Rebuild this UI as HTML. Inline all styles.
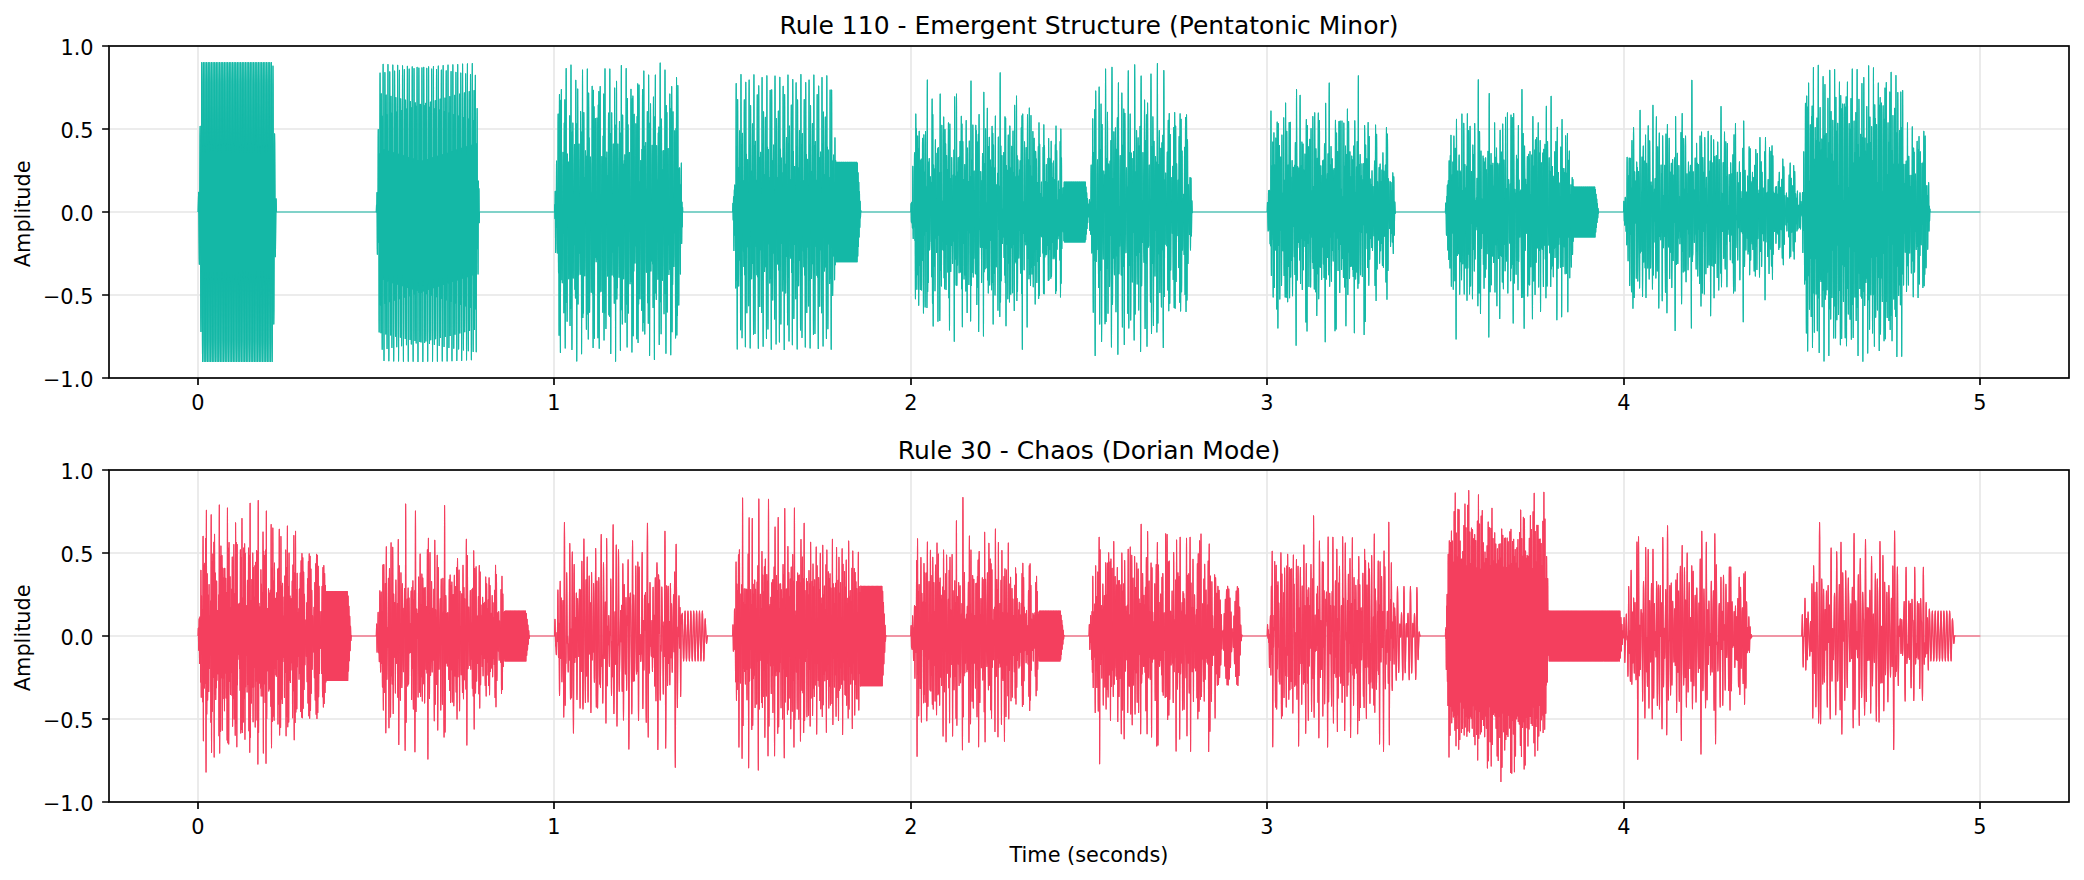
<!DOCTYPE html>
<html lang="en"><head><meta charset="utf-8"><title>Cellular Automaton Music Waveforms</title>
<style>html,body{margin:0;padding:0;background:#fff}body{width:2084px;height:880px;overflow:hidden}svg{display:block}</style>
</head><body>
<svg width="2084" height="880" viewBox="0 0 2084 880" font-family="'DejaVu Sans','Liberation Sans',sans-serif" fill="#000">
<rect width="2084" height="880" fill="#fff"/>
<path d="M198 46.0V378.0M554 46.0V378.0M911 46.0V378.0M1267 46.0V378.0M1624 46.0V378.0M1980 46.0V378.0M109.0 378H2069.0M109.0 295H2069.0M109.0 212H2069.0M109.0 129H2069.0M109.0 46H2069.0" stroke="#b0b0b0" stroke-opacity="0.3" stroke-width="1.67" fill="none"/>
<g stroke="#14b8a6" stroke-width="1.04" fill="none" stroke-linejoin="round"><path d="M275.97 212h100.8M479.11 212h75.84M682.24 212h50.9M860.42 212h50.9M1191.84 212h75.84M1394.96 212h50.9M1598.08 212h25.97M1929.51 212h50.89"/><path id="w46" d="M198.09 212l.01 0 .08-1.4 .35-16.9 .09-1.4 .12 3.8 .49 62.2 .13 5.9 .13-8 .53-119.7 .13-10.3 .13 12.8 .54 177.8 .13 14.8 .13-16.4 .52-232.2 .13-20.4 .14 19.9 .54 258.4 .13 20.5 .14-19.4 .54-258.3 .13-21.1 .14 19.2 .54 260 .14 19.6 .13-20.6 .54-258.4 .13-19.8 .14 20.1 .54 258.4 .13 20.3 .14-19.6 .54-258.3 .13-20.9 .14 19.4 .54 260 .14 19.4 .13-20.9 .54-258.3 .14-19.6 .13 20.3 .54 258.4 .13 20.1 .14-19.8 .54-258.4 .13-20.6 .14 19.6 .54 260 .14 19.2 .13-21.1 .54-258.3 .14-19.4 .13 20.5 .54 258.4 .13 19.9 .14-20 .54-258.4 .13-20.4 .14 19.5 .54 258.3 .13 21 .14-19.3 .54-260 .14-19.5 .13 20.7 .54 258.4 .13 19.7 .07-5 .26-102.1 .07-37.6 0-.8 .01-3.1 0-.8 0-.8 0-3.1 .01-.8 .06-37.6 .27-102.1 .06-5 .14 19.7 .54 258.4 .13 20.7 .14-19.5 .54-260 .14-19.3 .13 21 .54 258.3 .13 19.5 .14-20.4 .54-258.4 .13-20 .14 19.9 .54 258.4 .13 20.5 .14-19.4 .53-258.3 .14-21.1 .13 19.2 .55 260 .13 19.6 .14-20.6 .54-258.4 .13-19.8 .14 20.1 .54 258.4 .13 20.3 .14-19.6 .53-258.3 .14-20.9 .14 19.4 .54 260 .14 19.4 .13-20.9 .54-258.3 .13-19.6 .14 20.3 .54 258.4 .13 20.1 .14-19.8 .53-258.4 .14-20.6 .14 19.6 .54 260 .14 19.2 .13-21.1 .54-258.3 .13-19.4 .14 20.5 .54 258.4 .13 19.9 .14-20 .54-258.4 .13-20.4 .13 19.5 .54 258.3 .14 21 .13-19.3 .55-260 .13-19.5 .14 20.7 .54 258.4 .13 19.7 .07-5 .26-102.1 .07-37.6 0-.8 .01-3.1 0-.8 0-.8 0-3.1 0-.8 .07-37.6 .26-102.1 .07-5 .14 19.7 .53 258.4 .14 20.7 .13-19.5 .55-260 .13-19.3 .14 21 .54 258.3 .13 19.5 .14-20.4 .54-258.4 .13-20 .14 19.9 .53 258.4 .14 20.5 .13-19.4 .54-258.3 .14-21.1 .13 19.2 .55 260 .13 19.6 .14-20.6 .54-258.4 .13-19.8 .14 20.1 .53 258.4 .14 20.3 .13-19.6 .54-258.3 .14-20.9 .13 19.4 .55 260 .13 19.4 .14-20.9 .54-258.3 .13-19.6 .14 20.3 .54 258.4 .13 20.1 .13-19.8 .54-258.4 .14-20.6 .13 19.6 .55 260 .13 19.2 .14-21.1 .54-258.3 .13-19.4 .14 20.5 .54 258.4 .13 19.9 .13-20 .54-258.4 .14-20.4 .13 19.5 .54 258.3 .14 21 .13-19.3 .55-260 .13-19.5 .14 20.7 .54 258.4 .13 19.7 .07-5 .26-102.1 .07-37.6 0-.8 0-3.1 0-.8 .01-.8 0-3.1 0-.8 .07-37.6 .26-102.1 .07-5 .13 19.7 .54 258.4 .14 20.7 .13-19.5 .55-260 .13-19.3 .14 21 .54 258.3 .13 19.5 .14-20.4 .53-258.4 .14-20 .13 19.9 .54 258.4 .14 20.5 .13-19.4 .54-258.3 .14-21.1 .13 19.2 .55 260 .13 19.6 .14-20.6 .53-258.4 .14-19.8 .13 20.1 .54 258.4 .14 20.3 .13-19.6 .54-258.3 .14-20.9 .13 19.4 .55 260 .13 19.4 .14-20.9 .54-258.3 .13-19.6 .13 20.3 .54 258.4 .14 20.1 .13-19.8 .54-258.4 .14-20.6 .13 19.6 .55 260 .13 19.2 .14-21.1 .54-258.3 .13-19.4 .13 20.5 .54 258.4 .14 19.9 .13-20 .54-258.4 .14-20.4 .13 19.5 .54 258.3 .13 21 .14-19.3 .54-260 .14-19.5 .14 20.7 .53 258.4 .14 19.7 .06-5 .27-102.1 .06-37.6 .01-.8 0-3.1 0-.8 0-.8 .01-3.1 0-.8 .07-37.6 .26-102.1 .07-5 .13 19.7 .54 258.4 .13 20.7 .14-19.5 .55-260 .13-19.3 .14 21 .53 258.3 .14 19.5 .13-19.6 .53-255.1 .13-20.8 .13 19.6 .54 222.9 .13 15.7 .13-14.1 .54-165 .13-11.3 .13 9.6 .52 106.6 .13 6.9 .12-4.7 .48-50.4 .12-2.9 .07 .7 .24 10.1 .07 2.2 0 .2M376.27 212l.01 0 .04-.6 .16-6.1 .03-.4 .04 .5 .15 6.2 .03 .6 .05-.9 .18-16.8 .05-1.9 .06 2.9 .23 53.5 .06 5.2 .05-2.8 .2-41.7 .05-3.2 .04 2.3 .17 31.1 .04 2.4 .06-7 .23-97.9 .06-7.9 .05 7.6 .22 92 .05 6.6 .04-3.4 .16-43.4 .04-4 .05 7.9 .23 129 .06 10.3 .05-13 .23-154.2 .06-11.2 .04 4.9 .16 63.1 .04 5.1 .05-9.4 .2-132.8 .06-11.5 .06 15.2 .23 201.7 .06 14.9 .04-6.4 .18-81.7 .04-6.8 .05 7 .19 105.4 .04 10.3 .06-13.8 .25-209.5 .06-15.7 .04 8.8 .19 103.5 .05 7.3 .04-6.5 .17-83.2 .05-7.5 .06 13.3 .23 202.5 .06 17.3 .05-9.6 .21-130.5 .05-10.2 .04 5 .17 70.4 .04 5.1 .06-14.4 .23-187.3 .06-13.4 .05 14.3 .22 157 .05 11.5 .04-4.9 .16-64.9 .04-4.6 .06 12.3 .22 163.2 .06 12.3 .05-15.5 .23-181.9 .05-13.8 .05 4.7 .16 67.9 .04 6.2 .05-8.4 .21-136 .05-11.3 .06 16.2 .24 201 .06 13.8 .04-7.1 .17-80.9 .05-5.8 .04 8 .19 106.7 .05 9.6 .06-14.8 .24-209.6 .06-14.5 .05 9 .18 100.6 .05 8.3 .04-5.5 .18-85.5 .04-7.3 .06 14.5 .24 203.1 .06 16.2 .05-10.4 .21-129.2 .05-9 .04 5.5 .16 69.5 .04 6.2 .06-12 .23-187.8 .06-16.6 .05 12 .22 158.3 .06 10.8 .04-5.3 .15-63.5 .04-5.7 .06 10.3 .22 163.9 .05 15.3 .06-13.1 .23-183.5 .06-13.2 .04 5.3 .16 67.6 .04 5.4 .06-9.6 .21-137.4 .05-10.5 .06 17.2 .24 200.3 .05 12.6 .05-7.3 .16-78.6 .04-6.7 .05 6.9 .2 109.6 .05 9.4 .06-15.3 .23-206.7 .06-16.8 .05 7.3 .19 101.4 .04 7.7 .05-6.5 .18-86.4 .04-6.7 .06 15.7 .24 203.6 .06 15.2 .05-11.3 .2-127.7 .05-7.9 .04 6.4 .17 70 .04 5.6 .05-13.2 .24-189 .05-15.5 .06 12.8 .22 156.9 .05 9.6 .04-6 .16-63.6 .04-5 .05 11.5 .23 165.3 .05 14.4 .06-14 .23-182.4 .06-12 .04 6 .16 67.2 .04 4.6 .05-10.3 .21-136.4 .05-12.6 .06 14 .23 200 .06 15.3 .05-6 .17-79.5 .04-6.2 .05 8.1 .19 110.9 .05 8.6 .06-16.3 .24-206.6 .06-15.8 .05 8.1 .18 100.3 .05 6.6 .04-7.2 .18-85.6 .04-8 .06 13.5 .24 206.6 .06 14.9 .05-11.4 .2-124.7 .05-9 .04 5.4 .17 71.9 .04 5.3 .06-14.3 .23-189.9 .06-14.7 .05 13.2 .22 153.4 .05 11 .04-5 .17-65.1 .04-4.5 .05 12.7 .22 166.5 .06 13.6 .05-14.3 .23-179 .06-13.7 .04 4.5 .16 66.9 .04 5.9 .05-9 .21-139.7 .05-12.4 .06 15 .24 199.3 .06 14.2 .04-6.7 .17-78.7 .05-5.2 .05 8.7 .18 110 .05 10.4 .06-13.9 .24-209.2 .06-15.4 .05 8.3 .18 97.6 .05 7.6 .04-6.2 .18-88.1 .05-7.8 .06 14 .23 204.2 .06 17.3 .05-9.4 .21-125.5 .05-8.4 .04 6 .16 70.9 .04 6.5 .06-12.5 .24-193.2 .06-14.3 .05 13.9 .22 152.1 .05 9.8 .04-5.5 .16-63.8 .03-5.5 .06 11 .23 170.1 .05 13.3 .06-15.2 .23-177.9 .05-12.5 .04 5.3 .16 66.6 .05 5.1 .05-10.2 .21-141.2 .05-11.6 .06 16.1 .24 198.5 .06 13 .04-6.9 .16-76.6 .05-6.1 .05 7.6 .19 113.1 .05 10.2 .06-15.1 .24-209 .06-14.3 .05 9.1 .18 96.4 .05 6.6 .04-7.3 .18-89 .04-7.1 .06 15.1 .24 204.7 .06 16.2 .05-9.6 .2-122.4 .05-9.6 .04 5.1 .17 72.9 .04 6.2 .06-13 .23-191.4 .06-16.7 .05 11.1 .21 151.1 .06 11.8 .04-4.6 .16-65.3 .04-5.2 .06 12.3 .22 171.3 .06 12.4 .06-16.1 .22-176.6 .06-11.3 .04 5.6 .15 64.9 .04 6 .06-8.9 .21-144.4 .06-11.4 .05 16.3 .24 195.4 .05 15 .05-5.7 .17-77.4 .04-5.6 .05 8.8 .2 114.3 .04 9.5 .06-15.5 .24-206.1 .06-16.5 .05 7 .18 95.6 .04 8 .05-6.3 .18-91.5 .05-6.9 .06 16.2 .24 205.1 .05 15.2 .05-10.4 .2-121.1 .05-8.4 .05 6 .16 73.5 .04 5.5 .06-14.2 .23-192.3 .06-15.8 .06 11.9 .21 149.9 .05 10.5 .05-5.3 .16-65.5 .04-4.4 .05 12.9 .22 169.8 .06 14.8 .06-13 .22-176 .06-13.5 .04 4.5 .16 66.1 .04 5.6 .05-9.6 .21-143.4 .06-13.5 .05 13.8 .24 197.4 .06 14.4 .04-5.9 .17-75.4 .04-6.5 .05 7.8 .2 117.2 .05 9.3 .06-16.5 .24-205.9 .06-15.4 .04 7.7 .19 94.6 .04 6.9 .05-6.9 .17-90.7 .05-8.4 .06 14 .24 208 .06 14.9 .05-10.6 .19-118 .05-9.5 .04 4.7 .17 73.9 .04 7.1 .06-12.3 .24-195.5 .06-15.5 .05 12.7 .22 148.5 .05 9.3 .04-5.7 .16-64.3 .04-5.5 .05 11.3 .23 173.3 .06 14.6 .05-13.9 .23-174.9 .05-12.3 .04 5.2 .17 65.9 .04 4.8 .05-10.8 .21-144.8 .05-12.7 .06 14.8 .24 196.6 .06 13.3 .04-6.7 .17-74.7 .04-5.5 .05 8.3 .19 116.5 .05 11.1 .06-14.1 .24-208.4 .06-14.9 .05 7.9 .17 92 .05 7.8 .05-5.9 .18-93.3 .04-8.2 .06 14.5 .24 205.6 .06 17.3 .05-8.8 .2-118.8 .05-8.8 .04 5.6 .17 74.6 .04 6.5 .06-13.5 .24-196.4 .05-14.6 .06 13 .21 145.1 .05 10.7 .04-4.8 .16-65.9 .04-5.1 .06 12.5 .23 174.5 .05 13.7 .06-14.9 .22-173.5 .06-11.2 .04 5.6 .16 64.3 .04 5.7 .05-9.4 .21-148.2 .06-12.5 .06 15.9 .24 195.6 .05 12.1 .04-6.8 .17-72.7 .04-6.4 .05 7.3 .2 119.4 .05 10.9 .06-15.1 .24-208.1 .06-13.8 .04 8.6 .18 91 .05 6.8 .04-7 .18-94.3 .05-7.5 .06 15.6 .24 205.9 .06 16.2 .05-9.5 .2-117.6 .05-7.6 .04 6.5 .16 75.2 .05 5.8 .05-14 .24-194.4 .05-17 .06 10.8 .21 146.2 .06 10 .04-5.3 .15-64.6 .04-6.2 .06 10.8 .23 177.9 .06 13.4 .05-15.1 .22-170 .06-12.8 .04 4.5 .16 65.5 .04 5.3 .06-10.6 .21-149.6 .06-11.7 .05 16.1 .23 192.5 .06 14 .04-5.7 .17-73.6 .04-5.9 .05 8.4 .2 120.8 .05 10.2 .06-15.4 .24-205.2 .06-16 .04 7.1 .19 91.7 .04 6.2 .05-8 .18-95.3 .05-6.8 .06 16.7 .23 206.1 .06 15.1 .05-9.7 .2-114.6 .04-8.7 .05 5.7 .17 77.2 .04 5.5 .06-15.1 .23-195.2 .06-16 .05 11 .21 142.8 .05 11.3 .05-4.3 .16-66.3 .04-5.8 .05 11.4 .23 176.5 .06 15.8 .05-12.7 .23-171.6 .06-12.1 .04 5.2 .16 65.4 .04 4.4 .05-11.8 .22-150.9 .05-10.8 .06 17.1 .23 191.5 .06 12.8 .04-6.3 .17-73 .04-5 .05 9.5 .2 122.1 .05 9.5 .06-16.5 .24-204.8 .05-14.9 .05 7.3 .18 89.3 .04 7.2 .05-6.7 .18-96.2 .05-8.8 .06 14.5 .24 209 .06 14.7 .05-10.4 .19-113.3 .05-7.6 .04 6.2 .17 76.4 .04 6.8 .06-13.2 .24-198.4 .06-15.7 .05 11.8 .21 141.5 .05 10.1 .04-5.2 .16-66.5 .04-5.2 .06 12.7 .23 177.6 .05 14.9 .06-13.6 .23-170.3 .05-10.9 .04 5.6 .16 63.9 .04 5.4 .05-9.9 .22-151.8 .05-13.7 .06 14.6 .24 193.4 .06 12.3 .04-6.6 .16-71 .04-6 .05 8 .2 123 .05 11.9 .06-14.1 .24-207.2 .06-14.4 .05 8 .17 88.3 .05 6.2 .04-7.7 .19-97.3 .04-8.2 .06 15 .24 206.4 .06 17.1 .05-8.1 .19-112.3 .05-9.2 .04 5.3 .17 78.6 .05 6.5 .06-14.4 .23-199.1 .06-14.8 .06 12.7 .21 140 .05 8.9 .04-5.6 .15-65.4 .04-6.2 .06 11 .23 180.9 .06 14.7 .06-13.9 .22-166.8 .05-12.5 .04 4.6 .16 65.1 .04 5 .06-11.1 .21-153.2 .06-12.9 .05 15 .24 190.1 .05 14.1 .05-5.4 .16-72 .04-5.4 .05 9.1 .2 124.4 .05 11.2 .06-15.2 .25-206.7 .06-13.3 .04 8.2 .17 85.8 .05 7.1 .04-6.6 .19-100.1 .05-7.8 .06 16 .24 206.6 .05 16 .05-8.8 .2-111.2 .05-8 .04 6.3 .17 79.3 .04 5.8 .06-15.5 .24-199.8 .06-13.8 .05 12.8 .21 136.8 .05 10.2 .04-4.7 .16-67.1 .04-5.9 .06 12.1 .23 182.2 .06 13.7 .05-14.7 .22-165.5 .06-11.4 .04 5.1 .15 63.6 .04 5.9 .06-9.6 .22-156.6 .05-12.6 .06 15.8 .23 189.2 .06 13 .04-5.7 .16-70.2 .04-6.2 .05 7.9 .21 127.5 .05 11 .06-15.5 .24-203.7 .06-15.5 .04 6.8 .18 86.7 .04 6.5 .05-7.4 .18-99.2 .05-9.5 .06 13.7 .24 209.4 .06 15.7 .05-9.6 .19-109.9 .05-6.9 .04 6.8 .17 78.5 .04 7.2 .06-12.9 .24-200.2 .06-16.9 .05 10.7 .21 137.8 .05 9.5 .04-5.5 .17-67.5 .04-5.2 .05 12.7 .23 180.6 .06 16.1 .05-12.3 .23-166.9 .05-10.7 .04 5.8 .16 63.5 .04 5.2 .05-10.8 .22-158 .06-11.8 .06 16.9 .23 188 .06 11.9 .04-6.4 .16-69.7 .04-5.4 .05 9.1 .21 128.9 .05 10.2 .06-16.5 .23-203.2 .06-14.3 .05 7.5 .17 85.7 .05 5.5 .05-8.4 .18-100.4 .04-8.8 .06 14.8 .25 209.5 .06 14.6 .04-9.8 .19-106.9 .05-8 .04 5.9 .18 80.7 .04 6.9 .06-14 .24-200.9 .05-15.9 .06 11.5 .21 136.4 .05 8.3 .04-6 .16-66.3 .03-6.3 .06 11 .23 183.8 .06 16 .06-12.7 .22-163.4 .05-12.2 .04 4.7 .16 64.9 .05 4.8 .05-11.6 .21-156.7 .06-14 .06 13.7 .23 187.5 .06 14.3 .04-5.3 .16-70.6 .05-4.9 .05 10.3 .2 130.2 .05 9.4 .06-17.6 .24-202.6 .06-13.1 .04 7.7 .17 83.4 .05 6.4 .04-7.4 .19-103.2 .05-8.6 .06 15.3 .24 206.8 .06 16.9 .04-8 .2-107.8 .05-7.3 .04 6.9 .17 81.5 .05 6.2 .05-15.2 .24-201.5 .06-14.9 .05 11.8 .21 133.1 .05 9.6 .04-5.1 .16-68.2 .04-6 .06 12.2 .23 185.1 .06 15 .05-13.5 .22-162.2 .06-11 .04 5.2 .15 63.5 .04 5.7 .06-10.1 .22-160.1 .06-13.8 .05 14.6 .23 186.5 .06 13.1 .04-5.5 .16-68.9 .05-5.8 .05 8.6 .2 131.1 .05 12.1 .06-14.5 .24-202.3 .06-15.9 .04 6.3 .18 84.2 .04 5.8 .05-8.5 .19-104.3 .05-7.9 .06 16.4 .23 206.8 .06 15.8 .05-8.3 .19-104.8 .05-8.4 .04 5.6 .17 82 .04 8.1 .06-13.1 .25-204.6 .06-14.5 .05 12.5 .2 131.7 .05 8.4 .05-6 .16-68.6 .04-5.3 .06 13.4 .23 186.1 .05 14.1 .06-14.4 .22-160.7 .06-9.8 .04 5.9 .15 63.4 .04 5 .06-11.2 .22-161.6 .05-12.9 .06 15.6 .23 185.4 .06 11.9 .04-6.2 .16-68.4 .04-5 .05 9.8 .21 132.5 .05 11.3 .06-15.5 .23-201.8 .06-14.7 .05 6.6 .17 81.8 .04 6.8 .05-7 .19-105.2 .05-10.1 .06 14 .24 209.6 .06 15.4 .05-9 .18-103.7 .05-7.3 .05 6.6 .17 82.9 .04 7.4 .06-13.6 .24-202.4 .06-17 .05 10 .2 130.8 .05 10.1 .05-5.1 .16-70.3 .04-5 .06 14.6 .23 187.1 .06 13 .06-14.5 .21-157.3 .05-11.3 .04 4.9 .17 64.9 .04 4.5 .05-12.4 .22-162.9 .06-12 .05 15.8 .23 182.1 .06 13.6 .04-4.8 .16-68 .04-6.2 .05 8.5 .21 135.8 .06 11 .05-16.5 .24-201.1 .06-13.6 .04 7.3 .18 81 .04 5.8 .05-8.1 .19-106.4 .04-9.4 .06 15.1 .25 209.5 .06 14.4 .04-9.3 .18-100.8 .05-8.3 .05 5.6 .17 85.3 .05 7.1 .06-14.7 .23-203 .06-16 .05 10.7 .21 129.5 .05 9 .04-5.6 .16-69.4 .04-6.1 .06 12.1 .23 183 .06 13.3 .05-13.8 .23-146.4 .05-8.7 .04 4.9 .16 52 .04 4.1 .05-8.7 .22-118.2 .06-8.4 .05 11.5 .24 121.7 .05 7 .04-3.9 .17-39.2 .04-2.7 .05 4.7 .2 61.2 .05 5.2 .05-6.2 .24-81.1 .06-5.8 .05 2.2 .17 27.4 .05 2.1 .04-1.5 .18-21 .04-1.8 .06 2.5 .23 30.2 .06 1.7 .05-1.3 .21-9.3 .06-.2 .02 0 .01 0M554.45 212l.01 0 .04-.7 .15-6.3 .04-.5 .04 1 .18 12.2 .05 1 .04-1.7 .2-23.6 .05-2.1 .05 3.7 .24 52.9 .05 4.6 .06-3.9 .22-49 .05-3.2 .05 2.5 .17 26.7 .04 1.9 .06-4.6 .23-57.9 .06-3.9 .13 19.5 .51 62.8 .13 9.6 .05-2.3 .22-31.9 .06-2.1 .02 .4 .1 4.9 .03 .5 .06-4.2 .24-94.5 .07-9.8 .06 9.8 .23 138 .06 11 .05-6.1 .18-80.4 .05-6.8 .05 9 .21 134.2 .05 12.5 .06-14.4 .24-209.8 .06-16.5 .05 11.7 .2 144.8 .06 10 .04-11.2 .2-137.1 .05-12.4 .06 14.8 .23 221.5 .06 15.9 .06-15.1 .21-168.7 .05-11.6 .05 9 .19 106.1 .05 7.6 .05-13.4 .23-164.6 .06-12.2 .06 13.3 .23 147.9 .06 8.8 .04-4.4 .17-45.6 .04-3.3 .06 5.3 .21 66.4 .05 4.7 .12-23.7 .48-96.3 .12-10.5 .06 4.5 .25 71.3 .07 5.1 .03-1.9 .14-21.9 .04-2.1 .05 4.9 .22 91.5 .06 9.2 .06-11.1 .24-165.6 .06-13.1 .05 8.4 .19 105.9 .05 8.7 .05-8.6 .2-125.8 .05-11.9 .06 14.3 .24 216.8 .06 17.2 .05-13.4 .21-166.2 .05-13.5 .05 9 .2 128.1 .04 10.5 .06-14.6 .23-202 .05-17.4 .06 13.3 .23 182.5 .05 14.1 .05-7.2 .19-95.4 .05-6.8 .05 10.8 .21 131.1 .06 10.4 .06-12.4 .25-146 .06-9 .04 3.5 .18 37.3 .04 2.3 .04-2.7 .17-30.3 .05-2.3 .12 17.9 .48 86.1 .12 13.1 .07-6 .26-101.6 .06-9.1 .05 3.4 .17 47.7 .04 4.6 .05-5.1 .21-88.8 .05-8.1 .06 12.8 .24 183.3 .06 13.6 .05-11.7 .21-134.8 .05-10.3 .05 9.1 .19 121 .05 9.7 .06-15.8 .23-211.8 .06-15.8 .05 16.2 .22 188.9 .06 12.9 .05-10.2 .18-120.3 .05-9.4 .06 13.3 .22 178.7 .05 14.4 .06-15 .23-188.2 .06-14.4 .05 6.5 .19 88.9 .04 7.2 .05-7 .21-96.8 .05-7.7 .06 11.7 .26 135.7 .07 7.4 .05-4 .18-32.7 .05-1.5 .03 .4 .09 4.6 .03 .4 .13-14.4 .53-68.4 .14-17.9 .06 8.1 .26 126.8 .06 10 .05-6.8 .2-79.7 .05-6.1 .04 6.2 .19 86.8 .05 8.2 .06-11.8 .23-189.2 .06-16.6 .06 12.5 .22 167.4 .05 11.3 .05-10.5 .19-119 .05-8.9 .05 14.6 .22 195.8 .06 17.5 .06-14.7 .23-207.9 .06-14.8 .04 10 .19 118.5 .05 10 .05-10.5 .22-151.4 .05-11.1 .06 16.3 .24 185.9 .06 12.8 .05-7.4 .19-87.2 .05-6.8 .05 4.6 .18 63.2 .05 4.6 .07-10.4 .26-114.2 .06-6.6 .12 15.3 .51 78.2 .12 15.9 .04-1.4 .14-16.3 .04-1.4 .04 2.1 .18 34.8 .05 3.1 .06-8.9 .25-140.4 .06-13.4 .05 8 .22 116.6 .05 8.6 .05-7.2 .18-90.1 .05-8 .05 12.3 .24 187.1 .05 15 .06-15.7 .23-193.1 .05-13.2 .05 10.6 .19 122.8 .05 9.8 .05-12.6 .21-177.2 .06-15.3 .06 16.4 .23 216.9 .06 14.2 .05-11.4 .2-122.3 .05-9.1 .04 8.9 .2 119.3 .05 10.3 .06-13 .25-175.1 .06-12.6 .05 8 .21 89.9 .05 6.1 .04-2.7 .16-33.8 .05-2.4 .06 7.2 .25 85.4 .07 5.7 .12-11 .47-93 .12-21.1 .05 3.6 .2 49.3 .05 3.5 .05-3.4 .16-40.9 .04-3.3 .06 10 .25 148.2 .06 11.5 .05-12.7 .22-149.1 .06-11.3 .05 7.9 .18 100.6 .05 7.1 .06-14.1 .22-175.9 .05-12.7 .06 17.8 .23 210.2 .05 17.1 .05-9.7 .2-134.7 .05-9.6 .05 12.5 .21 153.7 .05 12.6 .06-16.3 .23-214.4 .06-15.2 .06 11.6 .2 130.3 .05 9.4 .05-7.2 .19-92 .04-7.4 .06 12 .25 152.8 .06 9.8 .06-10 .23-93 .05-4.9 .04 1.2 .12 12.1 .03 .8 .06-4.3 .24-53.5 .06-3.6 .12 10.4 .5 98.1 .12 26.7 .06-6.9 .22-86.4 .05-6.2 .04 4.3 .17 51.9 .04 4.9 .06-8.8 .23-146.4 .06-12.5 .06 14.1 .23 180.5 .06 12.9 .04-9.5 .19-113.4 .05-9.4 .05 11.1 .21 160.2 .05 14.7 .06-15.6 .24-225.2 .06-16.4 .05 12.3 .2 145.1 .05 12.1 .05-8.8 .2-132.9 .05-11.3 .06 15 .23 202.3 .06 14.3 .06-12.7 .21-138.6 .06-9.7 .04 5.5 .18 68.9 .04 5.7 .06-8.9 .23-120.3 .06-9.6 .07 10.4 .28 97.2 .07 2.9 .01-.1 .05-.4 .01 0 .05 1.4 .22 29.2 .06 2.6 .05-2.9 .22-30.3 .06-1.3 .01 0 .05 .7 .01 .1 .07-3.1 .27-96.4 .07-10.5 .06 9.2 .23 122.1 .06 9.8 .05-5.1 .17-69.8 .05-6.4 .05 8.5 .22 137.8 .05 13.6 .06-13.2 .24-203.1 .06-16.4 .05 10.4 .2 134 .05 10.3 .05-10.8 .19-144.2 .05-13.3 .06 15 .24 224.9 .06 16.9 .05-13.7 .21-161.3 .05-12.4 .05 8.6 .2 114.6 .05 7.9 .05-14.8 .23-176.6 .06-14.2 .05 11.6 .23 147 .06 9.8 .05-4.5 .17-52.3 .04-3.5 .06 7 .21 83.1 .05 6.7 .13-26 .49-98.6 .13-10.1 .06 3.9 .23 55.2 .06 4.6 .04-.9 .13-13.3 .03-1 .06 5.7 .23 93.3 .05 8.2 .06-11.6 .24-152.4 .06-12.4 .05 6.8 .19 93.2 .04 8.3 .05-8.2 .21-129.5 .05-12.5 .06 13.9 .24 214.6 .06 17.6 .05-12.2 .21-157.4 .05-11 .05 11 .19 132 .05 10.2 .06-16.5 .23-212.3 .06-15.2 .05 15.8 .23 176.3 .05 11.9 .05-8.4 .18-98.2 .05-8.3 .05 10.5 .23 149.5 .05 10.7 .07-14.1 .24-147.5 .06-8.4 .04 4.2 .17 40.4 .04 2.8 .05-3.9 .19-46.7 .05-3.3 .12 20.7 .48 92.3 .12 11 .06-5.6 .26-87 .06-7.8 .04 2.3 .16 35 .04 3.3 .05-5.3 .21-89.3 .06-8.7 .06 11.8 .24 175.9 .06 14.1 .05-9.6 .2-120.8 .05-10.3 .05 8.5 .2 123.9 .05 9.8 .06-16.4 .23-213.8 .06-16.9 .05 14.3 .22 178.5 .05 14.1 .05-9.1 .19-124.7 .05-8.9 .06 15.1 .22 189 .05 16.1 .06-14 .23-187.6 .06-13.7 .05 7.6 .18 91.5 .05 6.1 .05-9.7 .21-112.9 .06-8.1 .06 13.2 .25 141.4 .07 7.6 .04-3.7 .17-33.9 .04-2.4 .04 1 .15 15 .03 1.2 .13-16.1 .5-76.4 .12-15.5 .07 6.4 .26 115.3 .06 11 .05-4.3 .19-64.8 .05-5.4 .04 5.9 .2 86.8 .05 8.2 .06-12.4 .24-188.8 .06-14 .05 13.2 .21 150.6 .06 11.4 .04-8.8 .19-118.4 .05-11 .06 13.3 .23 207 .06 15.9 .05-17.1 .23-199.5 .05-12.8 .05 11 .19 118.9 .05 8.6 .05-12.9 .22-163.4 .05-12.8 .06 15.5 .24 189.3 .06 13 .04-7.5 .19-87 .05-7 .05 5.5 .2 79.2 .05 5.5 .06-12 .26-125.1 .07-6.6 .13 18.6 .52 68.3 .13 15.1 .03-.4 .1-5.7 .03-.6 .05 1.8 .19 33 .04 3.2 .07-8.6 .25-135.1 .06-12 .06 7.4 .2 98.6 .05 8.1 .05-6.3 .19-88.9 .04-7.4 .06 13.2 .23 187.8 .06 16.1 .06-13.4 .22-180.2 .05-14.8 .05 8.7 .2 122.7 .04 8.8 .06-14.8 .21-185 .06-16.6 .05 14.6 .24 212.3 .05 17.2 .05-8.6 .2-121.3 .05-10.3 .05 9.5 .21 135.3 .05 9.8 .06-15.7 .24-180.2 .06-13.1 .05 7.4 .2 89.2 .05 6 .05-3.9 .17-46.3 .04-3.6 .07 8.6 .25 100.2 .07 6 .12-12.9 .49-87.4 .12-18 .04 2.6 .18 32.5 .04 2.5 .05-2.7 .16-36.8 .04-3.7 .07 8.3 .24 146 .07 13.2 .05-10.3 .22-135 .06-9.5 .04 8 .19 94.1 .04 7.8 .06-12.7 .22-181.9 .06-14.3 .06 16.2 .22 203.2 .06 16.1 .05-9.4 .19-128.7 .05-10.2 .05 12 .21 164.8 .06 14.4 .06-15.8 .23-216.9 .06-15.6 .05 10.9 .2 126.4 .05 9.9 .05-7.5 .19-104.5 .05-9.1 .06 12.1 .25 164.4 .06 11.9 .05-8.6 .22-92.1 .06-5.7 .03 1.8 .15 21.4 .04 1.4 .06-6 .25-68.6 .06-4.1 .12 10.6 .48 96.5 .12 24.1 .05-4.7 .21-68.2 .05-6.1 .04 3 .18 47.1 .04 3.7 .06-10 .23-145.8 .06-13.6 .06 12 .23 168.5 .05 11.8 .05-9.5 .19-106.8 .05-7.2 .05 13.7 .22 168 .05 12.2 .06-18.5 .23-219.1 .06-15.5 .05 12.1 .2 140 .05 9.9 .05-11.4 .2-141.3 .05-12.1 .06 15.2 .23 209.2 .06 15.4 .05-11.5 .21-134.9 .06-10.2 .04 5.8 .19 79.3 .04 6.7 .06-10.1 .24-136.3 .06-10.3 .06 9.6 .25 96 .07 4.2 .02-.5 .09-4.5 .02-.3 .06 2.5 .23 39 .05 2.7 .13-12.1 .52-95.9 .13-31.3 .06 8.2 .22 105.4 .06 8.5 .04-4.3 .17-60.6 .05-6 .05 8.4 .23 143.5 .06 12 .06-15 .23-192.1 .05-15.1 .05 9.3 .2 123.8 .05 10.4 .05-10.8 .21-154.2 .05-11.3 .06 18.6 .23 223.3 .06 16.7 .05-13 .21-155.9 .05-10.2 .05 10.4 .19 119.7 .05 10.6 .06-13.1 .23-192.3 .06-13.7 .06 13.1 .22 142.4 .05 10.2 .05-4.7 .18-60.2 .04-3.9 .06 9 .22 101.4 .06 6.6 .13-32.7 .51-94.9 .13-10.8 .05 3.4 .23 41.8 .06 2.8 .02-.4 .1-5.7 .02-.6 .06 3.9 .25 94.3 .06 10.3 .06-9.3 .24-139.6 .06-12 .05 5.9 .18 83 .05 5.9 .05-10.7 .21-133.9 .06-10 .05 16.7 .24 207.6 .05 17.1 .06-10.8 .2-146 .05-11.5 .05 10.5 .2 138.6 .05 10.7 .06-17.2 .23-217.9 .06-16.4 .05 14.1 .22 169.6 .05 13 .05-7.8 .19-105.5 .04-8.4 .06 12.1 .23 163 .05 12.9 .06-12.4 .24-148.3 .06-9.7 .04 3.8 .17 45.2 .04 3.7 .05-4.6 .21-64.4 .05-4.7 .12 23.2 .48 96.1 .12 10.4 .07-4.6 .25-73 .06-5.6 .04 2 .15 23.5 .03 1.9 .06-5.6 .21-89.9 .05-9.4 .07 10.4 .24 166.6 .06 14.2 .05-8.2 .2-109.1 .05-7.6 .05 10.3 .2 125.5 .05 9.6 .05-16.5 .24-214 .05-17.6 .06 12.9 .21 170.1 .06 11.8 .04-10.4 .19-125.4 .05-11 .06 13.8 .23 203.7 .06 14.9 .05-16.4 .23-182.8 .06-11.8 .04 8.4 .19 93.4 .04 7.3 .06-9.6 .21-129.3 .05-11 .07 11.6 .24 145.9 .07 9.8 .04-3 .17-37.3 .05-2.7 .04 2.2 .17 28.7 .04 2.2 .13-17.8 .48-84.8 .12-13.3 .07 5.8 .25 103.1 .07 9.6 .04-3.4 .18-50.1 .05-4.2 .05 5.8 .19 87.2 .05 8.5 .07-11.9 .24-183.8 .06-14.7 .05 11 .2 136.4 .06 11.6 .04-7.9 .2-120.7 .05-10.7 .05 14.4 .24 211.1 .05 17.1 .06-15.1 .22-190.2 .06-14.4 .04 9.1 .19 120.1 .05 10.5 .05-11.9 .22-177.1 .06-15.3 .06 14.6 .24 190.8 .05 12.6 .05-8.2 .19-88.6 .05-5.9 .05 7.9 .2 93.4 .05 7.8 .06-11.1 .26-135.1 .06-7.8 .05 3.6 .19 33 .05 2 .02-.3 .1-3.7 .02-.3 .08 4.7 .29 55.8 .08 1.8 .02-.1 .06 .8 .22 32.3 .05 4.1 .07-7.8 .26-127.6 .06-10.7 .05 6.4 .19 81.5 .05 7.1 .05-5.7 .19-88.3 .05-7 .06 14.3 .24 189.5 .06 13.6 .05-14.8 .22-166.4 .05-12.1 .05 9.4 .19 119 .04 10.1 .06-13.8 .23-197.8 .05-15 .06 17.3 .23 205.8 .05 15.5 .05-9.4 .2-120.8 .04-8.6 .06 11.9 .21 147.6 .05 11.4 .06-15.2 .24-185.7 .05-13.9 .05 7.2 .2 88.7 .05 6 .05-5.2 .18-60.5 .05-4.5 .06 9.8 .26 112.9 .07 6.9 .12-15 .5-80 .13-15.8 .04 1.7 .15 18 .03 1.3 .05-2.4 .17-34.2 .04-3.3 .07 8.6 .25 142.9 .06 11.7 .05-9.8 .21-116.7 .06-9.3 .04 6.7 .19 92 .05 6.8 .06-14 .22-184.2 .06-15.4 .06 14.7 .22 194.4 .06 14.7 .05-9.5 .18-123.1 .05-11.1 .06 11.7 .22 178.7 .05 12.9 .06-18.9 .23-214.2 .06-14.8 .05 11 .2 124.6 .05 7.9 .05-10.6 .2-117.7 .05-8.1 .06 14.9 .23 171.8 .06 12.9 .06-7.8 .21-91.4 .06-5.5 .04 3 .15 31.9 .04 2.4 .06-6.8 .26-83.8 .06-5.6 .12 10.9 .48 93.8 .12 21.3 .05-3.6 .2-51.2 .05-4.1 .04 3 .17 41.1 .04 3.9 .06-9.2 .24-147.9 .06-12.4 .06 12 .22 150.8 .06 12.6 .04-7 .19-101.1 .05-8.2 .05 12.7 .22 175 .06 13.8 .06-17.4 .23-213.9 .06-15 .05 11.4 .19 133.2 .05 10.4 .05-11 .2-152.4 .05-13.6 .06 15 .24 214.1 .06 16.3 .05-11.1 .21-132.8 .06-8.2 .04 8.1 .18 89 .05 7.6 .06-10.9 .24-151.4 .06-10.4 .06 9.9 .24 94.3 .06 4.4 .03-1.3 .12-11.1 .03-.7 .06 4 .23 52 .06 3.3 .13-10.7 .49-97.8 .13-27.2 .05 6.7 .22 88.4 .06 6.9 .04-4 .17-53.6 .05-4.3 .05 10 .23 144.2 .06 12.8 .05-13.2 .23-181.9 .06-14.2 .05 9 .2 116.3 .04 8.1 .06-13.1 .21-159.6 .05-11.9 .06 18.2 .23 222.5 .06 17 .05-11.9 .2-148.3 .05-10.7 .05 10.2 .2 129.6 .04 11.6 .06-13.6 .24-201.3 .06-15.3 .06 12.3 .22 141.1 .05 8.5 .04-6.3 .18-66.7 .04-5.8 .06 8.4 .24 120 .06 8 .06-12 .28-95.8 .07-3.1 .01 0 .04 .5 .01 0 .05-1 .21-23.3 .06-2.4 .06 2.5 .23 29.3 .05 1.4 .02 0 .05-.5 .01-.1 .06 2.2 .27 64.3 .07 7 .06-5.9 .24-77.7 .06-5.6 .04 3.1 .18 37.2 .04 3.1 .06-3.7 .21-56.3 .05-5.1 .06 5.1 .24 70.5 .05 5 .05-3.1 .2-35.7 .05-2.7 .05 1.6 .19 21.5 .05 1.7 .05-1.4 .2-17.2 .05-1.1 .03 .3 .09 3.4 .03 .8 0 .1 .01 .2M732.64 212l.05-.7 .17-7.5 .04-.6 .06 .9 .21 14.7 .05 1.3 .05-1.3 .21-20.1 .05-1.9 .07 3.2 .26 46.3 .06 4.1 .08-4.8 .3-53.4 .07-2.5 .03 .2 .11 2.3 .02 .1 .04-.5 .16-6.3 .04-.6 .07 2.7 .27 43.9 .06 3.7 .04-1.3 .17-17.3 .04-1.7 .05 3.4 .24 63.5 .05 6.1 .07-11.6 .28-177.2 .07-15.6 .06 14.6 .25 169.3 .06 12.7 .05-9 .22-115.2 .05-9.3 .06 12.8 .25 175.2 .06 14.4 .07-17.4 .28-218.1 .06-13.9 .06 11.4 .23 116.3 .06 8.3 .05-4.3 .2-59.1 .05-4.7 .07 8.3 .27 103.4 .06 6.9 .14-19.8 .54-111.7 .13-23.8 .07 7.8 .26 111.9 .07 9.5 .05-4.8 .2-67.7 .06-5.3 .06 9.1 .23 127.4 .06 11 .07-15.9 .27-220.7 .07-18.5 .06 13.2 .25 174.3 .06 13.3 .05-8.7 .22-113.1 .05-9 .06 12.4 .26 167.7 .06 13 .07-15.7 .28-178.4 .07-10.4 .05 6.2 .22 58 .05 3.6 .04-1.4 .16-17.7 .04-1.4 .07 5.1 .27 62 .07 3.6 .03-.6 .12-6.2 .03-.5 .04 1.1 .17 19.3 .05 2.1 .07-7.6 .29-145.3 .07-13.7 .07 11.8 .26 152.8 .06 10.4 .05-8.7 .21-100.5 .06-8 .06 11.6 .24 163 .06 14.6 .07-16.8 .27-232.1 .07-15.6 .06 14 .24 150 .06 11.5 .05-6.4 .21-89.5 .05-7.6 .07 10.2 .26 139.1 .07 9.2 .08-15.5 .32-120 .08-3.1 .01 0 .05 .4 .01 0 .04-.5 .19-13.1 .04-1.4 .07 4.7 .28 75.9 .06 6.6 .05-2.4 .18-33 .04-3 .06 5.1 .23 84.8 .06 7.4 .07-14.1 .27-196.5 .07-15.1 .06 14.5 .25 172.3 .06 13.3 .06-8.6 .21-116.5 .06-9.8 .06 12.1 .25 175.1 .06 15.5 .07-15.7 .27-211.9 .07-14.9 .06 9.9 .24 107.6 .06 6.2 .04-4.7 .19-49.3 .05-4 .07 7.4 .27 94.5 .07 5.8 .13-16.2 .54-110.7 .14-28.1 .06 8.8 .27 121.6 .06 9.3 .06-6 .2-75.1 .05-6 .06 9.3 .24 135.7 .06 12.9 .07-15.2 .27-227.5 .07-16.8 .06 14.9 .24 169.9 .06 13.2 .06-7.9 .21-110.2 .06-9 .06 11.8 .25 162.8 .07 13.3 .07-13.9 .28-167.3 .07-11.1 .05 3.9 .21 45.4 .05 3 .04-.9 .14-11.7 .03-1 .07 4.1 .27 58.8 .07 3.6 .03-.7 .13-7.9 .03-.6 .05 1.8 .19 32.1 .05 3.6 .07-8.2 .29-156.8 .07-15.1 .06 11.8 .26 159.4 .07 10.9 .05-9.1 .21-104.9 .05-8.7 .06 11.7 .25 169.3 .06 13.2 .07-18.6 .27-227.6 .07-16.4 .06 12.9 .24 145 .06 9.2 .05-7.3 .21-81.7 .05-6.5 .06 10 .27 130.4 .06 8.8 .14-33.7 .54-108.6 .14-11.9 .07 5.8 .27 85.2 .07 6.4 .05-3.5 .18-41.2 .05-3.6 .05 5.8 .24 96 .05 9.3 .07-13.3 .28-204.6 .07-17 .06 13.8 .25 174.3 .06 14 .05-8.3 .22-116.8 .05-10.3 .06 12 .26 176.5 .06 13.5 .07-17.9 .27-204.1 .07-12.5 .06 9.8 .23 95.3 .06 5.4 .05-3.9 .18-40.8 .05-3.2 .06 6.9 .28 84.7 .07 5.4 .13-12.1 .55-109 .13-33.1 .07 9.4 .26 130.8 .07 9.4 .05-7 .21-82 .05-6.8 .06 9.9 .24 145.4 .06 12.2 .07-17.3 .27-227.8 .06-17.7 .07 14 .24 169.1 .07 11 .05-9.4 .21-104.7 .05-8.5 .07 11.7 .25 159.1 .07 11 .07-15.2 .28-154.7 .07-9.6 .05 3 .2 32.2 .05 1.7 .03-.7 .12-7.8 .03-.6 .07 3.8 .27 58.3 .07 4.6 .03-.8 .14-11.9 .04-1.2 .05 2.4 .21 45.6 .05 5 .07-9.3 .28-167.1 .07-16.5 .07 11.5 .26 165.1 .06 11.6 .05-9.3 .21-108.5 .06-9.5 .06 11.3 .25 172.2 .06 14.6 .07-17 .27-224.8 .06-17.6 .06 11.1 .25 137.3 .06 9.2 .05-6.5 .2-74.8 .05-5.5 .07 10 .26 121.1 .07 8.2 .13-28.6 .54-110.4 .14-16 .06 6 .27 93.7 .07 8.5 .05-3.4 .19-50.5 .05-4.6 .06 6.7 .24 108.2 .06 9.4 .07-15.2 .26-209.6 .07-18.1 .07 13.3 .25 177.6 .06 11.8 .06-10.5 .21-116.3 .05-8 .07 14.1 .24 172.2 .07 13.7 .07-16 .27-195.9 .07-13.4 .06 7.8 .23 84.2 .06 4.7 .04-3.3 .18-32.5 .04-2.1 .07 7 .28 75.3 .06 4.4 .05-1.4 .18-12.7 .04-.5 .02 0 .05 .6 .01 0 .08-3.9 .32-120.8 .08-14.5 .06 9.5 .26 137.7 .07 11.8 .05-6.2 .21-89.7 .05-8 .06 9.8 .25 152.2 .06 13.9 .06-15.9 .27-229.4 .07-19.3 .06 12.5 .25 165.1 .06 11.3 .05-8.5 .21-100.3 .06-8.2 .06 11.2 .26 152.5 .06 11.1 .08-14.4 .29-144.5 .07-7.1 .04 2.1 .17 18.5 .04 1.2 .03-.4 .13-6.3 .03-.5 .07 3.9 .27 62.3 .07 4.7 .04-1.6 .15-17.9 .04-1.3 .06 4 .21 58.6 .06 5.8 .07-11 .28-179 .07-14.9 .06 13.8 .25 167.8 .07 11.7 .05-9.8 .22-113.1 .05-8 .06 13.5 .24 172 .06 15.3 .07-16.1 .28-223.2 .07-15.6 .06 11.7 .23 126.8 .06 8.6 .05-5.4 .2-66.4 .05-5.7 .07 8.3 .27 112.9 .06 7.6 .14-24.2 .54-111.6 .13-19.5 .07 7.4 .27 103.9 .07 7.7 .05-4.9 .19-58.3 .05-5.3 .06 7.2 .23 118.1 .06 11.3 .07-14.8 .28-218.4 .07-16.5 .06 15.2 .25 175.2 .06 11.9 .05-10 .22-115 .05-8.3 .06 13.4 .25 169.2 .06 14.4 .07-14.8 .28-188.6 .07-11.7 .06 7.1 .22 70.4 .05 4.6 .05-1.8 .16-24.5 .04-2.2 .07 5.4 .28 68.3 .07 3.9 .04-.7 .13-7.2 .03-.6 .03 .5 .14 8.2 .03 .9 .07-6 .3-132.6 .07-14.5 .07 9.6 .26 145.7 .06 12.2 .06-6.7 .21-95.5 .05-8.9 .06 10.1 .25 160.3 .06 12.8 .07-18.6 .27-230 .06-16.6 .06 13.8 .25 157.7 .06 11.2 .05-7.7 .21-95.2 .05-7.7 .07 10.7 .26 145.2 .06 11 .08-13.5 .3-132.8 .07-5.7 .03 .9 .13 7.3 .04 .4 .03-.6 .13-7.3 .03-.8 .07 3.6 .28 68.9 .07 5.7 .04-2 .17-25 .04-2.2 .06 4.3 .22 72.4 .06 6.7 .07-12.6 .27-187.3 .07-16.2 .07 13.3 .25 171.7 .06 12.4 .06-9.6 .21-115.3 .06-8.6 .06 13.5 .25 175.3 .06 13.6 .06-17.7 .27-215.4 .07-16.1 .06 9.8 .24 117.6 .06 8.2 .05-4.7 .2-58.7 .05-4.3 .06 8.7 .27 102.9 .07 6.5 .13-20.2 .54-111.8 .14-23.3 .06 8.3 .27 112.4 .06 9 .05-5 .2-66.9 .05-6.4 .06 7.9 .25 129.2 .06 10.9 .06-16.7 .27-221.1 .07-17.6 .06 14.1 .25 174.2 .06 12.5 .06-9.3 .21-113 .06-8.4 .06 13.2 .25 167.5 .07 12.2 .06-15.9 .28-176.1 .07-11.9 .05 5.1 .22 58.5 .06 3.5 .04-1.5 .15-17.1 .04-1.5 .06 4.3 .28 61.9 .07 4.1 .03-.4 .12-6.4 .03-.4 .05 1.2 .17 19.8 .04 2 .07-7.9 .3-146.2 .07-13 .06 12 .25 151.2 .07 12.2 .05-7.5 .22-102.3 .05-7.7 .06 12.3 .24 163.3 .06 13.8 .07-17.1 .27-229.4 .07-18 .06 12.1 .24 151.9 .06 11.2 .06-6.9 .21-89.2 .05-7.1 .06 10.4 .26 137.1 .07 10.6 .08-13.8 .33-121.1 .08-3.1 .01 0 .04 .2 .01 .1 .04-.5 .18-13.3 .05-1.7 .07 4.2 .28 77 .07 6.4 .04-2.7 .18-33.3 .05-2.8 .05 5.3 .23 83.9 .06 8.7 .06-11.8 .28-196.3 .07-18 .06 12.5 .25 174.7 .07 13 .05-9.3 .22-116.5 .05-9.2 .06 12.9 .25 175.3 .06 14.6 .07-16.6 .28-211.5 .07-14.2 .05 10 .23 105.9 .06 7.4 .05-3.9 .19-50 .05-3.8 .07 7.9 .28 94 .07 5.4 .13-16.5 .54-111 .13-27.4 .07 9.2 .26 122.1 .07 8.8 .05-6.5 .21-75.5 .05-5.6 .06 10.1 .23 136.1 .06 12.3 .07-15.6 .27-224.9 .07-19.2 .06 12.7 .25 172.1 .06 13 .05-8.6 .22-110 .05-8.4 .06 12.6 .26 162.6 .06 12.6 .07-14.7 .28-166.7 .07-10.5 .05 4.2 .21 44.8 .06 2.7 .03-1 .14-11.5 .04-.9 .06 4.4 .27 58.1 .07 4 .03-.7 .13-8.1 .03-.6 .05 2.1 .2 32.6 .05 3.5 .07-8.8 .28-157.5 .07-14.4 .07 12 .25 157.6 .06 12.8 .06-7.7 .21-106.7 .06-8.6 .06 12.1 .24 167 .06 15.4 .07-16.2 .27-230.3 .07-16 .06 13 .24 142.9 .06 10.8 .05-6.1 .21-82.8 .05-6.3 .07 10.2 .26 128.5 .06 10.1 .14-31 .54-110.4 .14-12.8 .07 4.9 .27 85.3 .07 7.6 .05-2.9 .19-42.3 .04-3.5 .06 6.3 .23 96.5 .06 8.9 .07-14.1 .27-205.1 .07-16 .06 14.6 .25 174.3 .06 13.2 .06-8.9 .21-116.9 .06-9.7 .06 12.8 .25 176.5 .07 12.6 .06-18 .27-201.6 .07-14.5 .06 8.1 .23 95.3 .06 6.6 .05-3.1 .18-41.3 .05-3 .07 7.3 .27 84.2 .07 5 .14-12.2 .54-109.6 .14-32.3 .06 9.6 .26 129.5 .07 10.9 .05-6 .21-83.6 .05-6.7 .06 10.6 .25 145.9 .06 11.4 .06-18.2 .27-227.9 .07-16.7 .06 14.2 .24 166.8 .06 12.8 .06-7.8 .21-106.2 .06-8.3 .06 12 .25 156.8 .07 12.7 .07-13.3 .28-156.3 .07-9.3 .05 2.9 .2 31.3 .05 2 .03-.5 .12-7.6 .03-.8 .07 3.4 .27 58.9 .07 4.4 .04-1 .14-12.1 .03-1 .06 2.7 .21 46.1 .05 4.9 .07-9.9 .28-167.9 .07-15.7 .06 11.8 .26 163.2 .06 13.4 .05-7.8 .22-110.3 .05-9.4 .06 12.1 .25 172.5 .06 13.7 .07-18 .27-224.5 .07-16.7 .06 11.7 .24 136.9 .06 8.6 .05-7 .21-74.4 .05-5 .06 9.7 .26 116.4 .06 8.7 .07-8.7 .28-83.8 .07-3.4 .01 .1 .07 1.1 .02 .1 .05-1.8 .24-40 .05-4.3 .07 5.8 .26 88.1 .06 7.1 .05-4.9 .21-62.7 .06-5.6 .05 5.4 .23 83.7 .06 7.9 .06-8.3 .25-124.3 .07-9.4 .05 9.3 .24 110.1 .06 7.7 .06-7.5 .22-89.5 .05-7.3 .06 6.7 .23 89 .06 5.6 .06-7.3 .22-86.1 .06-6.2 .06 7.1 .22 86 .06 6.5 .05-6.8 .23-86.1 .06-6.7 .05 6.5 .23 86.1 .06 7 .05-6.3 .23-86 .06-7.3 .05 6 .23 86.1 .06 7.5 .05-6.1 .24-87.3 .05-6.2 .06 7.4 .23 86 .05 6.2 .06-7.1 .23-86.1 .05-6.4 .06 6.8 .23 86.1 .05 6.7 .06-6.6 .22-86 .06-7 .06 6.3 .22 86.1 .06 7.2 .06-6.1 .22-86 .06-7.5 .06 6.1 .23 87.3 .06 6.2 .05-7.4 .23-86 .06-6.2 .05 7.1 .23 86.1 .06 6.4 .05-6.9 .23-86 .06-6.7 .05 6.6 .23 86.1 .05 6.9 .06-6.3 .23-86.1 .05-7.2 .06 6.1 .23 86 .05 7.5 .06-6.1 .23-87.3 .06-6.2 .06 7.4 .22 86.1 .06 6.1 .06-7.2 .22-86 .06-6.4 .06 6.9 .22 86.1 .06 6.6 .06-6.6 .22-86.1 .06-6.9 .06 6.4 .22 86 .06 7.2 .05-6.1 .23-86.1 .06-7.4 .06 6.2 .23 87.2 .06 6.2 .05-7.5 .23-86 .05-6.1 .06 7.2 .23 86.1 .05 6.3 .06-6.9 .23-86.1 .05-6.6 .06 6.7 .23 86 .05 6.9 .06-6.4 .23-86.1 .05-7.1 .06 6.1 .22 86.1 .06 7.4 .06-6.2 .23-87.3 .06-6.1 .06 7.5 .22 86 .06 6.1 .05-7.2 .23-86.1 .06-6.3 .05 6.9 .23 86.1 .06 6.6 .05-6.7 .23-86.1 .06-6.8 .05 6.4 .23 86.1 .06 7.1 .05-6.2 .23-86 .06-7.4 .05 6.2 .23 87.3 .06 6.1 .06-7.5 .23-86.1 .05-6 .06 7.2 .22 86.1 .06 6.3 .06-7 .22-86.1 .06-6.5 .06 6.7 .22 86.1 .06 6.8 .06-6.5 .22-86 .06-7.1 .06 6.2 .22 86.1 .06 7.3 .06-6.3 .23-87.2 .06-6.1 .05 7.6 .23 86 .06 6 .05-7.3 .23-86 .06-6.3 .05 7 .23 86.1 .05 6.5 .06-6.7 .23-86.1 .05-6.8 .06 6.5 .23 86.1 .05 7 .06-6.2 .23-86.1 .05-7.3 .06 6 .23 86 .05 7.6 .06-6 .23-87.3 .06-6.3 .06 7.3 .22 86.1 .06 6.2 .06-7 .22-86.1 .06-6.5 .06 6.8 .22 86.1 .06 6.7 .05-6.5 .23-86.1 .06-7 .05 6.3 .23 86 .06 7.3 .05-6 .23-85.9 .06-6.6 .05 6.3 .23 80.2 .06 6.2 .05-5.6 .23-71.9 .05-5.7 .06 4.8 .23 63.8 .05 5 .06-4.1 .23-55.5 .05-4.5 .06 3.5 .23 47.3 .05 3.8 .06-2.9 .23-39.1 .05-3.1 .06 2.4 .23 31 .05 2.2 .06-1.9 .22-22.7 .06-1.5 .06 1.5 .22 14.4 .05 .8 .05-.7 .2-6.5 .04-.4 .03 .1 .09 1.1 .02 .3 .01 .1M910.82 212l.01 0 .04-.7 .16-7.2 .04-.5 .05 1.2 .21 16 .05 1.3 .05-1.4 .21-17.2 .05-1.3 .06 1.6 .22 18.4 .06 1.1 .03-.2 .11-2.5 .03-.2 .04 .3 .15 6.4 .04 .8 .06-2.5 .27-53.8 .07-5.3 .07 5.2 .26 63.2 .07 3.7 .04-2.2 .2-20.5 .05-1.4 .05 1.1 .2 10.9 .05 .6 .03-.1 .08-.5 .02-.1 .02 .1 .07 .4 .02 .1 .07-1.7 .3-64.5 .07-7.9 .06 5.5 .24 76.4 .06 5.7 .04-3.3 .17-38.8 .05-2.8 .05 6.6 .22 89.6 .05 7.1 .06-12 .24-158.5 .06-14.2 .05 9.7 .23 142.3 .06 10.7 .05-10.3 .21-126.9 .06-10.8 .06 10.8 .25 140.6 .06 9.2 .06-6.8 .23-59.3 .06-2 .01 .1 .04 .6 .01 .1 .07-2.7 .25-75.7 .06-7.7 .06 9 .24 119.6 .06 10.2 .05-8.2 .23-109.7 .06-7.9 .06 11.6 .25 135.1 .07 9.6 .08-14.7 .33-149.5 .08-9.8 .08 7 .3 115.7 .07 11.6 .06-5.4 .23-83.9 .05-7.5 .06 7.3 .23 105 .06 8.5 .06-9.3 .24-113 .06-7 .05 4 .17 42.1 .04 3.3 .05-3.1 .17-43.8 .05-3.6 .06 8.2 .23 114 .06 8.8 .06-8.3 .21-97.6 .06-7.1 .05 6 .19 72.3 .05 5.1 .05-8.8 .22-105.8 .06-7.7 .05 7.7 .21 92.1 .05 7.2 .05-4.9 .19-68.3 .05-6 .06 8.8 .23 128.4 .06 9.9 .07-13.8 .26-154.9 .07-9.7 .07 9.6 .27 86.1 .06 4.6 .08-4.2 .29-53.1 .08-5.4 .07 6.3 .28 116.2 .07 12.2 .07-10.8 .27-153.9 .07-10.9 .06 7.9 .24 77.7 .06 3.9 .03-.8 .12-8.4 .03-.8 .04 1.1 .17 17.8 .04 1.5 .05-2.5 .18-37.6 .05-4.1 .05 5.7 .24 105.8 .05 9 .07-14.9 .24-196.5 .07-16.3 .05 14.2 .24 182.8 .06 14.5 .05-8.5 .21-112.4 .06-8.4 .05 8.5 .22 103.9 .05 8 .06-7.4 .22-89.3 .06-5.8 .04 2.7 .17 31.9 .04 2.4 .05-3.9 .2-50.5 .06-4.1 .06 7.3 .28 79.8 .07 4.3 .04-.8 .15-7.4 .04-.3 .01 0 .05 .3 .02 .1 .07-2.1 .29-57.4 .07-5.6 .05 2.7 .2 33.1 .05 2.6 .05-2.1 .19-28.5 .05-2.2 .13 13.6 .5 62.8 .12 18.1 .07-8.4 .26-154.4 .07-15.1 .06 12.3 .24 176.3 .05 15.8 .06-11.1 .23-164.2 .05-13.4 .06 14.3 .25 183.9 .06 13.1 .06-13.8 .25-139.3 .07-7.7 .03 1.5 .14 17.5 .04 1.4 .03-.9 .14-14.8 .04-1.3 .06 5.2 .23 84.3 .06 8 .06-5.7 .21-83.2 .06-6.9 .05 8 .24 105.1 .05 7.4 .07-12.2 .27-130.3 .07-8.5 .1 12.7 .4 80.7 .1 4.9 .06-1.1 .2-20.8 .05-2.1 .05 2 .2 33.2 .05 3.3 .06-5.4 .24-86.2 .06-7.7 .06 5.3 .21 73.7 .05 5.5 .05-6 .2-77 .05-5.9 .06 11.2 .23 148.7 .06 12.6 .06-11.8 .25-151.2 .06-10.8 .05 6.1 .2 70.6 .05 4.4 .04-4.4 .18-48.3 .05-3.3 .05 4.6 .19 54.1 .05 4 .05-3.8 .17-48.9 .05-4 .05 8.1 .23 121.8 .06 11.9 .06-13.1 .26-197.2 .07-16 .06 12.8 .25 153.4 .07 10.2 .06-8 .25-84.6 .06-5.4 .08 7.6 .33 96.5 .08 9.3 .07-8.4 .29-139.3 .08-13 .06 7.7 .25 101.1 .06 7.1 .04-2.9 .18-34.8 .04-2.3 .05 3.5 .2 41.7 .05 3.1 .04-3.2 .19-40.6 .05-3.3 .04 2.9 .18 41.4 .05 3.8 .05-7.5 .24-116.3 .06-9.5 .06 11.4 .24 139.5 .06 9.7 .04-7.1 .2-81.6 .05-6.1 .05 7.2 .2 92.1 .05 6.6 .06-11.6 .23-138 .06-9.8 .06 9.5 .21 110.6 .06 8.2 .05-7.9 .21-98.3 .06-7.8 .07 11 .26 127.1 .07 7.7 .1-13.8 .41-109.8 .1-10.3 .06 4.7 .26 77.3 .07 6.7 .05-4.9 .22-64.9 .06-5 .06 8 .27 89.2 .07 5.3 .11-9.9 .44-117.7 .11-21.7 .07 9.8 .25 151.4 .06 13.9 .06-10.3 .23-146.3 .05-11.6 .06 13.4 .23 173.3 .06 13.7 .06-14.4 .24-178.3 .06-13.4 .06 7.1 .21 86.3 .05 5.4 .04-3.4 .16-37.9 .04-3.1 .06 5.6 .22 80.6 .05 7 .06-5.2 .21-69.6 .06-4.7 .04 4 .19 45.6 .04 4 .06-5.3 .24-76.8 .06-6 .06 4.5 .23 47.9 .06 2.2 .02-.2 .09-2.7 .02-.2 .06 2.8 .25 47.3 .06 4.5 .11-11.7 .44-72.6 .11-4.4 .06 2.6 .25 57 .07 6.6 .05-4.6 .22-78.6 .05-8 .06 10.2 .25 166.9 .06 14.2 .07-16.8 .25-212.5 .06-15.1 .06 12.5 .23 139.4 .05 10.2 .05-5.6 .2-71.8 .05-5.6 .05 4 .2 51.6 .05 3.7 .03-1.4 .15-18.8 .03-1.6 .05 3.8 .2 61.3 .05 6.4 .06-10 .26-165.6 .06-15.3 .06 12.1 .25 166 .06 13.1 .06-7.9 .22-98.8 .06-6.3 .06 8.2 .25 80.3 .06 4.4 .1-10 .39-89.2 .09-8.4 .07 4.3 .26 63 .07 4.9 .04-1.3 .15-17.9 .04-1.7 .05 3.1 .22 55.5 .05 5.4 .06-6.8 .24-100.3 .05-8.9 .06 5.3 .2 75.7 .05 6.3 .06-6.5 .21-89.8 .05-6.6 .06 9.9 .24 113.4 .06 7.6 .04-4 .18-45.6 .05-3.7 .04 2.1 .15 31.6 .04 3.1 .06-7.2 .24-121.5 .06-10.6 .05 11.5 .24 149.8 .05 11.1 .06-11.7 .22-142.1 .06-11 .06 14.1 .25 175.5 .06 13.3 .07-15.8 .3-161.1 .07-8.5 .09 8.3 .37 85.8 .09 8 .06-3.9 .22-54.9 .06-5 .06 6.1 .25 86.5 .06 6.7 .12-22.6 .47-87.9 .12-4.1 .07 4.2 .28 96.6 .07 9.7 .05-6.9 .22-89.8 .05-7.6 .05 7.5 .22 104.6 .05 8.2 .06-11.4 .23-146.5 .06-12.5 .05 8.1 .22 112.9 .05 8.9 .05-5.6 .19-78.9 .05-7.3 .05 8.6 .24 134.4 .05 11 .06-11.5 .25-142.8 .06-10.4 .05 6 .21 71.2 .05 5.3 .05-3.5 .21-43 .06-2.7 .12 10.4 .5 70.7 .13 22.3 .07-9 .28-124.7 .07-9.8 .08 9.3 .32 79.5 .08 2.9 .08-2.3 .29-47.1 .07-7 .06 6.3 .26 125.2 .07 13 .06-13.7 .26-207.9 .07-18.2 .06 13.6 .24 179 .06 11.9 .05-9.8 .21-107 .05-8.5 .05 7.5 .22 98.3 .06 6.3 .05-5.9 .2-61 .05-3.5 .03 2.7 .16 28.3 .03 2 .06-6.7 .23-95.6 .05-7.8 .06 10.5 .25 131.4 .06 10.1 .05-5.7 .2-72 .05-5.5 .05 4.4 .2 56.1 .05 4.1 .06-6.7 .25-76 .06-4.7 .05 3.2 .2 30.1 .04 1.6 .05-1.2 .16-13 .04-1.1 .1 5.8 .42 67.6 .1 9.6 .07-6.5 .29-129.4 .07-12.3 .06 9.7 .23 127.8 .06 11.5 .05-8.5 .23-125.6 .05-9.4 .07 12.8 .24 150.1 .06 10.9 .06-9.5 .25-94.5 .06-4.2 .02 .3 .07 3.2 .02 .3 .06-2.4 .21-50.9 .05-4.8 .06 8.9 .23 126 .06 10.3 .06-10.4 .22-132.7 .06-9.9 .05 14 .24 171.3 .06 11.8 .07-17.7 .25-187.7 .07-11.5 .06 11.5 .27 98.8 .06 4.5 .04-1 .17-8.8 .04-.4 .02 .1 .1 1.4 .03 .1 .02-.1 .1-1.2 .03-.1 .05 1.2 .23 24.1 .06 2.7 .06-4.5 .27-66.2 .06-5 .05 2 .17 23.5 .05 1.6 .03-1.2 .15-15.5 .04-1.4 .06 5.3 .25 89.4 .07 7.2 .05-7.3 .23-85.1 .06-6.1 .04 3.4 .18 42.3 .04 3 .05-5.4 .21-68.2 .05-5.6 .05 6.1 .21 81.6 .05 6.4 .05-5.7 .19-74.8 .05-7.1 .05 9.5 .24 152.7 .05 13.8 .07-15.8 .25-213.5 .06-14.5 .06 14.4 .23 153.7 .06 11.5 .06-7.5 .22-93.9 .06-6.7 .1 14.7 .41 84.8 .11 5.5 .07-6 .31-122.4 .08-11.6 .06 9.2 .27 104 .06 6.7 .06-4.3 .24-39.6 .06-1.8 .09 3.7 .38 51.5 .09 9.7 .07-8.2 .27-138 .07-13.3 .06 10.7 .24 148.7 .06 12.3 .05-7 .21-95.7 .05-7.6 .05 7.8 .21 106.1 .05 9.4 .06-9.3 .23-128.7 .06-8.6 .05 8 .2 85.7 .05 5.6 .05-8 .21-92.7 .05-7.8 .06 9.9 .25 129.3 .06 8.6 .05-6.1 .22-61.4 .05-3.8 .03 .5 .11 8.2 .03 .7 .06-3.2 .22-54.5 .05-5.3 .06 4.9 .23 70.3 .05 5 .05-5.3 .21-62.9 .06-4.8 .07 8.9 .27 106.1 .07 7.5 .09-10.8 .36-140.2 .09-12.6 .07 9.3 .26 134.7 .07 12.3 .05-9.3 .24-130 .05-10 .06 13.2 .24 163.9 .06 13.8 .06-12.4 .26-157 .06-9.6 .05 4.8 .18 47.7 .04 3 .04-1.8 .14-21.2 .03-1.8 .06 5.3 .23 84.9 .05 7.2 .06-6.9 .21-90.9 .05-7.3 .05 8.2 .22 109.9 .05 8.8 .06-12.2 .25-155 .06-11.7 .05 9.5 .24 109.8 .05 7.3 .05-3.3 .17-39.2 .04-3.4 .06 4.2 .22 60.9 .05 4.9 .08-7.2 .29-72.1 .08-2.8 .08 2.4 .33 21.3 .08 3.1 .05-1.7 .21-32.9 .06-3.7 .06 6.7 .27 119.8 .06 10.5 .06-11.9 .26-149.5 .06-11.9 .06 6.4 .22 81.3 .05 4.9 .05-3.7 .17-37.4 .05-2.3 .04 3.2 .18 35.9 .05 3.1 .04-2 .16-32.2 .05-2.5 .05 7.1 .22 107.1 .06 10.6 .06-13.8 .25-212.2 .07-17.6 .06 16 .24 199.3 .06 13.9 .06-11.9 .22-134.3 .05-9.9 .06 10.1 .25 116.8 .06 7.9 .11-19.3 .48-93.6 .12-12.3 .07 5.5 .27 77.3 .07 5.3 .04-2.1 .18-22.1 .05-1.6 .04 1.3 .17 16.7 .04 1.4 .06-2 .21-25 .06-1.5 .02 .4 .11 4 .02 .3 .06-3 .24-53 .06-4.8 .06 7.1 .24 90.7 .06 7.2 .05-3.3 .17-42.7 .05-3.6 .04 3.7 .19 57.7 .05 5.7 .06-8.5 .24-137.5 .06-12.3 .05 10.4 .23 144.7 .06 10.8 .05-11.4 .21-141 .06-12.1 .06 13.3 .25 181.5 .06 12.8 .07-14.2 .26-138.8 .07-7.2 .04 1.7 .16 16.1 .04 .8 .02-.2 .07-1.8 .02-.2 .06 2.5 .24 54.1 .07 5.7 .05-4.3 .21-63.5 .05-6.2 .06 7.3 .26 113 .06 8.2 .08-14.4 .3-141.7 .08-7.7 .09 8.6 .33 108.7 .09 10.8 .06-5.5 .24-83.9 .06-6.7 .05 9 .23 116.6 .06 9.4 .06-11.8 .25-151.7 .06-12.5 .05 7 .22 94.7 .05 6.1 .04-4.7 .18-54.5 .04-5 .05 6.8 .23 108.6 .06 9.2 .05-8.6 .23-110.3 .06-7.5 .04 6 .19 68.2 .05 5.8 .06-6.2 .22-89.2 .05-6.2 .06 7.1 .21 78.5 .05 5.5 .04-2.7 .17-33.5 .04-2.7 .05 5.5 .22 81 .05 7.8 .07-9.8 .26-142.1 .07-9.7 .06 9.9 .25 97.4 .07 5.9 .06-6 .28-61.1 .07-4.6 .07 6.1 .31 119.6 .08 12.3 .07-12.8 .27-177.2 .06-15.3 .06 10.6 .25 136.5 .06 9.4 .05-6.6 .2-73.5 .05-5 .06 5.3 .21 59.3 .05 3.9 .03-1.6 .15-19.7 .04-1.6 .04 2.3 .17 35.2 .05 3.2 .06-9.1 .25-145.1 .06-12.7 .06 13.9 .24 177.3 .06 13.2 .05-10.5 .22-125.4 .05-8.9 .06 10.1 .22 117.9 .06 7.7 .05-11 .24-113.6 .06-7 .05 4.2 .19 43.1 .04 2.6 .05-2.5 .17-28.7 .04-2.5 .07 6 .3 72.2 .07 3.8 .1-4.7 .42-71.5 .11-11.7 .05 3.9 .22 51.9 .05 4.7 .06-4.1 .21-61 .06-4.8 .06 8 .25 97.4 .07 6.8 .12-18 .52-94.2 .13-32.9 .06 9.8 .24 143.1 .06 12.7 .05-10.7 .22-152.8 .06-14.1 .06 13.6 .24 203.8 .06 16.1 .06-17.3 .26-204 .06-14 .06 9 .23 94.1 .06 5.3 .03-1.2 .14-14.6 .04-1 .04 2 .18 23.9 .05 1.9 .04-2.1 .18-27.1 .04-2.2 .06 4.2 .21 58.5 .06 5.1 .06-8.6 .27-111.5 .07-7.9 .11 16.4 .45 78.3 .11 5.1 .06-1.4 .22-26.9 .05-2.3 .05 2.2 .18 29 .05 2.6 .06-5.3 .23-83.9 .06-8 .06 5.4 .21 81.6 .05 7 .05-4.7 .19-68.5 .05-6.8 .06 8.9 .23 145.3 .06 11.2 .06-15.6 .25-183.4 .06-13.2 .05 10.8 .22 124.4 .06 8.5 .05-7.6 .21-85.4 .05-5.8 .06 6.5 .23 66.6 .05 3.5 .03-.6 .1-7 .03-.7 .05 2.4 .2 44.2 .05 4.1 .06-10 .26-148 .06-12.6 .07 12 .25 145.3 .06 9.1 .06-9.5 .24-93.6 .06-5.5 .08 10.5 .3 102.5 .08 6.7 .08-9.2 .31-146.9 .08-14 .06 10.2 .25 132 .07 9.8 .05-6.6 .2-78.5 .05-6.1 .06 6.5 .21 84.7 .06 6.4 .05-6.4 .22-77.8 .05-5.4 .04 3.1 .17 38.2 .04 2.6 .05-6.3 .21-83.2 .06-7.2 .06 10.2 .24 135.6 .06 9.4 .05-7.5 .2-83.2 .05-6.8 .05 4.4 .19 66 .04 6 .06-7.3 .23-110.5 .05-9.5 .06 7 .21 97.7 .05 7.9 .06-6.4 .21-87 .05-6.6 .06 10.8 .26 132 .06 10.3 .08-13.2 .34-132.4 .08-6.8 .08 5.5 .3 84.4 .07 8 .06-5.8 .23-78.2 .06-6.5 .06 8.1 .24 106.8 .06 8.7 .07-7.1 .24-87 .06-5.9 .04 1.4 .15 17.7 .03 1.3 .04-1.2 .15-17.8 .04-1.5 .06 4.2 .22 68.8 .05 6.1 .06-7 .21-98.8 .06-9.4 .05 8.4 .23 132.7 .05 10.9 .06-11.6 .23-152.1 .05-11.9 .06 11.9 .23 149.3 .05 11.5 .06-10.4 .23-130.9 .05-9.9 .06 7.9 .23 97.5 .05 6.7 .06-5.1 .22-55 .05-2.9 .04 1.7 .17 15.1 .04 1 .03-.5 .12-6.1 .03-.7 .05 1.5 .21 28.1 .06 2.3 .05-3.6 .22-46.5 .06-3.8 .05 3.8 .23 47.5 .06 3.5 .05-2.8 .23-29.2 .06-1.4 .02 .2 .09 2.1 .02 .2 .04-.4 .15-7.4 .03-.8 .06 2.2 .23 48.2 .05 5.4 .06-5.5 .23-92.5 .06-7.7 .06 9.5 .22 126 .06 10.4 .06-10.6 .22-145.6 .06-12.2 .05 10.7 .23 146.6 .06 11.6 .05-10.3 .23-129.4 .06-8.2 .05 9 .21 94.8 .05 7.4 .05-4.8 .21-62.3 .05-3.8 .04 3.7 .18 39.7 .05 3.2 .04-3.2 .19-44.1 .05-4 .05 4.3 .22 64.3 .05 4.7 .06-6.7 .22-77.6 .05-5.9 .06 6.3 .23 77.7 .06 5.8 .07-5.8 .25-62.5 .07-3.6 .08 4.9 .35 52.6 .09 5.6 .06-4.6 .25-75.5 .07-7 .05 7.6 .24 104.8 .05 9.6 .06-8.4 .23-123.8 .06-9.7 .06 10 .22 123 .06 8.3 .05-9.4 .22-104.6 .05-7.6 .05 6.5 .21 78.8 .05 6.1 .05-4.5 .19-58.8 .05-4.1 .05 4.7 .19 57.6 .04 4.9 .06-5.2 .2-78 .05-7.3 .06 6.8 .22 104.1 .05 8.4 .06-9.3 .23-119 .05-8.6 .06 9.9 .22 116 .06 9.3 .06-7.9 .24-99.7 .06-6 .07 7.8 .26 68.3 .07 3.6 .08-4.1 .34-54.5 .08-6.3 .06 4.3 .25 70 .06 6.7 .06-5.8 .23-84.6 .06-7.2 .06 6.1 .22 82.8 .05 7.1 .06-5 .21-68.2 .06-4.4 .04 4.3 .19 47.6 .05 3.5 .04-3.4 .19-44.1 .04-3.7 .05 4.5 .2 64.7 .05 5.9 .06-6.4 .21-98.8 .06-8.8 .05 9.1 .23 130.3 .05 9.4 .06-12 .22-143.2 .06-12.3 .05 10.3 .24 144.1 .05 10.2 .06-10.6 .23-120.6 .05-8.9 .06 7.4 .23 85.7 .06 5.6 .06-4.8 .24-42.2 .06-1.7 .03 .1 .09 1.4 .02 .1 .03-.2 .1-1.9 .02-.1 .06 1.6 .24 33.5 .06 3.7 .06-3.4 .23-50.6 .06-3.7 .05 4.3 .22 47.2 .06 3.1 .05-2.6 .19-27.6 .05-2 .04 .7 .14 10.1 .03 .9 .04-1.3 .18-22.2 .05-2.1 .05 3.9 .22 60.8 .05 5.6 .06-7.2 .22-103.1 .06-8 .05 10.3 .23 132.7 .05 12.4 .06-10.1 .22-145.7 .06-12.3 .06 9.7 .22 134.1 .06 10.5 .06-8.6 .22-109.3 .06-7.2 .05 7.4 .23 78.5 .05 4.6 .05-5.2 .21-51.7 .06-3.6 .05 3 .21 36.1 .05 2.7 .06-2.4 .22-30.5 .05-2.3 .06 2.4 .25 32.2 .06 2.4 .06-2.8 .24-37.8 .06-3.3 .06 3 .24 45.8 .05 4.1 .06-3.6 .23-50.7 .05-4.3 .06 3.7 .23 51.6 .05 4.5 .06-3.7 .23-52.4 .06-3.7 .06 4.5 .22 51.6 .06 3.7 .06-4.3 .22-51.7 .06-3.8 .06 4.2 .22 51.6 .06 4 .06-4 .22-51.7 .06-4.1 .06 3.9 .22 51.6 .06 4.3 .05-3.7 .23-51.6 .06-4.5 .06 3.7 .23 52.4 .05 3.7 .06-4.5 .23-51.6 .05-3.7 .06 4.4 .23 51.6 .05 3.8 .06-4.2 .23-51.6 .05-4 .06 4 .23 51.7 .05 4.1 .06-3.9 .23-51.6 .05-4.3 .06 3.7 .22 51.7 .06 4.4 .06-3.8 .23-52.3 .06-3.7 .06 4.5 .22 51.7 .06 3.6 .05-4.4 .23-51.6 .06-3.8 .05 4.2 .23 51.7 .06 3.9 .05-4.1 .23-51.6 .06-4.1 .05 3.9 .23 51.6 .06 4.3 .05-3.7 .23-51.7 .06-4.4 .05 3.8 .23 52.3 .06 3.7 .06-4.6 .23-51.6 .05-3.6 .06 4.4 .22 51.6 .06 3.8 .06-4.2 .22-51.7 .06-3.9 .06 4.1 .22 51.6 .06 4.1 .06-3.9 .22-51.7 .06-4.2 .06 3.8 .22 51.6 .06 4.4 .06-3.6 .22-51.6 .06-4.6 .06 3.7 .23 52.3 .06 3.8 .05-4.4 .23-51.6 .06-3.8 .05 4.2 .23 51.7 .05 3.9 .06-4.1 .23-51.6 .05-4.1 .06 3.9 .23 51.7 .05 4.2 .06-3.8 .23-51.6 .05-4.4 .06 3.6 .23 51.7 .05 4.5 .06-3.7 .23-52.3 .06-3.8 .06 4.4 .22 51.7 .06 3.7 .06-4.3 .22-51.6 .06-3.9 .06 4.1 .22 51.7 .06 4 .05-4 .23-51.6 .06-4.2 .05 3.8 .23 51.6 .06 4.4 .05-3.6 .23-51.7 .06-4.5 .05 3.7 .24 52.3 .05 3.8 .06-4.5 .23-51.6 .05-3.7 .06 4.3 .23 51.6 .05 3.9 .06-4.1 .23-51.7 .05-4 .06 4 .22 51.6 .06 4.2 .06-3.8 .22-51.7 .06-4.3 .06 3.7 .22 51.6 .06 4.5 .06-3.7 .23-52.4 .06-3.7 .05 4.5 .23 51.6 .06 3.7 .05-4.3 .23-51.7 .06-3.8 .05 4.1 .23 51.7 .06 4 .05-4 .23-51.6 .05-4.2 .06 3.8 .23 51.7 .05 4.3 .06-3.7 .23-51.6 .05-4.5 .06 3.7 .23 52.4 .06 3.7 .06-4.5 .22-51.6 .06-3.7 .06 4.3 .22 51.7 .06 3.8 .06-4.2 .22-51.6 .06-4 .06 4 .22 50.3 .06 3.4 .06-3.9 .22-45.7 .06-3.2 .05 3.5 .23 40.7 .06 2.9 .05-3 .23-35.8 .06-2.6 .05 2.6 .23 30.9 .06 2.2 .05-2.2 .23-25.9 .06-1.9 .05 1.9 .23 21 .06 1.4 .05-1.5 .23-16.1 .05-1 .06 1.2 .22 11 .06 .7 .05-.6 .22-6.3 .05-.4 .04 .3 .16 2 .04 .1 .01 0 .02 0 0-.1 .01 0 .01 0 .01 0 .06-1 .23-10.6 .06-.8 .07 1.9 .31 26.7 .08 2.4 .07-1.8 .28-24.5 .07-2 .06 2 .27 27.4 .07 2.6 .09-3.8 .33-60.2 .09-5.4 .1 7.2 .42 77.6 .11 3.4 .15-3.7 .62-105.8 .16-24.8 .09 12 .37 167.5 .09 14 .08-10.8 .33-138.8 .08-10.2 .07 7.4 .28 92.9 .07 7.4 .08-9.3 .31-130.3 .07-10.9 .09 15.7 .35 213.9 .09 16.1 .09-19.8 .36-229.4 .09-15.2 .09 14.5 .34 147.2 .09 8.7 .06-4.1 .25-43.4 .07-3.1 .06 2.6 .25 33.6 .06 2.6 .09-6 .35-78.4 .08-5.4 .18 18.3 .73 84.7 .18 24.7 .09-11 .37-173.9 .09-15.7 .09 15.3 .36 205.3 .09 16.4 .08-11.8 .32-151.6 .08-10.7 .07 8.5 .28 103 .07 8.7 .08-10 .32-144.5 .08-11.5 .09 16 .35 204.9 .08 16.6 .1-15.5 .37-189.2 .09-12.3 .18 32.5 .74 86.2 .18 15.8 .09-5.1 .36-77.5 .09-5.5 .07 3.1 .25 34.3 .06 2.6 .06-2.1 .23-30.8 .06-3 .09 7.3 .34 129.4 .09 12 .09-15.8 .36-221.1 .09-17.9 .09 17.5 .35 218.9 .08 16.3 .08-11.5 .31-141.1 .08-10.4 .07 7.2 .28 94.8 .07 7.8 .08-9.7 .33-135.6 .08-10.8 .09 14.1 .36 173.8 .09 13 .11-15.2 .44-130.3 .11-3.8 .15 2.4 .61 97.3 .15 23 .09-7.4 .34-109.1 .09-9.1 .07 4.5 .27 64.5 .07 5.5 .07-5.6 .29-82.5 .07-6.9 .09 12.4 .34 178.2 .08 15.9 .09-17.5 .36-243.7 .09-18.5 .09 17.8 .35 206 .09 13.2 .07-10 .3-107.8 .07-8 .07 4.9 .27 68.6 .07 5.9 .08-7.8 .33-110.4 .09-8 .09 12.2 .39 124.2 .1 6.6 .16-12.8 .65-110.6 .16-23.5 .09 9.8 .38 160.3 .09 13.9 .09-11 .33-141.1 .08-10.5 .07 7.2 .28 91.6 .07 7.8 .08-8 .3-119.7 .08-10.4 .08 14.4 .35 204.8 .08 17.3 .09-18.1 .37-236 .09-17.3 .08 14.8 .35 165.9 .09 10.2 .07-5.5 .27-58.2 .07-3.5 .06 3 .24 33.6 .06 2.9 .09-5.6 .34-79.1 .09-5.7 .17 20.6 .71 81.2 .17 17.6 .1-8.8 .38-157.6 .09-15.7 .09 14 .36 203.4 .09 16.6 .08-12.5 .33-158 .08-11.1 .08 8.8 .28 104.8 .07 7.4 .08-10.8 .31-135.7 .07-10.8 .09 15.5 .35 204.5 .09 15.6 .09-17.3 .37-200.6 .09-13.5 .09 11.5 .37 105.2 .1 4.4 .03-.4 .13-3.9 .03-.3 .06 1.2 .25 20 .06 1.9 .09-4.9 .36-74.5 .09-5.7 .07 3.3 .27 37.3 .07 2.7 .05-1.4 .21-20.7 .05-1.7 .09 6.5 .33 108.7 .08 10.8 .09-13.6 .36-210 .09-18.9 .09 16.2 .36 224 .09 17.1 .08-12.3 .32-151.5 .07-11.5 .07 7.3 .28 97.3 .07 8.3 .08-9 .32-131.8 .08-10.7 .09 14.2 .36 179.3 .09 12.3 .1-15.6 .4-144.7 .1-6.5 .16 10.5 .66 96.1 .16 22.2 .09-7.2 .35-107.8 .09-8.3 .07 5.1 .28 63.2 .06 5.3 .07-4.5 .28-70 .07-6.3 .08 10.7 .34 164 .09 14 .08-17.6 .36-238 .09-19.8 .09 16.9 .35 218 .09 14.4 .08-11.6 .31-122.3 .07-8.2 .07 6 .27 72.1 .07 5.6 .08-8.2 .32-108.7 .08-8.1 .1 12 .37 133.4 .1 8 .16-18.4 .65-110.7 .17-17.1 .09 9.4 .38 149.9 .1 13 .08-11.3 .34-142.3 .09-10.6 .07 7.4 .28 91.9 .08 7.1 .07-8 .29-108.2 .07-9.8 .09 13.1 .34 196.3 .09 15.8 .09-19.4 .36-239.8 .09-16.4 .09 17.3 .35 181.4 .09 11.2 .07-7 .28-73.2 .07-5.1 .07 2.7 .24 36.5 .06 2.9 .08-5.9 .34-78.6 .08-5.6 .17 22.4 .68 77.5 .18 9.9 .09-6.7 .4-141.8 .1-13.7 .09 15 .36 197.6 .09 15.9 .08-13.1 .33-163.7 .09-11.3 .07 9.2 .28 105.8 .08 7.8 .07-9.7 .3-128.2 .08-10.7 .09 14.3 .34 200.1 .09 17.1 .09-16.3 .36-211.9 .1-15.1 .09 12.4 .36 125.7 .1 6.4 .04-1.4 .2-14.3 .05-.9 .05 1 .2 12.8 .05 1.3 .09-4.3 .36-70.9 .09-5.6 .08 3.8 .29 42.1 .07 2.8 .05-1 .17-12.4 .05-1.2 .08 4.3 .33 88.6 .08 9.8 .09-12 .37-198.8 .09-17.1 .09 17.5 .35 225 .09 17 .08-13.3 .33-161.7 .08-12 .07 7.8 .28 101.6 .08 7.5 .07-9.8 .31-126.3 .08-10.5 .09 13.6 .35 181.4 .09 13.6 .1-14.9 .38-159.7 .09-9.5 .17 17 .68 98.6 .16 19.1 .09-6.8 .37-104.1 .09-8.5 .07 5 .28 63.9 .07 4.8 .07-4.4 .26-58.9 .07-4.7 .08 9.9 .33 146 .08 13.8 .09-15.7 .36-234 .09-18.7 .09 18.1 .35 224 .09 17.2 .08-10.9 .32-137.6 .08-9.9 .06 6.2 .28 77.5 .07 5.5 .08-8.5 .31-106.3 .08-8.3 .09 11.4 .36 140.4 .1 10 .16-21.6 .64-111.2 .17-11.4 .09 7.3 .4 137.3 .1 14.2 .08-9.9 .35-143.6 .09-10.7 .07 7.5 .29 91.6 .07 7.8 .07-6.6 .29-99.7 .08-8.1 .08 13 .33 182.7 .09 16.4 .09-17.1 .36-241.5 .09-18.4 .08 17.4 .35 194.7 .09 14.1 .07-8.3 .31-101.1 .08-7.2 .06 4.4 .28 55.9 .07 4 .08-5.2 .3-61.7 .08-4.5 .08 4 .31 44.5 .08 2.5 .04-.7 .17-7.9 .05-.6 .06 1.7 .26 26.8 .06 2.6 .09-5 .32-81.5 .09-7.2 .08 8.7 .33 119.6 .08 9.6 .08-11.2 .32-146.4 .08-12.1 .09 12.2 .33 165.6 .08 12.6 .08-13.5 .32-169.9 .08-13.9 .08 12.2 .33 165.2 .09 12.5 .08-12.1 .33-146.8 .08-9.8 .08 10.9 .32 116.9 .08 7.5 .08-7.7 .32-79.9 .08-4.8 .07 3.8 .29 38.4 .07 2.5 .05-.7 .19-9.9 .05-.7 .06 1.3 .24 19.2 .05 1.9 .08-3.5 .32-58.4 .07-5.2 .08 6.9 .32 97.5 .08 9 .08-8.9 .33-132.8 .08-10.5 .08 11.9 .33 155.3 .08 13 .08-12.4 .33-169.7 .08-13.1 .08 13.7 .33 170.3 .08 11.9 .08-13.5 .33-157.2 .08-11.7 .08 11.2 .33 135.7 .08 8.8 .08-9.5 .32-101.2 .08-7.1 .08 5.4 .31 62.6 .08 4 .06-2 .25-22.7 .07-1.4 .04 .7 .19 8.8 .04 .8 .07-2.1 .28-34.3 .07-3.5 .08 4.4 .32 75.9 .08 7.2 .08-7.4 .32-113.5 .08-10.3 .09 9.9 .32 144.4 .09 11.5 .08-12.5 .32-162.2 .08-13.7 .08 12.3 .33 171.5 .08 13.5 .09-13.2 .32-166.8 .09-11.9 .08 12.8 .32 148.6 .08 11.1 .08-9.8 .33-121.7 .08-9.1 .08 7.2 .32 86.3 .08 5.4 .08-4.5 .29-44.3 .08-2.6 .05 1.1 .2 11.7 .05 .8 .06-1.2 .22-15.5 .05-1.3 .08 3.1 .3 51.8 .08 5.3 .08-5.6 .32-93.2 .08-8.4 .08 8.8 .33 127.3 .08 11.3 .08-10.7 .33-154 .08-12.4 .08 13.2 .33 168.6 .08 12.1 .08-14.1 .33-169.3 .08-13.2 .08 12.5 .33 161.1 .08 11.5 .08-11.8 .32-138.2 .09-10.2 .08 8.9 .32 107.4 .08 7.5 .08-6.3 .32-68.6 .08-3.9 .06 2.9 .27 27.2 .06 1.5 .05-.7 .17-7.7 .05-.6 .07 1.5 .27 23.7 .06 1.9 .08-3.6 .31-49.2 .08-4 .08 4.8 .32 62.4 .08 5.2 .08-4.6 .32-62.5 .08-4.8 .08 4.2 .33 50.6 .08 3.2 .08-3.1 .3-30.5 .08-1.8 .06 1 .24 10.3 .06 .7 .01 0 .04-.4 .01-.2 .01-.1M1267.18 212l.01 0 .05-.8 .19-8.2 .05-.6 .12 3 .45 21.4 .12 4.1 .06-2.1 .25-35 .07-3.1 .05 2.6 .22 33.7 .05 2.7 .05-2.7 .21-34.1 .06-2.7 .04 2.2 .2 28.2 .05 2.3 .04-1.9 .19-27.5 .05-2.4 .06 3.4 .22 46 .06 3.3 .04-1.8 .17-21.5 .04-1.6 .04 1.7 .16 23.3 .04 1.8 .07-7.7 .25-117.7 .06-9.3 .07 13.5 .28 143.4 .06 7.6 .05-4.1 .2-31.1 .05-1.2 .02 .1 .05 .8 .01 .1 .07-2.6 .26-64.9 .06-6.8 .05 4.3 .21 59.4 .05 5 .05-5.8 .22-80.2 .05-6.6 .07 10.9 .26 135.1 .07 9 .12-23.9 .5-117.7 .12-22.6 .07 9 .26 135.4 .07 10.3 .06-9.8 .23-106.1 .06-6.4 .06 6.5 .22 60.7 .05 3.2 .04-1 .13-10.9 .03-.8 .04 1.6 .17 23.2 .04 2.3 .06-5.9 .26-97 .06-9 .06 6 .23 75.7 .06 4.5 .03-1.2 .12-12.6 .03-1.3 .06 4.5 .24 86.5 .06 8.9 .07-13 .3-165 .08-9 .12 14.8 .49 157.9 .12 33.4 .06-14.1 .27-177.3 .07-13.1 .06 10.4 .26 106 .06 5.6 .12-11.3 .47-64.9 .12-23.9 .07 8.2 .26 134.4 .07 10.8 .06-8.9 .24-96.5 .06-5.3 .04 2.2 .14 21.5 .04 1.7 .05-3.5 .21-49.4 .06-3.7 .05 5.9 .24 63.7 .06 3.7 .03-.8 .11-8.9 .03-.9 .05 3 .22 56.8 .05 6.1 .07-8.5 .26-131.9 .07-10.2 .05 6.5 .23 73.3 .05 5 .04-1.7 .16-23.2 .04-1.9 .05 3.6 .22 50.5 .06 3.6 .04-2.4 .17-26.7 .05-1.9 .04 1.9 .16 26.6 .04 2.6 .06-6.7 .25-115.9 .07-10.4 .06 11.5 .27 138.2 .06 8.1 .12-23 .48-61 .11-11.4 .07 5.8 .24 100.9 .07 10.1 .06-12 .27-169 .07-12.9 .13 34.7 .5 141.2 .13 18.2 .07-9 .29-146.3 .08-10.7 .05 5.6 .21 56.5 .05 3.3 .03-1 .12-11.4 .03-1 .06 6 .26 102.9 .06 9.7 .07-9.8 .27-119.8 .06-7.1 .05 2.9 .2 24.9 .04 1 .02-.1 .04-.5 .02-.1 .06 2.3 .25 63.1 .06 8 .06-7.5 .25-124.9 .06-11.8 .07 11.9 .27 154.3 .07 9.1 .12-22.9 .49-128.3 .13-24.3 .06 9.7 .27 134.8 .06 10.3 .05-5.9 .21-68.8 .05-5.3 .05 4.2 .2 55.1 .05 4.3 .06-6.3 .25-72.9 .06-4.3 .03 .6 .12 7.6 .03 .5 .04-1.5 .16-21.5 .04-2.2 .07 6.4 .26 117.5 .07 11.3 .06-7.4 .24-98.7 .06-6.1 .04 3.6 .18 36 .04 2.5 .05-4 .21-50.6 .05-3.9 .05 4.3 .22 51.4 .05 3.6 .04-1.6 .15-19.1 .04-1.6 .05 3 .2 45.4 .05 4.2 .05-5.3 .23-80.2 .05-6.1 .06 8 .23 94.7 .05 6.7 .07-11.3 .27-114.7 .07-6 .12 12.8 .48 155.2 .13 34.6 .07-18 .29-222.8 .07-14.8 .13 36.1 .5 135 .13 19.2 .06-5.9 .26-98.8 .06-8.7 .05 4.3 .21 61.3 .05 5.1 .05-3.7 .2-53.2 .05-4.3 .05 4.3 .2 57.5 .05 4.6 .06-5 .21-64.7 .06-4.7 .06 6.7 .24 68.9 .06 3.9 .03-.7 .12-7.6 .03-.5 .04 1.2 .15 18 .03 2 .07-7.1 .28-143.2 .07-14.3 .07 13.1 .28 164.4 .07 10.7 .12-18.1 .51-77 .13-22.6 .05 4.3 .21 62.8 .05 5.3 .06-5.9 .21-82.8 .06-7.6 .06 9.6 .27 129.7 .06 8.3 .13-24.3 .5-98.8 .13-22.4 .06 7.3 .25 108.9 .06 9.5 .06-6.7 .23-87.2 .05-5.7 .06 6.3 .21 65.7 .06 4.5 .04-2.4 .17-28.9 .04-2.3 .05 1.5 .16 24.1 .04 1.7 .06-5.6 .24-74.8 .06-5.9 .05 4.3 .21 50.7 .05 3.9 .03-1.2 .14-19 .04-1.9 .06 6.2 .25 114.4 .07 10.7 .07-15.8 .31-177.5 .08-9.4 .11 11.5 .47 166.2 .12 34 .07-13.3 .27-178.3 .06-13.9 .07 9.6 .25 102.9 .06 5.2 .05-2.3 .17-18 .04-.8 .02 .1 .06 .9 .01 .1 .07-2.6 .25-66.2 .06-7.7 .07 8.4 .25 122.2 .07 9.2 .05-6.6 .23-72 .05-4.4 .04 1.9 .14 22 .04 1.9 .06-5.2 .24-78.6 .05-6.4 .08 9.2 .28 83 .07 2.3 .01 0 .02-.1 .01 0 .05 1.4 .23 45.9 .06 6 .07-8.3 .27-138.6 .07-11.6 .05 7.8 .24 91.6 .05 6 .05-3.3 .18-37.4 .05-2.3 .05 3.8 .2 39.9 .06 2.7 .03-1.1 .14-13.3 .04-1 .04 2.3 .18 35 .05 3.4 .07-7.7 .25-127.6 .07-10.8 .06 11.4 .26 132.7 .07 8.1 .05-6.2 .24-52.6 .05-2 .02 .2 .08 1.9 .02 .1 .04-1.2 .17-19.9 .05-2.4 .06 4.5 .24 89 .06 8.9 .07-10.7 .26-153.1 .07-12.3 .13 34.7 .53 121.3 .14 23 .07-8.1 .28-125.4 .07-9.5 .04 2.2 .17 29 .04 2.1 .04-1 .13-15.4 .04-1.4 .06 7.3 .27 131.9 .07 12.1 .07-12.3 .28-138.2 .07-6.9 .12 13.4 .47 78.6 .11 23.6 .07-8.7 .26-140.8 .06-11.4 .07 14.7 .27 161.7 .07 9.5 .13-21.5 .49-131.7 .13-25.2 .06 10.1 .26 126.5 .06 9.7 .05-4.1 .19-51.8 .05-4.3 .05 3.6 .2 53.2 .05 4 .06-7.9 .25-88.7 .07-5 .04 2.1 .15 19.7 .04 1.5 .03-.8 .14-12 .03-1 .07 5.5 .25 91.1 .06 7.8 .06-7 .23-83.9 .05-5.5 .05 4.9 .19 55 .05 3.9 .06-6.2 .23-74.5 .05-5.5 .06 4.1 .21 46.2 .06 2.9 .02-.5 .11-5.9 .03-.4 .05 3 .22 49.3 .05 4.5 .06-6.6 .23-90.5 .06-7 .05 8.1 .23 101 .06 8.4 .07-10.1 .27-117.3 .07-6.2 .12 11.3 .48 149.5 .12 37.1 .07-14.6 .29-209.2 .07-14.7 .14 33.3 .52 118 .14 24.5 .06-5.9 .25-87.9 .06-6.2 .04 3.6 .19 39.7 .04 2.6 .05-3.7 .19-44.2 .05-3.3 .05 5.5 .22 72.2 .05 6.1 .06-6.7 .23-89.9 .06-7.2 .12 24.3 .49 84.6 .12 12.2 .07-9 .3-168.4 .07-14.3 .07 16.8 .28 175.5 .07 10.9 .13-18.1 .5-81.8 .13-21.3 .05 4.9 .2 61.5 .06 5.6 .05-4.9 .21-78.4 .06-7.2 .06 8.4 .26 117.4 .06 8.9 .06-5.8 .24-57.5 .06-2.4 .01 .1 .05 .6 .01 .1 .06-1.8 .24-49.8 .06-6 .06 4.9 .23 79.9 .06 6.9 .05-5.1 .21-69.7 .05-5.7 .06 6 .23 79.4 .05 5.7 .05-4.4 .21-50.7 .05-3.3 .04 2.1 .16 24.9 .04 2 .06-3.9 .22-55 .05-4.3 .05 2.6 .18 34.2 .05 2.8 .04-1.9 .16-28.4 .04-2.7 .06 7.7 .26 134.9 .07 13.1 .08-16.5 .32-185.6 .07-8.4 .12 9.5 .46 167.6 .11 31.6 .07-13.5 .26-169.1 .07-13.4 .06 7.9 .24 92 .06 5.2 .04-1.7 .16-17.8 .04-1.3 .03 .5 .11 7.2 .03 .6 .06-3.6 .23-63.7 .06-6.7 .06 7.2 .26 104.3 .06 7.4 .05-4.4 .19-47.5 .05-3 .04 2.5 .16 28.6 .04 2.7 .06-6.8 .26-112.1 .06-9 .13 30.8 .52 121.7 .13 18.5 .07-9.9 .27-149.2 .07-12.4 .06 9.3 .24 106.8 .06 7.3 .05-4.3 .2-48.3 .05-2.9 .04 3.3 .2 32.8 .05 2.2 .03-.5 .12-7.3 .03-.6 .05 2.6 .2 44.1 .05 4.1 .07-8.8 .26-129.7 .06-10.1 .06 10.9 .25 118.7 .06 7.8 .05-4.4 .21-46.1 .05-2.8 .03 .9 .14 11.2 .03 .9 .04-1.1 .16-18.7 .04-1.6 .06 4.3 .23 70.3 .05 6.2 .07-10.2 .26-134.5 .06-9.9 .07 9.4 .25 89.9 .07 3.6 .02-.3 .07-3 .02-.2 .06 2.9 .23 56.8 .06 5.1 .07-9.3 .27-105.7 .07-6.1 .03 .7 .11 8.3 .03 .8 .04-1.4 .17-25.4 .04-2.9 .07 8.3 .28 157.4 .07 14 .07-13.6 .28-149 .07-8.6 .12 11.7 .46 89.3 .12 22.8 .06-9.7 .26-146.9 .06-12.8 .07 14 .28 162.7 .07 8.8 .13-20.2 .5-124.6 .13-28.2 .06 8.9 .26 114 .06 7.6 .04-2.8 .17-31.7 .04-2.6 .05 3.5 .2 54.9 .05 5.3 .06-7.7 .27-111.7 .06-7.5 .05 4 .21 37.8 .05 1.8 .02-.4 .09-3.9 .02-.4 .06 3 .24 66 .06 7 .06-5.1 .22-77.8 .05-7 .06 5.2 .21 77.5 .06 6.5 .06-7.8 .25-96.4 .06-5.8 .05 5.3 .23 41.2 .06 1.4 .01 0 .03-.3 .01-.1 .07 1.9 .25 58.3 .06 5.9 .06-7.2 .23-94.7 .06-7.9 .06 7.5 .22 100.7 .06 8.6 .07-9.5 .27-114.2 .06-6.7 .13 11.5 .49 139.2 .12 35.9 .07-13.8 .29-185.7 .07-12.5 .06 7.2 .23 63.1 .06 2.4 .02-.1 .05-.9 .01 0 .07 3.4 .26 76.3 .07 6.9 .06-6.7 .24-75.2 .06-4.7 .03 1.7 .15 19.3 .03 1.8 .05-2.6 .2-41.9 .05-3.6 .05 6.3 .23 91.1 .06 7.4 .06-9.1 .25-112.5 .06-8.8 .11 24.3 .48 109.6 .12 12.9 .07-9.8 .3-185.3 .07-17.4 .07 16.1 .29 180.7 .07 10.7 .13-16.4 .5-78.5 .13-23.8 .05 4 .21 57.6 .05 5.1 .05-4.5 .21-67.1 .05-5.2 .06 8.5 .24 104.1 .07 7.6 .05-5.5 .22-59.4 .06-3.1 .03 1.4 .14 13.7 .03 1 .05-3 .2-41 .06-3.1 .05 3.9 .19 49 .05 4 .06-4.3 .2-59.8 .05-4.8 .06 7.6 .24 97.9 .06 7.4 .05-6.4 .23-72.1 .06-4.1 .04 2.6 .16 26 .04 2.1 .05-2.9 .21-39.4 .05-2.8 .04 2 .17 24.8 .04 1.9 .04-2.6 .18-38.1 .04-4 .07 8.3 .26 148.5 .07 14.2 .08-17.3 .32-184.5 .08-7.2 .12 7.6 .45 158.2 .11 30.1 .07-12.3 .26-152.3 .06-11.8 .06 6.4 .22 76.5 .06 4.7 .04-2 .16-22.1 .04-1.4 .04 1.6 .16 19.4 .04 1.4 .05-4.3 .22-61.2 .06-5.4 .06 6.2 .23 78.6 .06 5.3 .04-2 .16-23.2 .04-1.9 .05 2.6 .18 39.6 .05 3.7 .07-8.7 .28-126.4 .07-9.9 .11 18.3 .44 133 .11 11.3 .08-7.1 .32-130.7 .08-10.9 .07 10.3 .3 106.1 .08 6.3 .08-6.7 .33-68.2 .09-5.3 .07 3.4 .29 51.9 .07 4.3 .07-3.5 .29-46.7 .07-3.8 .08 3.9 .3 54.5 .07 4.5 .08-4.9 .33-66.8 .08-5 .08 5.8 .34 69.2 .08 4.6 .08-5.3 .34-55.1 .09-3.5 .16 9 .66 32.9 .16 7.4 .09-3.5 .35-64.9 .09-6.5 .09 7 .34 107.8 .09 9.9 .08-9.4 .35-138.9 .08-12.3 .09 11 .35 153.2 .09 11.2 .09-12.2 .34-143.5 .09-10.5 .08 10.1 .35 116.7 .09 7.9 .09-7.6 .37-75.5 .09-4.1 .15 7.2 .6 44.5 .15 6.7 .09-3.8 .36-63 .09-5.7 .08 6 .34 82.6 .09 7 .08-6.4 .34-86.5 .08-6.4 .08 6.2 .32 75.2 .08 5.5 .07-4.9 .3-59.5 .07-4.9 .07 3.8 .29 53.8 .08 4.4 .07-4.5 .3-63.5 .08-5.4 .08 6 .32 83.3 .08 6.2 .09-8 .33-97.1 .08-7.8 .08 7.7 .35 99.9 .08 7 .09-7.7 .36-83.7 .09-5 .12 8.4 .47 55.2 .12 1.7 .12-1.6 .47-60.8 .12-8.7 .09 6.7 .35 101 .09 9.3 .09-9.2 .35-134.3 .09-11.2 .08 11.3 .35 148.5 .09 12 .08-11 .35-143.3 .08-10.8 .09 9.9 .34 118.8 .09 7.8 .08-7.7 .34-79 .08-5.1 .08 3.4 .31 35.2 .08 2 .04-.3 .17-4.6 .04-.4 .06 .7 .24 12.3 .06 1.3 .09-2.4 .32-40.9 .09-3.5 .08 4.3 .33 56.4 .08 4.2 .08-4.7 .32-55.5 .08-3.9 .07 3.9 .3 44.1 .07 3 .07-3.2 .27-36.6 .07-2.7 .07 3.8 .28 43.5 .07 3.8 .08-4.2 .32-60.4 .08-4.7 .08 5.7 .33 70 .08 5.1 .09-5.5 .33-66.3 .08-5 .09 4.3 .34 50.7 .08 3.5 .09-2.8 .34-29 .09-1.5 .08 1.2 .32 9.8 .08 .4 .03-.1 .11-.8 .03-.3 0-.1M1445.36 212l.01 0 .05-.8 .17-7.5 .05-.6 .05 .7 .22 9.6 .05 .6 .03-.2 .09-1.4 .03-.1 .06 1 .23 19.9 .06 2 .06-2.6 .25-33.8 .06-2.6 .05 .8 .16 11.3 .04 1 .05-1.3 .2-21 .05-1.9 .07 4.2 .28 56.9 .07 3.8 .09-6.7 .37-58.2 .09-4.7 .07 4 .28 68.7 .07 6.4 .06-6.9 .25-85.9 .06-6 .05 5 .22 52.6 .06 3.1 .03-1.2 .13-12 .03-.9 .06 3.4 .21 52.3 .05 5.1 .06-6.6 .23-98.5 .06-7.5 .06 7.4 .21 87.2 .05 6.4 .05-8.3 .22-104 .05-9 .06 9.6 .25 131.9 .06 9.6 .05-7.5 .22-82.4 .06-5 .04 3 .17 33.2 .04 2.7 .05-3.3 .2-48.5 .05-3.8 .05 3.9 .2 49.9 .05 4.5 .06-4.1 .21-61.6 .06-5.2 .07 9 .28 110.4 .07 7.8 .1-12.3 .42-128.5 .1-12.4 .07 6.6 .31 88 .07 5.2 .03-.4 .1-4.7 .03-.3 .05 2.5 .21 43.4 .06 4.4 .07-8 .28-116.2 .07-8.3 .04 2.3 .17 26.6 .05 1.6 .03-1 .12-12.4 .03-1 .07 8.2 .27 151.6 .07 14.9 .06-14.8 .27-192.1 .06-13 .06 9.6 .22 97.9 .05 6.3 .05-3.1 .16-35.8 .05-2.7 .04 4.1 .2 55.1 .05 4.9 .06-5 .22-73.3 .06-6.2 .05 4.7 .21 63.3 .06 4.7 .05-4 .2-48 .05-3.7 .05 4.4 .22 56.9 .06 4.4 .08-8.2 .31-85.8 .08-4.8 .09 5.9 .38 119.1 .09 14.4 .08-8.7 .29-108.4 .07-6.2 .04 1.4 .14 13.8 .04 1 .03-.9 .15-13 .04-1.1 .06 4.7 .25 77.7 .06 7.2 .05-4.1 .2-59 .05-5.2 .05 4.8 .2 74.6 .05 6.9 .07-10 .24-144.8 .07-11 .05 11 .24 123 .06 7.4 .05-5.3 .18-55.5 .05-4.4 .05 4.6 .21 64.1 .05 4.8 .05-4.9 .21-57.8 .06-4 .04 2.3 .16 28.9 .04 2.2 .06-6.2 .23-92.4 .06-8.6 .08 12.1 .3 149.8 .08 9 .11-13.3 .43-106.8 .11-9.5 .06 2.9 .24 35.1 .06 2.3 .02-.5 .12-5.8 .03-.6 .06 2.9 .25 61.1 .07 6.2 .06-5.1 .25-70.2 .06-5 .03 1 .14 14.5 .04 1.3 .04-2 .19-33.4 .04-2.9 .06 7.6 .25 116.1 .06 10.3 .06-12 .25-161.6 .06-13 .06 11.4 .25 134.8 .06 8 .04-4 .18-40.8 .04-3.2 .04 1.9 .16 29.9 .04 2.6 .06-6.9 .25-107.7 .06-9.3 .06 7.3 .24 90 .06 6.4 .04-1.6 .15-23.3 .03-2.1 .06 4.8 .24 76.1 .06 6.1 .08-14.7 .34-145.7 .09-7.5 .1 8.3 .39 136.9 .1 14.7 .07-6.3 .27-69.3 .07-3.4 .02 .3 .09 2.9 .02 .3 .06-1.7 .22-34.1 .05-3.3 .05 3.2 .21 45.1 .06 3.7 .04-2.8 .19-39.7 .04-3.3 .06 7.4 .24 105.5 .06 8.1 .06-11 .23-132.4 .06-10.4 .06 6.9 .21 90.4 .05 7.4 .05-6.3 .22-83.2 .05-5.6 .06 7.4 .22 79.1 .05 5.6 .04-2.2 .16-29.4 .04-2.5 .05 3.2 .2 50.6 .05 4.6 .06-9 .26-129 .06-9.5 .07 11.6 .27 117.9 .07 6.2 .1-12.5 .42-43.8 .1-2.1 .06 1.4 .24 25.2 .06 2.4 .05-2.1 .21-27.7 .05-2.1 .05 1.9 .19 24.8 .04 1.8 .06-3.3 .21-41.4 .06-3.3 .05 3.2 .21 38.4 .05 2.4 .04-1.4 .13-14.4 .03-1.1 .06 5 .23 86.7 .06 8.6 .07-13.3 .27-196.7 .07-16 .06 13.9 .27 152.4 .06 8.6 .03-1.3 .13-15.2 .03-1.3 .05 2.9 .19 48.9 .05 4.3 .06-10.2 .27-140.2 .06-11.1 .06 5 .2 62.2 .05 4.6 .04-1.9 .16-27.4 .04-2.2 .06 8.5 .27 123.4 .06 9.9 .08-15.5 .34-141 .08-6 .1 5.1 .39 82.5 .09 9.9 .06-3.3 .23-43 .06-3.1 .05 1.9 .19 22.4 .05 1.3 .04-1 .15-11.5 .04-.9 .04 1.2 .17 19 .05 1.7 .06-4.3 .23-67.2 .05-5.8 .06 6.8 .23 93.4 .05 8.4 .06-6.2 .21-91.9 .06-7.9 .05 7.9 .23 112.2 .06 9.6 .06-8.2 .23-110.3 .06-7.8 .05 3.9 .18 45.6 .05 3.4 .04-2.5 .17-34.8 .04-3.4 .06 5.3 .23 90.2 .06 7.6 .05-8.1 .23-103.6 .06-7.7 .06 8.5 .24 96.7 .06 6.1 .07-10.5 .29-85.7 .07-3.2 .12 4 .46 69.3 .11 10.7 .05-1.6 .21-18.2 .05-.9 .02 .1 .07 1.1 .01 .1 .08-3 .3-73.1 .08-7 .13 16.5 .56 124.4 .14 44.8 .07-15.4 .28-212.5 .07-15.6 .06 10.6 .23 110.4 .06 6.5 .04-1.3 .13-17.1 .03-1.1 .05 5.4 .22 78 .06 6.9 .06-8.3 .24-110.5 .06-7.9 .05 4.5 .18 52.2 .05 4.6 .05-4.2 .2-64 .05-4.7 .07 9.1 .24 113.1 .06 9.2 .07-9 .27-104.4 .06-5.9 .11 10.8 .42 71.9 .1 7.7 .08-5.5 .29-81 .08-6.2 .12 11.7 .5 72 .12 15.7 .06-4.4 .24-66.8 .06-5.4 .04 3.7 .19 47.8 .05 3.7 .06-7.4 .22-101.6 .06-9.4 .06 10.3 .25 147.7 .07 11.2 .05-7 .22-80.5 .05-5.1 .04 2.9 .16 34.1 .04 2.8 .06-4.9 .21-71.1 .06-5.9 .05 5.9 .21 75.6 .05 5.9 .05-6.4 .21-83.5 .06-6.9 .06 10.8 .26 138 .07 9.1 .12-31.8 .49-105.7 .13-5.1 .14 14.2 .57 72.2 .15 8.9 .08-6.4 .34-83.4 .08-3.6 .02 .1 .08 1.1 .02 .1 .02-.1 .1-2.2 .02-.3 .08 4.2 .31 135.5 .08 15.1 .07-12.7 .25-163.2 .07-12.5 .06 8.2 .22 97.2 .06 5.9 .04-4.1 .17-42 .05-3.3 .05 4 .19 54.9 .05 4.6 .05-6.4 .22-89.3 .06-8 .06 6.4 .22 91.9 .06 6.2 .05-5.6 .19-62.5 .05-4.5 .05 6.8 .22 84.6 .05 6.7 .07-11.6 .28-138 .07-8.2 .11 21.3 .46 130.9 .12 12.5 .09-9.8 .34-113.7 .09-5.3 .11 5.3 .46 66.5 .11 12.6 .05-1.7 .17-22.4 .04-1.7 .05 3 .2 44.5 .04 4.7 .07-7.4 .26-133.7 .06-12.5 .06 9.1 .24 121.8 .07 8.3 .04-5.2 .19-58.1 .05-4.5 .05 4.8 .2 63.1 .06 4.6 .05-5.1 .19-62.1 .05-5.3 .05 3.6 .19 54.4 .05 4.4 .06-8.8 .23-120.4 .06-9.1 .07 13.9 .26 156.8 .07 9.6 .06-8.6 .25-71.9 .06-2.8 .02 .4 .09 3.7 .03 .3 .05-1.7 .23-30.6 .06-2.4 .05 2.6 .23 27 .06 1.5 .02-.2 .1-2.5 .02-.1 .06 1.8 .25 31.1 .06 2.4 .11-10.6 .48-41.5 .12-6.9 .06 4.1 .26 83.7 .06 9 .07-9.6 .26-144.6 .06-11.5 .07 11.7 .25 133 .06 8.3 .04-3.1 .17-34.2 .04-2.4 .04 2.3 .16 31.2 .05 2.6 .06-8.3 .25-127.6 .07-11 .05 8.1 .23 101.8 .06 7 .04-2.9 .16-34.9 .04-3.1 .06 7.2 .23 112.6 .06 9.7 .08-15.8 .29-183.9 .08-9.8 .12 22.1 .5 130.5 .12 16.9 .08-8.2 .3-81.7 .07-4 .04 .4 .14 4.6 .03 .2 .03-.1 .09-1.3 .02-.1 .05 .7 .21 12.7 .05 1.1 .04-.9 .15-11.5 .03-1.2 .07 3.4 .24 69.8 .07 7.3 .06-7 .24-103.8 .06-8.3 .05 7.4 .23 91.4 .05 6.4 .06-7.6 .22-87.7 .05-6.1 .05 5.5 .21 61.7 .05 4.2 .04-2.6 .16-32.2 .04-2.4 .06 5.7 .21 83.2 .05 7.6 .07-10.1 .24-143.2 .07-10.8 .05 10.1 .24 117 .05 8.8 .06-5.8 .22-71.4 .05-4.2 .06 4.2 .2 41 .05 2.8 .04-1.1 .16-13.6 .04-.9 .04 1.7 .19 20.9 .04 1.8 .06-3 .24-39.7 .06-2.6 .05 1.2 .16 12.8 .05 1 .04-1.2 .19-14.3 .05-1.2 .12 6.1 .5 77.4 .12 24.2 .07-10.3 .3-182.3 .07-15.4 .07 12.8 .26 134.4 .07 7.1 .03-.6 .1-8.3 .03-.8 .05 2.8 .21 55.4 .05 4.9 .07-10.8 .26-143.3 .07-9.6 .04 6.2 .2 64.8 .05 4.7 .04-3.5 .17-46.1 .05-3.8 .06 10.2 .25 149.5 .07 12.6 .06-13.7 .28-158.8 .07-9.6 .12 19.5 .51 68.6 .13 16 .06-4.4 .25-62.2 .07-4.3 .07 5.9 .29 46.9 .07 1.5 .1-1.5 .38-39.9 .1-7.8 .05 2.8 .21 41.2 .05 3.5 .06-4.6 .21-65 .06-5.7 .06 8.7 .25 120.7 .06 9.9 .06-8.6 .24-102.7 .06-6.6 .04 2.1 .15 24.5 .04 1.9 .04-3.1 .19-45.7 .05-3.5 .06 8.3 .24 112.8 .06 8.9 .05-8.8 .22-107.9 .06-8.2 .05 8.5 .22 108.2 .06 9 .06-9.2 .25-117.3 .07-7.1 .05 4.5 .2 41.6 .06 2.5 .02-.3 .1-5 .03-.5 .06 3.6 .27 63.8 .06 5.1 .07-5.1 .26-46.6 .06-2 .02 .1 .06 .7 .01 0 .08-2.6 .3-52.5 .07-3.8 .12 8.5 .44 133.7 .11 21.6 .08-12.3 .29-176.1 .07-13.9 .06 7.8 .24 86.6 .06 4.8 .03-1.2 .12-13.8 .03-1.1 .06 4.4 .23 71.5 .05 5.6 .06-8.2 .23-99.4 .06-7.3 .05 5.3 .19 63.7 .05 4.6 .05-6 .21-78 .05-5.8 .06 9.7 .23 124.6 .05 10.4 .07-10.4 .24-134.4 .07-10.1 .12 28.6 .52 81.8 .12 12.1 .08-7.1 .29-109.3 .07-8.3 .12 18.7 .46 88.1 .12 3.8 .06-1.4 .24-23 .06-1.9 .02 .2 .11 3.8 .02 .4 .07-3.6 .28-89.4 .06-10.4 .07 10 .28 144.4 .07 9.7 .05-6.4 .21-63 .05-3.8 .04 1.7 .14 19.8 .03 1.8 .06-4.4 .23-73.7 .05-5.9 .05 6.7 .21 83.4 .06 7.5 .05-6.5 .22-96.1 .05-7.5 .06 12 .25 149.1 .06 9.9 .06-12 .25-116.9 .06-6.7 .04 2 .15 21.8 .04 1.5 .05-2.4 .18-33 .04-3 .07 5.4 .26 74.7 .06 5 .04-1.8 .17-19.4 .04-1.3 .05 1.6 .17 20.6 .04 1.9 .08-6.4 .32-84.6 .08-5.4 .1 6 .39 112.8 .1 14.5 .06-8.6 .27-118.3 .06-10.3 .06 6.2 .23 81.7 .06 6.1 .05-2.6 .17-34 .05-2.5 .04 2.8 .18 35.7 .04 2.7 .06-6.3 .23-87.2 .05-7.5 .06 7.2 .23 99.4 .05 8.2 .05-4.7 .2-65.7 .04-4.8 .06 7.9 .21 98.5 .06 7.5 .06-13.5 .26-165.7 .07-12.4 .13 36.5 .53 124.2 .13 19.2 .07-8.3 .29-127 .07-9.4 .07 7.7 .28 66.9 .07 2.5 .03-.2 .12-2.5 .02-.2 .11 2 .43 19.3 .11 8 .07-3.8 .26-76.6 .07-6.8 .05 6.6 .24 82.2 .05 6.2 .06-5.6 .21-70 .06-5.8 .05 4.1 .21 54.5 .05 3.9 .04-1.8 .15-23.4 .04-2.1 .05 4.2 .21 69.4 .05 6.5 .07-11.1 .25-164.4 .06-14.8 .07 11.6 .25 151.4 .06 9.4 .05-5.1 .18-53.1 .05-3.7 .05 4.2 .19 51.6 .05 3.5 .06-7.7 .24-85.7 .06-6.2 .05 2.2 .17 28 .05 2.1 .04-1.1 .15-17.4 .04-1.8 .06 5.1 .27 86.4 .07 6.8 .08-9.7 .32-87 .08-3.8 .08 3.9 .33 60.8 .09 7.2 .06-5.7 .25-83.2 .07-7.5 .06 7 .25 92.4 .07 6.2 .04-3 .18-32.5 .04-2.4 .04 1.6 .16 23.7 .04 2.4 .06-5.1 .24-92 .06-8.5 .06 6.3 .22 85.8 .05 6.3 .05-4.8 .18-59.3 .05-5.1 .06 8.8 .23 129.8 .06 10.3 .07-14.1 .26-166.2 .06-12.1 .06 6.5 .23 69.6 .06 3.5 .02-.5 .09-4.7 .03-.4 .05 3.1 .24 58.2 .05 5.6 .06-6.1 .25-83.5 .06-6 .05 5.5 .23 61.8 .06 4.3 .07-5.7 .28-52.9 .07-2.5 .09 2.4 .38 44.6 .09 6.8 .05-2.2 .21-34.4 .05-3.4 .06 3.8 .22 61.5 .06 5 .06-8.4 .26-104.5 .07-7.2 .05 4.4 .21 44.2 .05 2.5 .02-.3 .08-3.4 .02-.4 .07 4.2 .26 107.4 .07 11.1 .06-12.7 .26-171.7 .07-12.8 .05 9.4 .22 107.7 .06 7.4 .05-5.6 .19-65.7 .05-4.7 .05 7 .23 84.5 .05 6.9 .05-4.7 .22-60.3 .05-3.7 .05 2.7 .16 28.4 .04 1.9 .06-4.1 .21-53.5 .05-4.6 .06 4.9 .23 68.1 .06 5.1 .06-5.6 .24-63.8 .06-4.5 .09 8.3 .37 84.5 .1 8.1 .08-6.1 .31-120.6 .08-11.3 .06 6.8 .26 76.1 .06 3.9 .03-.6 .1-6 .03-.5 .05 2.7 .22 50.3 .06 4.8 .06-6.4 .24-87.9 .06-6 .05 4.2 .18 45.4 .04 3.4 .05-5.7 .21-78.9 .05-7.8 .06 10.1 .25 156.4 .07 11.7 .06-11.9 .23-130.3 .06-9.2 .05 5.4 .21 62.2 .05 3.9 .04-2.9 .17-32.4 .05-2.4 .04 2.8 .19 37.1 .04 3.1 .06-5.2 .23-74.9 .05-5.9 .07 9.5 .26 110.3 .07 6.8 .11-18.2 .45-63.5 .12-1.4 .03 .2 .15 2.8 .03 .3 .05-.7 .18-11.3 .05-1.2 .07 4 .28 72.2 .07 6 .06-5.9 .25-63.4 .06-4.3 .04 .9 .14 12.6 .04 1.1 .05-1.6 .19-26.4 .04-2.5 .06 4.4 .25 67.1 .06 5.6 .05-5.2 .24-65.3 .05-4.6 .06 4.8 .22 53.2 .05 3.8 .06-4.1 .23-47.5 .05-3.1 .06 3.9 .23 43.2 .05 3.3 .06-3.3 .23-43 .05-3.5 .06 3.2 .23 43 .05 3.6 .06-3 .23-43.1 .05-3.7 .06 3.1 .23 43.6 .06 3.1 .06-3.7 .22-43 .06-3.1 .06 3.6 .22 43 .06 3.2 .05-3.4 .23-43.1 .06-3.3 .05 3.3 .23 43 .06 3.5 .05-3.2 .23-43 .06-3.6 .05 3.1 .23 43 .06 3.7 .05-3.1 .24-43.6 .05-3.1 .06 3.7 .23 43 .05 3.1 .06-3.6 .23-43 .05-3.2 .06 3.5 .22 43 .06 3.3 .06-3.3 .22-43.1 .06-3.4 .06 3.2 .22 43 .06 3.6 .06-3.1 .22-43 .06-3.7 .06 3.1 .23 43.6 .06 3.1 .05-3.7 .23-43.1 .06-3 .05 3.6 .23 43 .06 3.2 .05-3.5 .23-43 .06-3.3 .05 3.3 .23 43.1 .05 3.4 .06-3.2 .23-43 .05-3.6 .06 3.1 .23 43 .05 3.7 .06-3.1 .23-43.6 .06-3.1 .06 3.8 .22 43 .06 3 .06-3.6 .22-43.1 .06-3.1 .06 3.5 .22 43 .06 3.3 .06-3.4 .22-43 .06-3.4 .05 3.2 .23 43.1 .06 3.5 .05-3.1 .23-43 .06-3.7 .06 3.1 .23 43.7 .05 3 .06-3.8 .23-43 .05-3 .06 3.6 .23 43.1 .05 3.1 .06-3.5 .23-43 .05-3.3 .06 3.4 .23 43 .05 3.4 .06-3.2 .23-43.1 .05-3.5 .06 3.1 .22 43 .06 3.7 .06-3.1 .23-43.7 .06-3 .06 3.8 .22 43 .06 3 .05-3.6 .23-43.1 .06-3.1 .05 3.5 .23 43.1 .06 3.2 .05-3.4 .23-43 .06-3.4 .05 3.3 .23 43 .06 3.5 .05-3.1 .23-43.1 .05-3.6 .06 3 .23 43 .05 3.8 .06-3 .23-43.7 .06-3.1 .06 3.7 .22 43 .06 3.1 .06-3.5 .22-43.1 .06-3.2 .06 3.4 .22 43 .06 3.4 .06-3.3 .22-43 .06-3.5 .06 3.1 .22 43.1 .06 3.6 .06-3 .22-43 .06-3.8 .06 3 .23 43.7 .06 3.1 .05-3.7 .23-43 .05-3.1 .06 3.5 .23 43.1 .05 3.2 .06-3.4 .23-43.1 .05-3.3 .06 3.3 .23 43 .05 3.5 .06-3.2 .23-43 .05-3.6 .06 3 .23 43.1 .05 3.7 .06-3.1 .23-43.6 .06-3.1 .06 3.7 .22 43 .06 3.1 .05-3.7 .22-40.5 .06-3.2 .06 2.7 .23 37.5 .06 2.4 .05-3 .23-32.7 .06-2.2 .05 2.6 .23 28.7 .06 1.9 .05-2.2 .23-24.6 .06-1.6 .05 1.9 .23 20.4 .06 1.3 .05-1.4 .22-16.2 .06-1.3 .05 1 .23 12.3 .06 .9 .05-.7 .22-8.2 .06-.5 .05 .4 .21 4.1 .05 .3 .03-.1 .13-1.1 .04-.1M1623.55 212l.06-.9 .21-9.2 .05-.7 .08 1.7 .34 17.7 .08 .5 .01 0 .04-.1 .01 0 .05 .2 .2 3.6 .05 .4 .09-1.8 .37-24.9 .09-1.2 .02 .1 .12 .8 .03 .1 .02 0 .08-.3 .02 0 .08 .9 .33 29.3 .08 3.1 .05-1.5 .21-18.9 .05-1.6 .06 2.1 .23 30.8 .05 2.6 .07-5.4 .28-76.1 .07-6.1 .07 5.5 .26 56 .07 2.9 .03-1 .14-9.4 .04-.8 .06 2.8 .24 43.6 .06 3.9 .07-5.3 .27-73.4 .07-6.2 .05 2.9 .22 41.3 .05 3.6 .06-3.8 .24-57.2 .06-4.7 .08 9.2 .32 111.4 .08 6.9 .11-12.8 .43-107.1 .11-7.3 .07 4.3 .3 65.7 .08 6.1 .06-2.6 .22-40.3 .05-3.2 .07 6.3 .26 88.9 .07 8.4 .07-9.6 .3-132.1 .08-9.7 .06 4.7 .24 51.7 .06 2.8 .03-.7 .13-8.6 .03-.8 .08 5.3 .3 103.8 .08 9.6 .1-15.6 .39-157.7 .1-7.3 .11 8.4 .45 145 .11 16.5 .08-9.4 .32-109.6 .09-6.8 .07 3.9 .28 29.4 .07 .6 .02 0 .06 .4 .24 14.9 .06 2 .05-1.8 .24-36.1 .06-3.9 .07 4.9 .27 84.3 .07 7.9 .07-7.4 .28-101.6 .07-7.2 .06 4.7 .23 53.3 .05 3.5 .06-4.2 .22-48.2 .05-3.5 .08 8.2 .29 98.5 .08 6.6 .12-16.1 .48-89.7 .12-3.5 .17 10.3 .7 73.5 .18 32.5 .08-9.3 .32-155.6 .08-12.7 .07 11 .29 123.6 .07 7.9 .05-3 .21-34 .05-2.1 .05 2.9 .22 32.5 .05 2.2 .08-5.6 .31-52 .07-1.9 .01 .1 .05 .3 .02 0 .06-1.1 .25-30.5 .06-3.5 .09 8.1 .34 122.5 .08 8.7 .13-18.2 .49-122.8 .12-9.3 .09 5.7 .35 102.2 .09 8 .06-3.6 .25-35.2 .06-1.9 .02 .4 .12 4.3 .03 .4 .06-3 .27-56.3 .06-6 .07 5.8 .26 92.2 .07 8.6 .07-7.7 .26-115.5 .07-9.5 .08 11.6 .3 141.9 .07 9 .11-17.8 .43-113.1 .1-3.4 .11 3.3 .42 61.7 .1 3.8 .02-.1 .07-.6 .02-.1 .06 1.4 .25 31.8 .07 3.7 .08-7.5 .32-124.4 .08-10.5 .09 10.2 .33 93.7 .08 2.8 .01 0 .04-.3 .01 0 .07 1.4 .26 41 .07 4.5 .08-8.8 .31-121 .08-8.4 .07 6.6 .28 59.2 .07 2.7 .02-.1 .08-1.2 .02-.1 .07 2.5 .28 52.7 .07 4.8 .08-6.4 .3-74.8 .07-4.7 .05 2.1 .21 23 .05 1.7 .07-1.6 .24-20.1 .06-1.2 .12 4.7 .48 82.2 .12 16.3 .08-8.8 .32-160.2 .08-14.8 .07 11.5 .3 147.4 .07 10.9 .06-5.9 .24-71.7 .06-5 .06 3.5 .22 43.1 .05 3 .06-4 .25-45.7 .06-3.1 .05 2.3 .21 27.2 .05 2.2 .07-2.8 .26-37 .06-2.6 .12 8.4 .49 80.3 .12 10.8 .08-8.2 .36-141.6 .08-11.5 .15 32.6 .59 111.1 .15 10.6 .08-6.2 .33-108.8 .08-9.4 .07 4 .24 48.8 .06 3 .03-1.1 .15-12.7 .04-1 .07 6.2 .29 104 .07 10.1 .08-11.8 .33-153.2 .09-10 .11 14.7 .45 85.7 .11 3.2 .07-1.3 .26-21.6 .07-2.1 .06 1.6 .22 24.4 .05 2.1 .07-4.4 .28-65.2 .06-5.2 .06 4.8 .25 58.6 .06 4.2 .05-4 .22-50.3 .05-4.3 .07 7.5 .27 110.1 .07 9.2 .08-12.1 .31-144 .08-8.9 .13 19.8 .52 85 .14 7.3 .07-2.7 .28-45.7 .07-3.9 .05 2.7 .23 35.5 .06 2.6 .08-5.5 .29-61.9 .08-3.7 .13 10 .53 97.9 .13 19.1 .08-9.2 .34-139.6 .08-9.5 .06 6.2 .26 56.2 .07 3 .02-.2 .09-2.3 .02-.2 .07 4.6 .3 100.3 .08 11.2 .08-11.6 .32-165.1 .08-11.4 .09 10 .32 82.8 .08 2.7 .02-.1 .08-1.2 .02-.1 .08 1.8 .33 25.2 .08 1.3 .12-2.4 .45-90.5 .11-15.9 .08 8 .3 122.2 .08 10.2 .06-7.5 .27-92.7 .06-6.3 .06 6.2 .25 68.8 .06 5.1 .07-4.4 .26-49.5 .07-2.6 .03 .5 .11 4.7 .03 .4 .06-1.7 .23-33 .06-3.3 .07 7.2 .32 108.2 .07 8.7 .15-22.4 .56-96.6 .14-8.9 .09 5.7 .36 88.9 .09 6.3 .13-9.2 .55-63.6 .14-12.6 .06 3.1 .23 40.9 .06 3.3 .05-3.8 .23-55.3 .06-5.4 .07 9.4 .3 150.8 .07 12.4 .08-16.2 .32-185.7 .08-12.1 .15 30.2 .62 104.9 .15 13 .13-10.8 .54-88.8 .14-11.6 .08 5.6 .32 96.1 .08 8.4 .06-4 .25-51.3 .06-3.8 .05 2.2 .2 29.2 .05 2.3 .06-4.6 .26-62.8 .06-5 .07 4.6 .25 57.1 .06 3.8 .05-2.7 .21-29.9 .05-2.1 .06 3.4 .24 41.1 .06 2.9 .05-3 .22-34.6 .06-2.6 .05 2.1 .2 28.7 .05 2.5 .07-5.9 .29-91.2 .07-7.3 .1 14 .38 148 .1 9.2 .1-9.6 .41-164.1 .1-16.4 .08 9.7 .3 119.6 .08 8.3 .05-2.3 .19-28.4 .04-1.9 .06 3.5 .21 45.6 .06 4.3 .07-7.6 .29-116.4 .07-9.6 .07 6.8 .26 82.2 .07 5.2 .05-3.5 .21-37.1 .05-3 .07 5.5 .29 71.3 .07 5.1 .12-10.7 .48-111.4 .11-12.8 .09 7.9 .35 128.6 .09 9.3 .08-8.3 .32-63.6 .08-1.4 .01 0 .02 0 .01 0 .06-.9 .27-30.2 .07-3.6 .07 3.1 .25 48.2 .07 3.9 .05-2.3 .2-30.4 .05-2.9 .06 4 .25 66.1 .07 6.2 .07-6.6 .27-93.7 .07-7.4 .06 5 .24 62.3 .06 4.5 .06-4.4 .25-53.5 .06-3.8 .08 7.7 .33 73.7 .09 3.5 .12-5 .48-77.3 .12-9.5 .07 2.3 .24 24.3 .07 1.2 .01-.1 .06-.6 .02-.1 .08 3.4 .34 117.5 .08 14.8 .09-15 .33-217.5 .08-15.2 .08 18.5 .35 156.5 .08 6.3 .04-.6 .16-5.5 .04-.3 .01 0 .04 .1 .01 0 .09-2 .36-73.9 .09-7.5 .05 2.8 .24 33.3 .05 2.5 .05-1.2 .2-18.1 .05-1.4 .07 3.9 .3 46.3 .08 2.5 .04-.8 .19-6.7 .05-.2 .01 0 .04 .1 .01 0 .09-1.8 .35-68 .09-7.1 .07 5.5 .29 57.6 .07 3.3 .03-.3 .1-3.9 .03-.4 .06 2.1 .25 42.9 .06 4.2 .07-7.3 .29-108.6 .07-9.7 .07 6.8 .25 93.2 .07 7.7 .06-5.6 .25-76.3 .06-5.8 .07 8.4 .3 98 .07 6.2 .11-11.9 .43-93.6 .11-6 .08 3.4 .31 56.2 .08 5.1 .05-1.6 .19-23.5 .05-2.1 .07 4.3 .26 70.6 .07 6.7 .07-9.7 .32-129 .08-8.9 .15 25.4 .63 112.7 .16 32 .09-13.3 .34-151.9 .09-8.8 .14 14.9 .55 124.5 .14 21.6 .08-9.4 .34-117.9 .08-8.1 .11 8.9 .42 61.2 .1 3.6 .07-2.4 .3-50.4 .07-6.2 .07 6 .29 106.4 .07 9.4 .08-10.6 .29-136.1 .07-9.8 .06 7.3 .26 80 .06 4.9 .05-3.2 .19-35.7 .05-3 .07 5.2 .27 74.9 .07 5.8 .08-8.9 .34-84.3 .08-3.4 .13 3.7 .51 36.8 .13 5.4 .03-.1 .11-2.3 .02-.2 .07 2 .26 40.6 .07 4.3 .08-7.7 .31-118.3 .08-10.1 .08 8.2 .3 88.1 .08 4.4 .02-.2 .11-3.4 .02-.3 .06 1.8 .23 32 .06 3.2 .08-5.9 .3-82.8 .07-5.3 .05 2.2 .18 22.5 .05 1.6 .05-2.4 .2-31.3 .05-2.8 .08 8.7 .31 135.6 .08 10.6 .1-16.9 .39-155.7 .09-7.7 .11 7.2 .43 112 .1 10.8 .07-4 .26-46.2 .07-3.1 .03 .6 .14 8.4 .04 .8 .06-2.8 .26-51.3 .06-5.2 .07 5.8 .26 89.8 .06 8.1 .07-7.5 .26-109.6 .07-9.5 .08 10.6 .29 137.9 .08 9.4 .11-19.6 .44-118.5 .12-3.1 .1 3.8 .4 93.9 .1 9.1 .07-3.5 .28-32.9 .06-1.2 .02 0 .04 .2 .01 0 .08-2.1 .33-61.4 .08-6.8 .16 18.9 .62 82.4 .15 20.7 .08-7.8 .31-118.7 .08-9.1 .06 5.6 .25 62.7 .06 4.2 .04-1.5 .17-19.9 .04-1.6 .07 5.6 .28 85.1 .06 7.7 .08-9.4 .32-114.4 .08-6.7 .07 5 .29 36.2 .08 1.1 .01 0 .06-.3 .02 0 .13 2.9 .52 56.6 .13 12.1 .08-8 .33-144.3 .08-14.3 .08 11.6 .3 156.6 .08 12.1 .06-6.9 .27-81.5 .06-5 .05 2.4 .19 26 .05 1.9 .05-1.8 .21-24.4 .05-1.7 .05 2.5 .22 31 .05 2.4 .07-4.6 .26-60.1 .07-4.4 .09 10.2 .37 83.1 .1 2.6 .12-1.7 .5-106.4 .13-18.2 .12 18.7 .5 114.5 .13 3.8 .09-4.1 .37-111.5 .09-11.8 .06 7.3 .27 88.3 .06 6.6 .06-4.5 .22-57.9 .06-4.7 .06 7 .27 95.7 .06 7.2 .08-11 .29-124.1 .08-8 .08 10.1 .35 78.1 .08 2.7 .1-1.7 .4-23.3 .09-3.9 .06 1.1 .22 20.2 .05 2 .07-2.9 .26-47 .06-4.4 .07 4.1 .26 58.4 .06 4.2 .06-3.9 .22-46.1 .05-4 .06 4.2 .25 63.2 .06 5 .07-7 .28-84.4 .07-5.5 .06 5.8 .27 54.8 .06 3 .04-.7 .14-8 .04-.7 .05 1 .19 15.7 .04 1.4 .07-3.3 .26-53 .06-5.1 .07 5.1 .27 77.2 .07 6.7 .09-8 .33-94.7 .08-5.3 .11 8.5 .43 117.1 .1 12.7 .08-10 .33-137.4 .08-10.8 .06 6.9 .27 75.4 .07 4.2 .04-1.3 .14-13.2 .03-1.2 .07 3.9 .25 74 .07 7.6 .08-9.9 .3-147.3 .08-10.5 .07 11.2 .31 107.3 .07 5.7 .07-3.2 .25-25 .06-.9 .03 .2 .1 1.1 .03 .1 .04-.4 .18-3.9 .05-.3 .02 0 .1 .9 .03 .1 .07-1.5 .29-37.8 .07-4.7 .07 4.7 .29 76 .07 6.9 .07-5.1 .27-67.6 .06-4.4 .06 3.7 .23 37.8 .06 2.3 .05-1.6 .19-17.8 .04-1.2 .05 1.6 .18 18.5 .05 1.7 .06-3.5 .26-57.6 .06-4.9 .07 7.6 .28 102.3 .07 8.1 .07-8.2 .29-93.6 .07-5.5 .05 3.7 .23 34.9 .06 2.3 .04-1 .19-13.3 .04-.9 .07 2.7 .28 29 .06 1.8 .13-3.5 .49-28.7 .13-7.9 .06 2.1 .23 36.2 .06 3.5 .07-4.6 .25-73.3 .06-7.2 .08 9.6 .29 150.4 .07 13.5 .08-13.6 .31-174.8 .08-12.3 .14 25.4 .56 107.9 .14 12.2 .08-5.8 .34-85 .09-5.6 .14 10 .56 55.6 .15 14.1 .06-3.5 .28-50.4 .07-3.9 .05 1.6 .2 21.3 .05 1.6 .05-1.5 .2-18.9 .05-1.6 .05 2.6 .24 37.5 .05 3.5 .06-3.6 .25-53.7 .06-5 .06 4.5 .25 68.2 .07 5.5 .06-4.8 .24-63.7 .06-4.7 .06 4.9 .23 60.5 .06 5.3 .07-6.5 .28-91.9 .07-6.5 .08 11.2 .35 110.5 .09 6.4 .09-7.4 .4-108.3 .1-10.3 .07 7.2 .29 95.6 .07 8.3 .06-5 .26-68.1 .06-5 .06 4.2 .23 51.3 .06 3.6 .06-4 .22-49.1 .06-4.2 .06 3.6 .23 52.4 .06 4.1 .07-4.8 .24-61.9 .07-4.8 .06 5.5 .27 66.9 .07 4.9 .13-12.9 .54-49.9 .14-9.1 .08 4.3 .31 81.4 .08 7.7 .08-8.5 .35-92.5 .09-4.8 .11 5 .46 91.7 .11 14 .07-7.5 .3-110.2 .07-8.8 .07 6.9 .25 83.7 .06 6.6 .06-4.2 .23-58.1 .05-4.5 .07 5.9 .24 77.3 .07 6.6 .07-7.7 .28-101.2 .07-7.3 .09 8.5 .34 74.1 .08 2.7 .12-2.1 .46-37.3 .12-6.1 .05 .8 .18 11.6 .05 .9 .05-1 .18-14.3 .05-1.3 .07 4.3 .28 75.3 .07 7.6 .07-8.5 .3-122.2 .07-8.8 .07 9.9 .3 98.9 .07 5.1 .06-3.1 .24-21.5 .06-.6 0 .1 .02 0 .08-1.4 .31-56.6 .08-6.6 .07 6.7 .28 90.7 .07 7.4 .07-6.7 .28-81.8 .07-5.9 .07 5.2 .28 53.5 .07 2.9 .12-4.6 .45-35.4 .11-5.9 .07 2.6 .28 45.9 .07 4.3 .06-2.7 .23-37.1 .06-3.2 .05 2 .21 30.6 .05 2.7 .06-4.6 .25-69.9 .06-6.7 .07 8.5 .28 128 .07 11.5 .07-10.7 .3-141.9 .07-9.8 .08 10.3 .33 90.9 .08 3.5 .12-4.5 .48-37.7 .13-6.7 .05 1.3 .21 17.4 .05 1.5 .05-1.2 .2-18.3 .05-1.7 .07 3.6 .27 55.8 .06 5 .08-5.3 .28-67.3 .07-4.4 .05 1.8 .2 19.5 .05 1.4 .03-.4 .13-5.9 .04-.5 .07 3.5 .28 67.7 .07 6.7 .07-8.1 .29-109.7 .07-8 .07 7.1 .27 75.4 .07 4.8 .04-1.3 .16-16.1 .05-1.4 .05 1.7 .21 28.6 .05 2.7 .08-5.5 .29-84.9 .08-7.4 .09 9.2 .37 99.6 .09 5.9 .1-5.7 .37-103.3 .09-11.2 .07 8 .29 115.7 .08 9.8 .06-8.2 .27-107.2 .07-8.1 .06 7 .26 85.2 .06 6.3 .06-4.8 .25-54.1 .06-3.1 .05 2.3 .2 23.4 .05 1.8 .06-1.7 .21-22.7 .06-1.9 .07 2.7 .28 33.4 .07 1.9 .13-5.6 .54-31.7 .13-7.1 .08 3.2 .33 48.7 .08 4.2 .09-4 .35-49.3 .08-3.4 .08 3.1 .31 39.7 .08 2.9 .07-2.7 .3-32.8 .07-2.4 .07 2.7 .29 34.3 .07 2.8 .08-3.4 .32-45.6 .07-3.6 .08 4.6 .33 58.5 .08 4.9 .08-4.9 .34-67.1 .09-5.2 .08 5.4 .35 64.9 .08 4.6 .09-4.7 .37-52 .09-3.3 .13 5.4 .53 35 .13 2.1 .1-1.9 .42-43.7 .1-4.8 .09 4.7 .35 68.2 .09 5.8 .09-6.3 .34-85.3 .09-7.5 .09 6.6 .35 92.6 .09 6.7 .08-7.3 .34-84.4 .09-6.4 .08 5.6 .34 67.2 .08 4.7 .09-3.8 .33-42.3 .08-2.7 .07 1.6 .28 16.9 .07 1 .05-.4 .19-5.1 .05-.4 .07 .8 .28 14 .07 1.2 .08-2 .32-27.7 .08-2.4 .08 2.3 .32 33.2 .08 2.7 .08-2.2 .31-29.1 .08-2.1 .07 1.8 .27 20.7 .07 1.7 .07-1.5 .27-20.3 .06-1.8 .08 2.3 .3 33.4 .08 2.8 .08-3.8 .32-53.6 .08-4.5 .09 5.2 .33 71.8 .08 6.2 .09-6.1 .34-82.7 .09-6.2 .09 6.7 .34 80.8 .09 6 .09-5.7 .35-67.9 .09-4.8 .1 5 .41 46.9 .11 2.1 .12-2.7 .52-38.6 .13-5.2 .09 3.4 .38 57 .09 5 .09-5.6 .35-74.3 .08-5.7 .09 6.4 .34 80.4 .08 6.6 .09-5.7 .34-76.1 .08-5.7 .08 5 .33 61 .08 4.4 .08-3.6 .32-41.8 .07-2.7 .07 2.4 .28 25.8 .07 1.9 .07-1.8 .28-22 .07-1.8 .07 2.1 .3 28.5 .08 2.3 .08-2.7 .32-34.9 .08-2.5 .08 2.9 .33 32.6 .08 2.4 .08-1.7 .31-20.5 .08-1.2 .05 .4 .2 4.6 .05 .3 .06-.3 .21-5 .06-.4 .08 1.3 .31 19.5 .08 1.8 .09-2.2 .33-30.2 .08-2.5 .09 2.4 .34 31.5 .08 2.2 .09-2.1 .33-23.7 .08-1.5 .08 1.2 .31 11.4 .08 .6 .03-.2 .15-2 .04-.5 .01-.1 .01 0 .01 0 .03-.6 .15-6.2 .04-.5 .04 .6 .17 9.7 .04 1 .05-1.2 .19-20.3 .05-2.1 .05 3.2 .24 52.6 .06 4.3 .05-3.7 .21-43.7 .06-2.8 .04 2.1 .16 24.3 .04 1.9 .06-5 .23-68.8 .06-5 .05 5.8 .23 61.3 .06 3.6 .02-.8 .12-9.3 .03-.8 .05 3.6 .23 63.8 .05 5.1 .06-6.9 .23-79.8 .05-5.2 .04 1.6 .13 19.5 .03 1.5 .05-6 .22-96.6 .05-8.9 .06 11.3 .24 154 .06 11.4 .04-5.9 .17-72.5 .05-6.4 .05 7.8 .2 119.9 .05 10.1 .06-15.5 .24-206.2 .06-15.4 .05 10.2 .19 125.1 .05 10.4 .05-7.9 .19-117.8 .05-9 .06 16.6 .23 210.8 .06 16.8 .05-12.4 .22-154.2 .05-9.9 .04 7.5 .18 85.9 .04 7.7 .06-11.2 .23-168.9 .06-12.5 .05 13 .23 143.8 .06 9.6 .04-3.6 .15-43.6 .04-3.2 .05 7 .21 94.7 .06 8.5 .06-9.2 .25-113.3 .06-5.8 .03 1.4 .11 13.1 .03 .9 .05-3.8 .2-61.5 .05-6.3 .06 7.7 .24 117.3 .06 8.5 .04-2.9 .15-36.1 .04-3 .05 5.5 .2 86.4 .04 8.4 .07-11.7 .24-175.1 .06-13.3 .05 8.2 .18 97.8 .05 7.3 .05-7.8 .19-106 .04-9.9 .06 13.8 .24 210.2 .06 17.3 .05-11.9 .21-151.7 .05-10.8 .05 8.5 .18 103.9 .05 7.6 .06-15.1 .22-194.2 .06-16.1 .06 13.5 .22 171.9 .06 11.2 .04-7 .17-76.9 .05-5.5 .05 10.7 .22 135.9 .05 10.9 .06-12.3 .24-150.5 .06-10.5 .03 2.9 .16 38.9 .04 2.8 .05-4.9 .19-66.1 .05-5.1 .06 10.1 .25 114.8 .06 6.3 .04-1.9 .12-18.8 .04-1.3 .04 3.4 .19 49.6 .04 4.4 .06-9.2 .24-133.2 .07-11.2 .04 4.3 .18 59.7 .04 4.2 .05-6 .18-77.5 .05-7.1 .06 12.5 .24 186.2 .06 13.9 .05-10.7 .2-125.6 .05-10.4 .04 6.4 .19 98.6 .04 9.1 .06-13.3 .23-202.3 .06-17.3 .06 13.3 .22 176.2 .05 12.9 .05-7.7 .17-96.4 .05-8.1 .05 11.8 .23 170.9 .05 14.3 .06-14.2 .23-182.7 .06-13.5 .04 5.8 .18 74.4 .04 4.9 .05-8.6 .2-102.4 .05-8.5 .07 12.3 .24 150.9 .07 8.6 .03-3.9 .16-38.5 .04-3.1 .04 2.7 .18 41.7 .04 3.2 .06-9.4 .25-115.3 .06-7.1 .04 3.1 .15 31.5 .04 2.7 .04-2.4 .17-41.3 .04-4.3 .06 8.7 .25 147 .06 12.1 .05-7 .19-88.2 .05-6.8 .04 5.4 .18 74.1 .05 5.9 .06-13.6 .23-186.6 .06-13.4 .06 14.4 .21 157.1 .05 10.1 .05-8.6 .18-95.4 .04-7 .06 13.8 .22 184.1 .05 15.9 .06-14.8 .23-197.2 .06-13.2 .04 8.5 .18 95.8 .05 7.6 .05-10.2 .21-141.5 .05-11.5 .06 14.9 .24 186.2 .06 13.6 .04-6.2 .19-76.3 .04-5.2 .05 5.9 .18 71.8 .05 5.6 .06-11.6 .25-141.2 .06-8.5 .04 4.7 .17 44.7 .05 3.1 .03-1.7 .14-23.8 .04-2.4 .06 6.8 .25 115 .06 9.8 .05-4.1 .18-53.7 .04-4.1 .04 2.7 .16 38.1 .04 3.4 .06-9.7 .24-151.4 .06-12.6 .05 9.8 .21 120.8 .06 9.2 .04-5.5 .17-74.5 .05-6.4 .05 11.8 .23 176.2 .06 15.9 .05-13.1 .23-185.4 .05-14.6 .05 7.5 .18 100.7 .05 7.2 .05-12.5 .21-160.8 .05-14.4 .06 15.1 .24 209.1 .06 14.7 .05-8.6 .18-101.3 .04-8.7 .05 7.4 .2 112.4 .05 8.7 .06-14.5 .24-179 .06-13.9 .05 6.3 .19 82.9 .05 6.3 .04-3.1 .16-45.8 .04-4.3 .06 8.3 .25 125.1 .06 10.1 .04-4.4 .2-56.2 .05-4 .03 .9 .12 15.3 .03 1.3 .06-6.9 .25-112.7 .06-10.4 .05 5.9 .2 81.4 .05 6.5 .04-2.7 .16-40.7 .04-3.2 .06 9.9 .23 147.5 .06 13 .05-11.9 .23-154.6 .06-10.4 .04 7.2 .17 81.1 .04 6.3 .06-11.2 .21-160.4 .06-14.6 .06 15 .23 208.1 .06 13.6 .05-10.2 .18-108.6 .05-8.3 .05 10.5 .2 138.4 .05 10 .06-18.1 .24-209.1 .06-13.5 .05 10.7 .19 112.2 .05 8.1 .05-6.6 .18-84.5 .05-6.2 .05 13.3 .24 163.7 .06 11.8 .05-8.4 .21-92.4 .06-5.7 .03 2.4 .14 27.4 .04 2 .05-7.5 .24-105.2 .05-9 .06 5.6 .21 71.3 .06 4.2 .03-1.2 .11-12.9 .03-1 .06 6.5 .23 109 .06 9.7 .06-8.7 .22-112 .05-8.4 .04 3.5 .16 48.2 .04 4.6 .05-8.3 .23-140.3 .06-11.1 .06 15.3 .23 180.9 .05 12.3 .05-8.3 .18-94.2 .04-8 .05 9.8 .21 144.2 .06 10.7 .05-18 .24-214.5 .05-16.8 .05 9.8 .2 126.7 .05 8.4 .05-9.8 .19-113 .05-8.8 .06 15.5 .23 200.1 .06 14.1 .05-11.8 .21-126.6 .06-7.9 .04 5.7 .17 62.3 .04 4.6 .06-11 .23-139.6 .05-10.2 .06 9.7 .23 102.2 .05 5.7 .03-1.6 .12-16.4 .03-1.5 .06 5.2 .22 87 .06 7.4 .06-7.4 .22-88.2 .06-5.5 .03 1.5 .13 17.2 .03 1.1 .05-6.5 .22-100.3 .06-9.6 .06 10.3 .23 143 .06 9.4 .05-6 .16-63.2 .04-4.6 .05 9 .21 124 .05 11.9 .06-13.2 .24-200.9 .06-16.6 .04 8.6 .2 116.2 .05 8.5 .05-9.7 .19-123.7 .05-10.1 .06 16.4 .23 217.1 .06 15.4 .05-12.8 .21-143 .05-10.6 .05 7.4 .18 95.1 .05 6.8 .05-14.8 .24-179.7 .05-12.2 .06 13.3 .22 138.8 .05 8.9 .04-4.1 .16-47.7 .04-3.9 .05 7.7 .22 110.2 .06 8.9 .06-9.4 .24-109.6 .06-6.9 .02 .8 .12 12.9 .03 1.3 .05-3.8 .21-70.1 .06-5.7 .06 9 .23 106.3 .06 7.9 .03-2 .15-28.8 .03-2 .06 6.5 .2 90.4 .05 8.5 .06-11.8 .24-167 .06-11.4 .05 7.6 .18 84.2 .04 7.2 .05-7.4 .2-113.4 .05-8.9 .06 16.5 .24 209.5 .06 14.9 .05-12.1 .2-137.6 .05-11.2 .04 7.6 .19 109.9 .05 8.6 .06-15.8 .23-204.5 .06-15.3 .05 13.7 .21 161.6 .06 12.6 .04-5.9 .18-82.1 .05-6 .05 12 .22 150.7 .06 11.9 .06-12.9 .23-149.8 .06-8.5 .04 4 .15 39.6 .04 2.9 .05-5.8 .2-79.8 .06-6 .06 10.2 .24 113.1 .06 7.1 .03-1.2 .12-15.6 .04-1.2 .04 3.6 .2 55.3 .05 4.5 .06-9.9 .24-126.1 .06-8.7 .04 4.1 .16 47 .04 3.7 .05-5.5 .19-82.2 .05-6.8 .06 13.1 .24 179.6 .06 15.3 .05-8.1 .2-114 .05-8.6 .04 7.7 .19 100.7 .04 9.4 .06-13.6 .24-208.5 .06-16.1 .05 14.2 .22 164.6 .05 10.9 .05-8.5 .17-98.4 .05-8 .05 13.3 .23 184 .06 14 .05-15.1 .23-177.2 .06-12.9 .04 5.7 .17 74.4 .05 6.2 .05-8.1 .21-118.9 .05-10.3 .06 12 .24 151.6 .06 10.3 .04-3.1 .16-38.3 .04-3.2 .04 3.6 .19 52.3 .04 4.1 .06-9.5 .25-115.3 .06-6.9 .04 2.3 .14 24.6 .03 2.1 .05-2.8 .18-45.1 .04-3.7 .06 10.2 .24 140.2 .07 11.6 .04-5.6 .19-74.7 .05-5.1 .04 6.1 .18 74.5 .04 6.4 .06-12.6 .24-186 .06-15.9 .05 10.8 .21 143.3 .06 11.4 .04-7.1 .18-97.3 .05-7.1 .06 15.1 .22 193.7 .06 15 .06-15.7 .22-187.8 .06-12 .04 8.8 .18 95.4 .05 6.9 .05-12.3 .21-155.6 .06-11.5 .06 16.6 .23 186.4 .06 11.1 .05-7.1 .17-72.8 .04-5.9 .05 5.9 .2 86.5 .04 7.3 .07-11.6 .24-146.6 .07-9.2 .04 4.1 .16 41.8 .05 2.9 .03-2.3 .15-30.5 .04-3.1 .06 6.9 .25 115.3 .06 9.5 .05-3.1 .17-43 .04-3.2 .04 2.8 .16 39.2 .04 3 .07-10.3 .24-149.2 .06-12.4 .05 8.5 .2 105.8 .06 7.6 .04-5.8 .17-73 .04-6.1 .06 12.4 .23 182 .06 15.1 .06-13.5 .22-172.5 .05-13.1 .05 7.2 .18 96.6 .04 8.6 .05-11.5 .23-174.8 .05-14.2 .06 16.3 .23 203.1 .06 14.6 .04-8.3 .19-99.1 .04-7.4 .05 9.7 .21 125.9 .05 8.8 .06-16.2 .24-183.4 .06-12.7 .04 6.9 .19 79.4 .05 5.2 .04-4.9 .17-57.2 .05-4.2 .06 10.6 .24 132.5 .06 9.5 .05-4.6 .19-51.1 .04-2.9 .04 1.8 .13 18.2 .03 1.2 .06-7.7 .24-113.3 .06-9.8 .05 5 .19 67.6 .05 5.6 .04-2.5 .16-38.7 .04-3.3 .06 9.7 .23 150.1 .06 13 .06-11 .22-139.6 .05-9.3 .05 6.9 .17 77.3 .04 5.5 .06-12.8 .22-168.6 .05-13.8 .06 15.9 .23 198.1 .06 13 .05-9.6 .18-104.3 .05-6.8 .05 12.3 .2 147.9 .05 12.1 .06-16.2 .24-210.4 .06-15 .05 9.1 .18 106.9 .05 8.8 .05-6.3 .19-96.2 .04-8.7 .06 12.4 .25 174.2 .06 12.4 .05-8 .2-87.2 .05-6.2 .03 2.4 .16 35.2 .03 3.1 .06-8.1 .25-116.2 .06-7.9 .05 6.3 .2 62.5 .05 4.2 .02-.8 .12-13.3 .03-1.1 .06 7 .25 111.8 .06 8.9 .05-8.3 .21-96.4 .05-7.7 .04 2.8 .16 43.9 .04 4 .05-8.7 .23-142.9 .06-13.6 .05 11.8 .24 170.4 .05 12.4 .05-7.4 .18-88.2 .04-6.5 .05 11.4 .21 150.9 .05 12.6 .06-16.6 .24-214.2 .06-14.3 .05 10.8 .19 116.6 .04 8.7 .05-9.3 .2-123.6 .04-11 .06 14.3 .24 205.6 .06 16.5 .05-9.4 .21-120.9 .05-8.8 .04 5.5 .17 71.4 .05 6.3 .05-10.5 .24-152.6 .06-11.8 .06 8.9 .22 98.5 .05 5.4 .03-2 .13-20.8 .04-1.3 .05 6.8 .23 94.8 .06 8.1 .05-6.4 .22-80 .06-5.1 .03 1.1 .12 14.4 .02 1.1 .06-6.7 .23-105.5 .06-8.6 .06 10.7 .23 127.6 .05 9.2 .04-4.3 .16-55.4 .04-4.9 .06 8.4 .21 131.8 .06 11.8 .06-14.4 .23-193.8 .06-13.5 .05 9.1 .18 104.2 .05 8.6 .05-8.9 .2-132 .05-12.1 .06 15 .23 218.5 .06 17.3 .05-11.1 .21-136.3 .05-8.9 .04 9.1 .19 102.1 .04 7.8 .06-14.5 .23-189 .06-15.4 .06 10.9 .22 135.6 .05 8.1 .04-5.2 .16-53.9 .05-3.5 .05 10.2 .23 124.4 .05 8.5 .06-10.5 .23-106.2 .06-5.9 .03 1.1 .11 13.8 .03 1.3 .06-4.4 .22-77.6 .05-6.5 .06 8.5 .23 98.2 .06 6.2 .03-1.9 .13-21.8 .03-1.9 .06 5.6 .21 95.6 .06 9.3 .06-10.9 .23-155.3 .06-12.2 .05 5.8 .18 75 .04 5.5 .05-8.8 .2-117.3 .05-10.4 .06 14.6 .24 206.6 .05 16.5 .05-10 .2-128.4 .05-9.2 .05 9.2 .19 115 .05 9.3 .05-15.4 .24-210 .05-17.9 .06 11.5 .21 155.5 .06 11.2 .04-7 .18-86.9 .04-6.3 .06 12.9 .23 165.1 .05 12.5 .06-12.9 .23-146.2 .06-8.3 .04 4.2 .15 42.4 .04 3.4 .05-6.7 .22-94.5 .05-6.7 .06 11 .24 112.1 .06 5.8 .03-1.3 .12-13.3 .02-1.1 .05 3.6 .21 61.7 .05 5 .06-9.6 .24-116.8 .06-8.6 .03 2.8 .15 37 .04 3.6 .05-4.8 .2-85.5 .05-8.8 .06 11 .24 175.8 .06 14.2 .05-7.7 .19-99.2 .05-8.4 .05 7.1 .19 107.4 .05 8.1 .06-16.1 .23-207.3 .06-17.5 .05 11.1 .21 153.1 .05 12.2 .05-7.5 .18-103.3 .05-8.5 .05 13.8 .23 193 .06 16.9 .05-12.5 .23-173 .05-12.4 .05 6.1 .17 76.7 .04 6.2 .06-9.6 .21-134 .06-11.5 .06 12.3 .24 152.6 .06 9 .04-3.7 .15-38 .04-3.1 .04 4.4 .2 64.5 .05 5.1 .06-9.8 .25-115.1 .06-6.6 .03 1.9 .13 19.4 .03 1.6 .05-3 .18-48.8 .05-4.6 .06 9.4 .25 135.8 .06 9.4 .04-5.5 .18-59.9 .04-4.7 .04 5.2 .19 76.9 .04 7.6 .06-11.6 .25-186.3 .06-14.9 .05 10.7 .2 129.2 .05 9.2 .05-8 .18-98.4 .05-7.1 .05 15.3 .23 197.1 .06 16.4 .05-13.1 .22-172.9 .06-13.3 .04 7 .19 92.9 .04 6.8 .06-12.2 .22-150.7 .06-10.4 .05 14.5 .23 158.1 .06 10.9 .05-5.5 .18-64.8 .05-4.2 .05 6.4 .2 73.7 .05 5.6 .06-9.2 .25-105.3 .07-6.4 .04 2.3 .18 24 .04 1.4 .03-.6 .13-7.4 .03-.6 .07 3.4 .27 44.4 .06 2.2 .02-.2 .08-1.7 .02-.2 .05 1.1 .19 18.2 .05 1.8 .06-4.6 .26-76.6 .06-6.5 .05 3.9 .2 48.9 .05 4.3 .04-3.5 .2-52.9 .05-4.2 .06 8.5 .23 113.8 .06 8.1 .06-8.9 .21-99.8 .06-7.3 .04 5.6 .19 71.5 .05 6 .05-8.3 .23-118.6 .06-9 .05 10.3 .23 123.5 .06 9.3 .05-5.6 .19-72.5 .05-5.2 .05 7.2 .21 88.5 .05 6.9 .06-9.1 .24-111.5 .06-8.3 .05 4.3 .2 53.2 .05 3.6 .04-3.1 .19-36.3 .04-2.7 .07 5.9 .26 67.7 .06 4.2 .13-9 .5-48 .12-9.5 .04 1 .15 10.8 .04 .8 .04-1.4 .17-20.5 .05-2 .06 5.1 .25 85.8 .07 7 .05-5.9 .21-70 .05-5.6 .05 4 .19 55.2 .04 4.1 .06-8.4 .23-110.5 .05-9.3 .06 8.8 .23 116.7 .05 8.8 .05-5.7 .19-73.8 .05-6.7 .05 7 .22 107.2 .06 7.8 .06-11.4 .23-128.5 .05-8.9 .05 6.6 .2 74.8 .05 4.7 .05-6.3 .2-70.6 .05-4.9 .06 9 .24 103 .06 7.7 .05-4.6 .22-54.9 .05-3.2 .04 1.7 .16 19.2 .04 1.4 .06-4.1 .25-50.2 .07-3.4 .12 6.6 .47 56.2 .12 12.8 .05-2.2 .2-30.7 .05-2.4 .05 1.7 .16 24.7 .04 2.3 .06-5.4 .25-88.8 .06-7.4 .05 7.2 .22 90.5 .06 7.5 .05-4.2 .18-60.7 .05-4.9 .06 7.7 .22 104.9 .05 8.3 .06-10.4 .23-128.4 .06-9 .05 6.9 .19 79.9 .05 6.3 .05-6.7 .21-91.4 .05-8.2 .06 9.1 .24 128.4 .05 9.8 .06-6.7 .21-79.7 .05-4.9 .05 4.9 .18 53.4 .04 4.6 .06-6.6 .25-90.9 .06-6.2 .06 5.9 .23 56.6 .06 2.7 .03-.8 .12-6.6 .03-.5 .06 2.4 .24 31.2 .06 2 .12-6.4 .5-58.7 .12-16.3 .06 4 .22 53 .05 4.2 .04-2.4 .18-32.2 .04-2.5 .06 5.9 .22 86.6 .06 7.7 .06-8 .23-109.1 .06-8.6 .05 5.5 .19 69.8 .05 4.8 .05-7.9 .21-95.7 .05-7.2 .06 10.9 .23 133.5 .06 10.2 .05-7.1 .21-89 .05-6.4 .05 6.1 .19 77.8 .05 7 .06-8.2 .23-120.8 .06-9.2 .06 7.4 .22 84.7 .06 5.1 .04-3.8 .17-40 .04-3.5 .06 5.1 .24 71.9 .06 4.8 .07-7.1 .27-57.6 .07-1.8 .01 0 .05 .3 .01 0 .05-.6 .21-14 .05-1.4 .06 1.5 .23 17.5 .06 .9 .01 0 .05-.3 .01 0 .07 1.2 .27 38.6 .07 4.3 .05-3.6 .24-46.6 .06-3.4 .05 1.9 .17 22.3 .05 1.9 .05-2.3 .21-33.7 .05-3.1 .06 3.1 .24 42.3 .06 3 .05-1.9 .2-21.4 .05-1.6 .04 .9 .19 12.9 .05 1 .05-.8 .21-10.3 .05-.7 .02 .2 .1 2 .02 .5 0 .1 .01 .1M1979.9 212"/><use href="#w46"/></g>
<path d="M198 378.0v6.9M554 378.0v6.9M911 378.0v6.9M1267 378.0v6.9M1624 378.0v6.9M1980 378.0v6.9M109.0 378h-6.9M109.0 295h-6.9M109.0 212h-6.9M109.0 129h-6.9M109.0 46h-6.9" stroke="#000" stroke-width="1.67" fill="none"/>
<rect x="109.0" y="46.0" width="1960.0" height="332.0" fill="none" stroke="#000" stroke-width="1.67"/>
<text x="198" y="409.9" font-size="20.83" text-anchor="middle">0</text>
<text x="554" y="409.9" font-size="20.83" text-anchor="middle">1</text>
<text x="911" y="409.9" font-size="20.83" text-anchor="middle">2</text>
<text x="1267" y="409.9" font-size="20.83" text-anchor="middle">3</text>
<text x="1624" y="409.9" font-size="20.83" text-anchor="middle">4</text>
<text x="1980" y="409.9" font-size="20.83" text-anchor="middle">5</text>
<text x="93.5" y="387.0" font-size="20.83" text-anchor="end">−1.0</text>
<text x="93.5" y="304.0" font-size="20.83" text-anchor="end">−0.5</text>
<text x="93.5" y="221.0" font-size="20.83" text-anchor="end">0.0</text>
<text x="93.5" y="138.0" font-size="20.83" text-anchor="end">0.5</text>
<text x="93.5" y="55.0" font-size="20.83" text-anchor="end">1.0</text>
<text x="1089.0" y="33.8" font-size="25" text-anchor="middle">Rule 110 - Emergent Structure (Pentatonic Minor)</text>
<text transform="translate(30.3 213.8) rotate(-90)" font-size="20.83" text-anchor="middle">Amplitude</text>
<path d="M198 470.0V802.0M554 470.0V802.0M911 470.0V802.0M1267 470.0V802.0M1624 470.0V802.0M1980 470.0V802.0M109.0 802H2069.0M109.0 719H2069.0M109.0 636H2069.0M109.0 553H2069.0M109.0 470H2069.0" stroke="#b0b0b0" stroke-opacity="0.3" stroke-width="1.67" fill="none"/>
<g stroke="#f43f5e" stroke-width="1.04" fill="none" stroke-linejoin="round"><path d="M350.82 636h25.95M529 636h25.95M707.18 636h25.96M885.36 636h25.96M1063.55 636h25.95M1241.73 636h25.95M1419.91 636h25.95M1751.33 636h50.9M1954.46 636h25.94"/><path id="w470" d="M198.09 636l.01 0 .03-.7 .15-6.6 .04-.6 .05 1.2 .23 19.5 .06 1.5 .08-3.3 .36-25.7 .09-2.6 .06 2.1 .25 38.8 .06 3.8 .06-3.3 .22-40.7 .05-2.5 .04 1.4 .15 14.4 .04 1.1 .03-.6 .12-8.8 .03-.9 .06 2.9 .2 50.8 .05 4.7 .06-7.1 .21-97 .05-7.5 .06 9.1 .21 109.1 .05 8.7 .05-7.2 .21-88.4 .05-5.6 .05 5.3 .2 50.1 .05 2.8 .09-5.5 .36-31.6 .1-7.6 .05 4.1 .21 79.5 .06 8.6 .05-9 .22-144.2 .06-12.2 .05 13.5 .23 176.4 .05 14.5 .06-12.6 .23-153 .06-9.8 .1 21.1 .42 89.6 .1 12 .06-7.4 .24-109 .06-8.3 .07 11.5 .26 104.5 .06 4.2 .1-5.5 .39-110.7 .09-28.8 .06 12.2 .24 203.5 .06 17.8 .06-17.7 .23-225.9 .06-18.2 .06 15.9 .25 178.5 .07 9.5 .08-13.6 .34-115.1 .09-11.7 .06 6.5 .24 111 .06 8.9 .05-8 .21-90.9 .05-6.2 .04 4.9 .17 55.7 .05 4.4 .04-3.8 .17-53.9 .04-4.6 .05 5.7 .2 81.1 .04 7.1 .06-6.9 .2-93.4 .05-6.8 .05 6.3 .19 72.5 .05 5.1 .05-3.8 .17-45.2 .05-3.6 .05 2.6 .18 34.2 .04 2.5 .11-8.3 .41-33.2 .1-12.5 .05 4.9 .22 104.7 .06 11.6 .06-11 .22-180.8 .06-15.7 .06 16.2 .23 207.2 .06 14.4 .06-17.3 .25-165.5 .07-8.2 .09 12.6 .35 121.4 .09 15.6 .06-8.8 .25-137.5 .06-10.8 .06 10.7 .24 107 .06 5.7 .03-1.2 .14-12 .03-.6 .02 .2 .06 1.8 .02 .2 .06-4.2 .24-107.7 .06-11.7 .06 13.5 .23 187.2 .06 14 .05-17.3 .24-192.1 .05-13.4 .07 15.1 .27 138.5 .07 6.7 .08-5.9 .32-102.2 .08-13.4 .05 6.9 .22 109.4 .06 10.3 .05-7.1 .2-102.6 .05-7.4 .05 7.7 .19 90.3 .05 7.3 .05-7 .2-93.5 .05-6.4 .05 7.8 .19 85.3 .05 6.2 .05-4.5 .2-52.1 .05-3 .03 1.3 .13 13.9 .03 1 .04-1.7 .15-22.7 .04-2 .06 3.9 .21 55.6 .05 3.8 .05-4.6 .2-44.7 .06-2.5 .02 .2 .08 3.2 .02 .4 .04-1.3 .17-26.7 .04-2.6 .05 7.3 .22 121.5 .06 11.8 .06-13.7 .22-199.1 .06-17.8 .06 16 .23 215.4 .06 16.6 .08-17.7 .29-170.9 .07-8 .08 8.5 .3 149.8 .08 16.6 .06-11.8 .24-160.3 .06-13.2 .05 9.9 .23 115.5 .06 6.3 .03-2.7 .15-24.8 .03-1.5 .03 1.1 .12 13.1 .02 1.3 .06-4.8 .21-94.5 .06-9.6 .05 10.5 .23 152.2 .06 12.1 .06-12.6 .23-141.8 .06-7.9 .09 15.4 .33 89.4 .08 5.3 .06-3.6 .25-86.3 .06-10 .06 6.7 .21 104.7 .05 8.9 .05-8.2 .2-112.3 .05-9.5 .05 9 .2 123.5 .06 9.8 .05-10.1 .22-124 .05-8.3 .06 9.9 .24 90.4 .05 4.3 .1-5.2 .39-72.9 .1-16.6 .05 7.4 .23 103.6 .06 8.8 .05-6.4 .22-75.2 .06-3.9 .02 .6 .1 7.3 .02 .7 .04-1.3 .15-24.6 .04-2.7 .06 7.1 .22 128.9 .06 11.6 .06-15.7 .23-201.8 .06-14.7 .06 18.7 .24 202.1 .06 14 .08-17.2 .32-165.8 .08-11.5 .06 9.8 .27 170.8 .07 15.1 .06-14.8 .23-175.2 .06-11.5 .05 11.7 .21 119.1 .05 8 .04-3.3 .16-41.7 .05-3.2 .03 1.6 .14 25.4 .04 2.4 .05-4.3 .19-74.1 .05-7.3 .06 7 .22 103.2 .06 7.5 .05-7.6 .23-75.1 .05-4 .1 6.1 .4 45.8 .09 12.8 .05-4.7 .2-71.6 .05-7.2 .05 5.6 .2 93 .05 7.8 .05-8.7 .2-118.8 .05-10.9 .06 9.9 .21 147.4 .06 12.1 .05-11.8 .23-143.7 .06-10 .09 14.3 .33 114.6 .08 8.6 .07-5.9 .26-133.3 .07-14.5 .06 10.7 .23 151.2 .06 12.4 .05-8.8 .23-99.8 .06-5.1 .02 1 .11 10.1 .03 .7 .03-1.4 .14-19.8 .03-2.1 .06 6.2 .22 122.7 .06 12.6 .06-13 .24-185.8 .05-13.6 .07 17.1 .26 172.8 .06 10.2 .08-11.9 .33-152.1 .08-16.3 .06 11.1 .25 178.6 .06 14.4 .05-14.7 .23-173.9 .05-13.5 .05 10.1 .21 122.1 .06 8 .04-5.5 .18-57.6 .04-3.4 .04 3.1 .16 34.9 .04 2.9 .04-3.4 .19-48 .05-3.6 .05 3.8 .19 43.7 .05 2.6 .04-1.6 .14-16.7 .04-1.1 .03 1.1 .14 14.2 .03 1.4 .05-2.3 .19-41.9 .04-4.2 .05 3.6 .2 57.3 .04 4.4 .05-4.4 .17-54.5 .04-5.2 .05 4.6 .19 75.4 .05 5.9 .05-9.3 .2-121.4 .05-9.8 .06 12.3 .22 157.9 .05 13.1 .07-13.2 .26-153.3 .06-9 .08 10.9 .33 144.5 .08 16.4 .06-11.1 .25-183.4 .06-16.5 .06 14.6 .23 185.8 .06 13.8 .05-10.8 .23-114.2 .06-6.4 .02 .7 .12 10.7 .03 .9 .03-.9 .12-13.5 .03-1.2 .06 6 .22 107.2 .06 10.9 .06-10.6 .24-151.5 .06-12 .07 14.7 .3 129.8 .08 6.1 .07-5.1 .31-132.7 .07-16.9 .06 11.7 .23 170.4 .06 13.3 .05-13.7 .22-160.6 .05-11.6 .05 10.2 .21 115.7 .05 7.6 .05-6.4 .18-69.5 .05-4.9 .05 3.8 .19 43.1 .04 2.7 .05-2 .18-17.9 .04-.6 .01 0 .05 .5 .01 .1 .05-1.1 .19-26 .05-3.2 .05 4.4 .22 75.9 .05 6.4 .05-7.9 .21-96.7 .06-7.2 .04 6.2 .2 72.3 .05 4.8 .03-2.9 .15-34.6 .04-2.7 .05 3.7 .17 53.1 .04 4.4 .05-8.3 .21-117.7 .06-10.6 .06 12.2 .23 160.2 .06 10.3 .07-17.4 .3-149.1 .07-8.5 .07 8.3 .3 169.8 .07 18.4 .06-15.7 .24-214.7 .06-18.6 .06 15.6 .23 203.5 .06 15 .05-12 .24-119.7 .06-5.1 .03 1.1 .11 8.8 .03 .5 .03-.6 .09-5.8 .03-.4 .05 4.3 .24 85.7 .05 8.8 .06-8 .24-108.1 .06-7.3 .1 14.8 .39 81.5 .1 11.2 .06-6.3 .23-115.5 .06-12.3 .05 9.8 .22 147.8 .06 11.2 .05-11.2 .2-132.5 .06-10.6 .05 8.1 .2 104.7 .05 6.9 .05-7.6 .21-77.5 .05-4.8 .08 10.6 .34 56.1 .08 3.3 .06-3.1 .26-87.1 .06-11.2 .06 8.5 .22 140.2 .06 12.6 .05-10.8 .23-142.8 .05-11.2 .05 7.3 .21 83.9 .06 4.7 .02-1.1 .12-12.7 .03-1 .04 2.1 .16 32.9 .04 2.6 .05-7.9 .22-112.8 .06-9.7 .06 12.1 .24 146.7 .06 10.5 .09-14.7 .33-140.7 .08-12.4 .07 9 .26 184.1 .07 18.7 .06-16.9 .24-229.9 .06-16.5 .05 19 .24 201.2 .05 11.6 .06-14.3 .25-110.9 .06-3.9 .02 .7 .12 5.4 .03 .2 .01 0 .04-.4 .01-.1 .06 2 .26 64.8 .06 7.1 .05-5.5 .22-66.4 .05-4.1 .04 2.3 .16 23.2 .04 1.4 .03-1.1 .12-12.4 .03-1.3 .05 3 .2 60 .05 6 .05-6.9 .21-103.3 .05-8.1 .05 8.8 .2 108.3 .05 9.2 .05-7 .2-97.8 .05-7 .05 7.7 .2 88.3 .05 6.1 .05-7.9 .23-81.6 .06-4.5 .08 8.9 .35 84.3 .08 10.5 .06-8.5 .24-140.8 .06-14.8 .06 12.6 .23 192.7 .06 15.6 .05-15.2 .24-175.7 .05-10.7 .11 31.3 .43 89.2 .11 12 .06-6 .24-112.4 .06-9.8 .07 11.8 .25 127.8 .06 7.2 .1-11.9 .36-122.2 .09-18.3 .06 10.8 .25 184.8 .06 17.7 .06-16.1 .23-219.5 .05-16.7 .06 16.2 .23 180.6 .06 10.6 .07-14 .27-94 .07-2 .08 1 .35 51.2 .08 10.1 .05-4.4 .2-54.1 .04-3.8 .05 4.1 .17 49.2 .04 4.5 .05-4.3 .19-67.1 .05-6 .05 6.3 .19 88.5 .05 7.3 .05-6.4 .2-84.4 .05-7.1 .04 4.4 .18 63.3 .05 4.8 .04-4.7 .18-58.3 .05-4.1 .05 6.8 .2 78.2 .05 5.6 .05-8.2 .24-85.4 .05-5.2 .1 8 .37 92.6 .09 15.4 .06-10 .24-157 .06-14.8 .06 14.8 .23 195.7 .06 12.9 .06-17.1 .25-154.8 .06-7.6 .1 12.2 .39 118.8 .1 22.1 .06-11 .24-169.5 .06-13 .06 15.4 .24 163.3 .06 9.5 .09-22.8 .4-102.5 .09-9.9 .07 6.7 .24 121 .06 11.7 .06-10.4 .22-137.3 .06-9.6 .05 9 .22 91.5 .05 4.9 .04-2.6 .15-23.1 .04-1.6 .03 .5 .11 8.3 .03 .6 .05-3.1 .19-45.6 .05-3.6 .05 5.3 .19 65.6 .05 5.6 .05-4.6 .18-63.6 .05-4.9 .05 5.3 .19 64.9 .04 4.4 .05-6.3 .2-71.4 .05-5.7 .05 4.6 .2 58.3 .05 3.9 .03-.9 .13-12.5 .04-1 .03 .6 .11 10 .03 1 .06-4 .21-76.6 .06-7 .05 10 .22 133.2 .06 11.5 .06-10.9 .24-135.8 .05-8.9 .1 16.6 .4 102.9 .09 16.1 .07-8.1 .24-153.5 .07-13.1 .06 15.7 .23 178.9 .06 11.3 .07-18.6 .3-131.5 .07-3.2 .08 3 .35 122.9 .09 19.9 .05-12.5 .23-164.7 .06-13.9 .06 11.9 .24 142.3 .06 8.2 .1-19.4 .42-79.1 .1-14.3 .06 6.2 .22 102.3 .06 9 .05-8 .21-103.8 .05-8.5 .05 5.2 .2 68.2 .05 4.9 .04-2.9 .16-35.5 .05-2.2 .04 2.7 .16 31 .04 2.5 .04-2.6 .17-35.5 .05-3.1 .04 2.2 .17 34.7 .04 3 .04-3.5 .18-50.8 .04-4.7 .06 5.7 .2 87.6 .05 7.2 .06-8.4 .21-104.9 .05-8.1 .11 21 .41 69.5 .11 5.9 .06-5.2 .23-105.6 .06-11.6 .06 10.8 .23 161.2 .06 13.8 .06-12.7 .25-147 .06-8.5 .1 13.4 .39 117.1 .09 18.4 .06-11.3 .25-166.1 .06-13.1 .06 15.8 .23 174.3 .06 10.7 .1-25.1 .37-111.5 .09-3.8 .07 4.6 .26 117.2 .07 13.7 .05-10.5 .24-147.9 .05-10.6 .06 10.7 .22 110 .06 6.6 .04-3.8 .18-34 .05-1.7 .02 .1 .06 1.5 .02 .1 .05-2 .2-40.5 .05-3.9 .05 5.4 .2 74.8 .05 6.3 .05-5.5 .2-72.4 .04-5.7 .05 4.6 .18 61.3 .05 5.1 .05-4.4 .18-61.5 .05-5.2 .05 4.2 .2 56 .05 3.7 .04-2.2 .16-22.8 .03-1.4 .03 .8 .12 10.4 .02 1.1 .05-2.8 .2-58.8 .05-6.1 .06 8 .22 119.3 .05 9.6 .06-11.6 .23-133.2 .06-7.9 .1 21.6 .39 95 .1 9.1 .06-7.4 .25-135.3 .06-12.7 .06 14.3 .24 178.2 .06 11.8 .06-16 .26-143.3 .06-7.3 .09 8.4 .38 118.2 .09 22.7 .07-10.4 .24-167.8 .06-12.9 .06 14.5 .23 155.7 .06 10.4 .1-22.8 .41-90.3 .1-9 .06 6.1 .24 104.1 .06 8.7 .05-9.9 .22-116.6 .05-9 .05 7 .2 81.6 .06 5 .04-3.2 .16-33.7 .04-2.4 .03 1.6 .15 21.6 .04 1.9 .04-2.5 .18-34.8 .04-2.7 .05 3.2 .18 37.9 .04 2.5 .04-3.4 .18-40.4 .04-3.6 .05 4.1 .2 61.3 .05 5.1 .05-6.4 .23-79 .06-4.8 .07 10.2 .32 71 .08 3 .07-3.5 .3-86 .08-10.8 .06 8.2 .26 120 .07 10.2 .07-10.3 .28-131.1 .07-9.3 .08 9.9 .28 135 .07 11.3 .07-10.7 .29-142.3 .07-10.5 .07 11.4 .28 141.4 .07 11.5 .07-10.2 .29-139.2 .07-10.5 .07 10.4 .28 129.5 .07 10.5 .07-8.8 .29-118.7 .07-8.6 .07 8.6 .28 101.5 .07 7.4 .07-6.9 .28-82.7 .07-5.7 .07 5.4 .27 61.1 .07 4 .06-3.5 .26-38.7 .07-2.7 .05 1.6 .23 20 .06 1.6 .05-1 .2-14 .05-1.3 .07 1.5 .24 25.5 .06 2.4 .07-3 .26-46.5 .07-3.9 .07 5 .28 68.1 .06 5.9 .07-6.2 .28-89.3 .07-7.5 .07 7.6 .28 107.1 .07 9.4 .08-8.5 .28-123.2 .07-9.7 .07 10.3 .28 132.6 .07 11.3 .07-10 .29-141 .07-11 .07 11.3 .29 143.2 .07 10.1 .07-11.8 .28-139.4 .07-10.8 .07 10.5 .29 134.2 .07 9.5 .07-10.4 .28-121.8 .07-9.2 .07 8.4 .28 107.2 .07 8.5 .07-6.7 .28-89.3 .07-7 .07 5.5 .28 68.9 .07 4.6 .07-4.2 .26-45.9 .07-3.3 .06 2.1 .24 25.5 .06 1.8 .05-1.1 .2-14 .06-1.2 .05 1.4 .23 20 .06 1.8 .06-2.5 .27-39.2 .06-3.2 .07 4.5 .27 61.2 .07 4.8 .07-6.2 .28-81.7 .07-7.4 .07 6.9 .28 102.6 .07 8 .07-9.3 .28-117.3 .07-9.5 .08 9.8 .28 131 .07 9.6 .07-11.3 .28-137.6 .07-11 .07 10.7 .29 143 .07 10.6 .07-11.4 .28-140.5 .07-11.5 .07 10 .29 137 .07 10.3 .07-10.1 .28-125.9 .07-10.2 .07 8.6 .29 113.7 .07 8.1 .07-8.3 .28-95.5 .07-6.7 .07 6.7 .28 75.8 .07 4.8 .07-5.2 .26-53.3 .07-3.5 .07 3 .25 31.8 .06 2 .05-1.4 .21-15.9 .06-1.3 .05 1.1 .22 16.2 .05 1.3 .06-2.1 .26-31.9 .06-2.8 .07 3.7 .27 53.4 .06 4.9 .07-5.1 .28-75.9 .07-6.3 .07 7.1 .28 95.5 .07 7.9 .07-8.3 .28-111.6 .07-9.3 .08 8.7 .28 121 .07 9.8 .07-9.4 .29-123.3 .07-8.8 .07 10.1 .28 119.3 .07 8.6 .07-9.2 .27-111.6 .07-9.1 .07 7.4 .28 102.8 .07 8.6 .06-6.8 .28-93.3 .07-6.8 .06 6.9 .27 83 .06 6.7 .07-5.7 .26-78.2 .07-6.6 .07 5.7 .27 77.1 .06 6.1 .07-5.9 .27-76.9 .07-6.2 .07 5.7 .26 76.9 .07 6.4 .07-5.5 .27-76.9 .07-6.6 .06 5.6 .28 77.8 .07 5.6 .07-6.6 .26-76.9 .07-5.5 .07 6.5 .27 76.9 .07 5.6 .06-6.3 .27-76.9 .07-5.8 .07 6.1 .27 77 .06 5.9 .07-6 .27-76.9 .07-6.1 .07 5.8 .27 76.9 .06 6.3 .07-5.7 .27-76.9 .07-6.4 .06 5.5 .27 76.9 .07 6.6 .07-5.6 .27-77.8 .07-5.6 .07 6.6 .27 76.9 .07 5.5 .06-6.4 .27-76.9 .07-5.7 .07 6.3 .27 76.9 .06 5.8 .07-6.1 .27-76.9 .07-6 .07 5.9 .27 77 .06 6.1 .07-5.8 .27-76.9 .07-6.3 .06 5.6 .27 76.9 .07 6.5 .07-5.5 .27-76.9 .06-6.6 .07 5.6 .28 77.8 .07 5.6 .06-6.6 .27-76.9 .07-5.5 .07 6.4 .27 76.9 .07 5.7 .06-6.2 .27-76.9 .07-5.9 .07 6.1 .27 76.9 .06 6 .07-5.9 .27-76.9 .07-6.2 .06 5.8 .27 76.9 .07 6.3 .07-5.6 .27-76.9 .07-6.5 .06 5.5 .27 76.8 .07 6.7 .07-5.5 .27-77.9 .07-5.6 .07 6.5 .27 76.9 .07 5.6 .06-6.4 .27-76.9 .07-5.7 .07 6.2 .27 76.9 .06 5.9 .04-1.4 .13-29.4 .03-10.9 0-.5 0-1.8 .01-.5 0-.5 0-1.8 0-.5 .04-10.9 .13-29.4 .03-1.4 .06 5.9 .27 76.9 .07 6.2 .07-5.7 .27-76.9 .07-6.4 .06 5.6 .27 76.9 .07 6.5 .07-5.6 .27-77.9 .07-5.5 .07 6.7 .27 76.8 .07 5.5 .06-6.5 .27-76.9 .07-5.6 .07 6.3 .27 76.9 .06 5.8 .07-6.2 .27-76.9 .07-5.9 .07 6 .26 76.9 .07 6.1 .07-5.9 .27-76.9 .07-6.2 .06 5.7 .27 76.9 .07 6.4 .07-5.5 .27-76.9 .06-6.6 .07 5.6 .28 77.8 .07 5.6 .06-6.6 .27-76.9 .07-5.5 .07 6.5 .27 76.9 .06 5.6 .07-6.3 .27-76.9 .07-5.8 .07 6.1 .27 77 .06 5.9 .07-6 .26-72.6 .07-5.8 .07 4.7 .27 64.8 .06 5.3 .07-4.1 .27-56.1 .07-4.5 .06 3.5 .27 47.3 .07 3.8 .07-3 .27-38.6 .06-2.9 .07 2.4 .27 29.9 .07 2.1 .06-1.9 .27-21 .06-1.5 .07 1.2 .26 12.5 .06 .7 .06-.4 .21-4.6 .05-.2 .01 0 .05 .3 .01 .1 .01 .1M376.27 636l.01 0 .06-1 .22-10.3 .06-.8 .08 1.9 .31 24.6 .08 1.9 .07-1 .26-12.3 .07-.7 .03 .1 .12 1.4 .03 .1 .08-1.2 .31-24.1 .08-2.4 .08 2.5 .31 35.3 .08 2.7 .05-1.3 .23-16 .06-1.3 .06 1.5 .25 24 .07 2.2 .08-4.1 .34-61.7 .09-5.3 .12 10.3 .52 67.1 .13 3.8 .1-3.2 .39-69.7 .1-7.1 .08 4.7 .3 62.1 .07 4.8 .07-3.4 .25-44.9 .06-3.8 .07 4.4 .28 65.5 .07 5.8 .07-7.1 .3-105.7 .08-9.2 .08 9.2 .3 126 .08 9.6 .08-10.4 .3-126 .08-8.9 .08 10.1 .32 111.2 .08 6.7 .16-24.2 .66-68 .17-17 .09 7.9 .34 128.9 .09 12.5 .09-11.6 .35-161.8 .09-12.6 .09 10.9 .38 115.5 .1 6.1 .1-5.9 .44-43.1 .1-2.4 .07 1.1 .26 16.8 .07 1.9 .08-3 .32-60 .08-6.4 .09 8.2 .35 130.5 .09 10.8 .09-11.8 .35-138.6 .08-8.7 .08 5.8 .29 52.2 .08 2.2 .02-.1 .09-1.8 .02-.1 .08 3.3 .33 78.3 .08 8.7 .09-10.3 .34-151.8 .09-12.2 .08 10.1 .32 115.6 .08 7.2 .06-2.7 .21-30.5 .06-2 .05 2.9 .23 37.1 .06 3.5 .08-7.2 .33-119.7 .08-9.8 .08 11.9 .34 143.8 .08 10.5 .08-9.4 .34-103.9 .08-6.1 .09 6.3 .34 54.1 .09 2.7 .1-3.6 .43-46.2 .11-4.9 .08 4.9 .35 78 .09 7.5 .09-7 .34-98.6 .08-7.4 .08 6.6 .32 72.2 .08 4.8 .06-1.9 .24-21.8 .06-1.4 .04 .5 .15 5.4 .04 .4 .06-2.1 .27-35.4 .07-3.7 .08 5 .3 81.7 .07 7 .08-10.1 .31-136.3 .08-11.4 .08 13.6 .33 178 .09 13.4 .08-13.7 .33-154.4 .08-10.5 .07 5.9 .28 64 .07 4.1 .04-1.1 .17-14 .05-1.2 .07 4 .3 66.5 .08 6.3 .09-8.5 .37-111.9 .09-7.2 .15 15.7 .6 89.4 .15 9.6 .1-6 .4-91 .09-6.6 .17 15.8 .65 63.4 .16 8.8 .09-3.5 .34-55.8 .08-4.3 .06 2 .22 23.4 .05 1.9 .06-2.7 .25-40.7 .06-3.5 .09 9.1 .32 140.2 .09 12.3 .08-15.9 .34-212.3 .09-17.9 .08 15.1 .35 190.2 .08 12.8 .09-9.3 .32-86.8 .09-4 .03 .3 .11 3.5 .03 .2 .06-1.4 .24-23.3 .06-2.4 .08 4.6 .32 76.2 .08 6.3 .07-6.8 .3-84.8 .08-6.5 .08 6.8 .3 83.4 .08 5.8 .08-6.8 .32-74.3 .08-5 .12 7.4 .46 46.5 .12 1.1 .09-.9 .38-25.1 .09-3.2 .07 1.6 .26 24.8 .06 2.4 .08-3.2 .29-53 .07-5.3 .08 5.9 .32 94.3 .08 8.2 .07-7.5 .31-97.7 .08-6.9 .06 6.2 .27 70.3 .07 4.8 .07-6.1 .27-75.2 .06-6.5 .08 8 .32 111.9 .08 8.2 .08-9.4 .34-94.8 .08-4.9 .04 1 .16 10 .04 .7 .05-1.2 .2-17.7 .05-1.9 .08 6.7 .35 139.5 .09 14.8 .09-14.3 .36-210.1 .09-16.4 .1 16.1 .37 174.5 .1 10.1 .12-12.7 .48-86.1 .12-3.8 .08 1.8 .32 25.5 .07 2.3 .06-1.4 .25-21.6 .06-2.1 .08 4.3 .33 72.8 .08 6.5 .09-8.2 .34-104.3 .09-7.6 .08 6.3 .34 57.5 .09 2 .01 0 .05-.2 .01-.1 .08 1.5 .3 43.1 .08 5.1 .08-7.4 .34-119.9 .08-11 .08 9.2 .32 124.2 .08 9.1 .07-6.7 .27-79.5 .07-5.8 .06 4.9 .26 62.1 .06 5.3 .07-6 .29-89.7 .08-6.9 .07 8.7 .3 109.1 .08 9 .08-8.1 .31-106.7 .08-8.2 .08 7.9 .34 92.1 .09 5.9 .12-9.4 .5-79.5 .12-6.8 .1 5.2 .39 99.7 .1 9.9 .09-8.1 .37-101.2 .1-6.1 .15 12.8 .6 59.8 .15 9.2 .08-3 .31-54.7 .08-5.1 .07 4 .27 57.7 .06 4.9 .08-7.2 .3-106.1 .07-10 .08 12.2 .34 182.4 .08 14.7 .09-16.2 .34-192.2 .09-12.5 .08 11.4 .34 99.3 .09 4 .02-.1 .09-2.1 .02-.2 .07 1.9 .28 42.2 .07 4 .09-8.9 .35-126.7 .09-10.6 .09 9.9 .37 107.5 .09 5.7 .05-1.3 .23-12.4 .05-.6 .02 0 .07 .6 .02 .1 .1-2.4 .39-70.7 .1-7.2 .1 7.6 .39 78.8 .1 4 .13-5.1 .52-51.5 .13-7.1 .07 2.8 .3 44.8 .07 4.1 .07-4.1 .28-60.9 .07-5.8 .08 7.3 .31 114 .08 10.2 .08-11.5 .33-157.4 .09-11.5 .07 12.5 .32 141.2 .08 10.3 .08-7.2 .3-82.4 .07-4.9 .06 2.3 .21 24.1 .06 1.7 .05-1.2 .2-17.6 .05-1.5 .07 3.6 .28 57.9 .07 5.5 .08-7.3 .31-111.9 .08-10.1 .08 10.9 .33 151.7 .09 12 .09-12.6 .36-141.7 .09-8 .14 16.4 .54 81.4 .14 3.8 .19-9.1 .75-49.7 .19-11.6 .09 5.1 .36 96.9 .09 9.1 .08-9.1 .34-114.3 .09-7.6 .06 5.3 .27 56.3 .07 3.9 .05-2.1 .21-27 .06-2.4 .07 5.1 .3 79.5 .08 6.8 .08-8.8 .33-110 .08-7.2 .07 4.8 .25 49.6 .07 3 .04-1.7 .19-20.6 .04-1.8 .08 6 .31 108.5 .08 11 .09-13.4 .35-202.2 .09-16 .09 17.3 .36 196.7 .09 12.4 .11-15.2 .42-116.9 .11-4.4 .11 3.5 .45 57.5 .11 6.7 .07-2.9 .3-43.1 .08-3.5 .07 3.4 .29 45.4 .08 3.7 .08-3.8 .31-47.1 .08-2.8 .06 1.6 .24 14.7 .06 .8 .03-.1 .11-2.1 .03-.2 .08 1.9 .32 45.9 .08 4.7 .07-6 .32-86.8 .07-7.3 .08 7.4 .29 96.3 .08 7.4 .07-7.9 .29-100.4 .07-7.3 .08 9.2 .3 110.3 .07 8.1 .07-8.5 .3-101.5 .07-6.8 .07 6.2 .26 72.1 .07 5.6 .07-5.6 .28-76.3 .07-5.9 .08 8.4 .32 103.9 .08 7.8 .13-15.1 .51-90.9 .13-1.6 .12 2.2 .45 96.5 .12 12.6 .09-8.7 .37-113.8 .1-7.9 .11 10.8 .47 85.6 .11 4.2 .1-4 .4-77.1 .1-8.2 .08 6.3 .31 90.8 .08 8.3 .07-7.3 .31-107.6 .07-9.6 .08 9.3 .31 132.3 .08 9.8 .08-11.6 .31-138 .08-10.7 .08 8.5 .31 102.7 .08 6.9 .06-2.8 .23-33 .06-2.1 .05 1.4 .18 16.7 .05 1.6 .07-4.2 .31-77.1 .08-7.1 .08 9.1 .33 122.2 .08 9.3 .08-9.4 .33-104 .08-6.1 .07 4.4 .27 40.7 .07 2.4 .04-.8 .18-10.4 .04-1 .08 2.6 .3 42 .08 3.7 .09-5.9 .39-70.7 .1-4.4 .12 5.5 .47 82.7 .12 10.4 .09-6.1 .35-110.4 .09-10.7 .08 8.2 .33 116.5 .08 8.9 .07-8 .3-96.2 .07-7 .07 6.7 .29 79.8 .07 5.6 .07-6.1 .29-70 .07-4.9 .07 3.9 .26 44.9 .07 2.9 .05-1.8 .19-21.4 .05-1.8 .07 3.4 .27 55.4 .07 4.8 .08-9.1 .32-130 .08-10.7 .08 14.1 .33 178.5 .09 13.1 .08-14.9 .35-164.2 .08-10.4 .1 12.6 .41 97.6 .1 3.1 .13-2.8 .54-51.1 .14-7.9 .08 2.7 .33 29.9 .08 1.5 .02-.1 .1-1.1 .03-.1 .07 1 .28 22.3 .07 2.4 .08-4.1 .32-64.7 .08-6.2 .08 4.9 .31 69 .08 5 .06-3.5 .26-39.9 .07-2.6 .06 2.6 .23 30.7 .05 2.4 .07-4.4 .28-60.2 .08-4.8 .07 6.4 .29 84.8 .07 7.4 .07-6.2 .29-87.1 .07-6.7 .07 7.4 .28 93.3 .07 7.1 .08-10 .3-125.7 .07-9.5 .08 12.6 .33 153.5 .08 12 .09-12.2 .36-140 .09-8.3 .13 13.5 .54 101 .13 10 .09-6 .39-110 .09-10.2 .09 8.8 .36 99.7 .09 5.8 .13-10.5 .51-52.1 .13-2.4 .09 1.6 .35 41.2 .09 4.7 .07-3.9 .3-58.3 .07-4.9 .08 6.3 .29 84.4 .08 6.7 .07-8.4 .3-111 .08-8.9 .07 9.6 .31 123.1 .07 9.7 .08-9.4 .3-118 .07-8.4 .08 8.3 .29 96.9 .07 7.4 .07-5.6 .29-69.6 .07-4.4 .06 4 .25 42.5 .07 3 .06-2.7 .24-33.4 .06-2.5 .07 3.2 .26 43.5 .07 3.7 .07-4.3 .29-60.2 .07-4.7 .08 5.5 .3 67.9 .08 5.1 .08-5.3 .31-62.7 .08-4.2 .1 5.3 .38 47.2 .1 2.4 .1-2.3 .43-47.3 .11-6.5 .08 4.1 .33 72.5 .08 6.6 .07-6.8 .31-93.4 .08-8.3 .08 7.2 .3 103.7 .08 8 .07-8 .3-97 .07-7.1 .08 6.5 .28 79.2 .07 5.6 .07-4.7 .26-57.2 .07-4.5 .06 3.3 .25 46.3 .07 3.7 .06-3.9 .27-54.1 .06-4.3 .07 5.5 .28 74 .07 6.3 .08-6.6 .29-93.5 .08-7.6 .07 7.7 .31 101.1 .07 8.1 .08-7.5 .31-95 .08-6.6 .08 7 .32 74.4 .08 4.5 .11-6.2 .4-49.7 .1-2.4 .1 2.1 .41 47.3 .1 5.5 .08-4.2 .31-62.6 .08-5.7 .08 5 .31 70.6 .07 5.5 .08-5.2 .29-64 .07-4.8 .07 3.9 .27 48.1 .06 3.8 .07-2.6 .24-35.6 .07-2.9 .06 3.1 .25 40.8 .07 3.2 .06-4.7 .28-64.1 .07-5.5 .07 6.5 .29 92.7 .07 8.2 .08-8.1 .3-115.2 .08-9.1 .07 9.7 .3 122.5 .08 9.4 .08-9.4 .3-115.1 .08-7.7 .08 8.4 .3 90.9 .07 6.5 .08-5.4 .31-59 .08-3.2 .15 8.8 .59 24.4 .15 5.1 .08-1.9 .3-34.3 .08-3.3 .08 2.9 .3 42.2 .07 3.6 .08-2.6 .29-34.3 .07-2.5 .06 1.2 .23 15 .06 1.1 .04-.5 .19-7.6 .04-.7 .07 1.7 .26 28.4 .07 2.8 .07-3.9 .29-62.9 .07-6.1 .08 5.8 .31 90.7 .07 7.7 .08-7.6 .3-101.6 .08-8.1 .07 7.7 .3 97.9 .07 7.6 .07-6.6 .3-83.2 .07-5.8 .07 5.3 .27 62.6 .07 4.6 .07-3.8 .26-46.6 .07-3.3 .06 3.2 .25 39.5 .07 3.3 .06-2.9 .27-40.9 .06-3.5 .07 3.2 .27 42.9 .07 3.4 .06-3.3 .27-43 .07-3.5 .07 3.2 .27 43 .06 3.6 .07-3.1 .27-43 .07-3.7 .07 3.1 .27 43.6 .07 3.1 .07-3.7 .27-43 .06-3.1 .07 3.6 .27 43.1 .07 3.1 .07-3.5 .26-43.1 .07-3.2 .07 3.4 .27 43.1 .07 3.3 .06-3.3 .27-43.1 .07-3.4 .07 3.3 .27 43 .06 3.5 .07-3.2 .27-43 .07-3.6 .07 3.1 .27 43 .06 3.7 .07-3.1 .28-43.6 .06-3.1 .07 3.7 .27 43 .07 3.1 .07-3.6 .27-43 .06-3.2 .07 3.5 .27 43 .07 3.3 .06-3.4 .27-43.1 .07-3.3 .07 3.3 .27 43.1 .06 3.4 .07-3.2 .27-43.1 .07-3.5 .07 3.1 .27 43.1 .06 3.6 .07-3.1 .27-43 .07-3.7 .07 3.1 .27 43.6 .07 3.1 .07-3.7 .27-43 .06-3.1 .07 3.6 .27 43 .07 3.2 .06-3.5 .27-43 .07-3.3 .07 3.4 .27 43 .07 3.4 .06-3.3 .27-43.1 .07-3.4 .07 3.2 .27 43.1 .06 3.5 .07-3.1 .27-43.1 .07-3.6 .06 3 .27 43.1 .07 3.7 .07-3.1 .27-43.5 .07-3.2 .07 3.6 .27 43.1 .07 3.1 .06-3.6 .27-43 .07-3.2 .07 3.5 .27 43 .07 3.3 .03-.8 .13-16.4 .03-6.1 0-.3 .01-1 0-.3 0-.3 0-1 .01-.3 .03-6.1 .13-16.4 .03-.8 .07 3.3 .27 43 .06 3.5 .07-3.2 .27-43 .07-3.6 .07 3.1 .26 43.1 .07 3.6 .07-3.2 .28-43.5 .06-3.1 .07 3.7 .27 43.1 .07 3 .07-3.6 .26-43.1 .07-3.1 .07 3.5 .27 43.1 .07 3.2 .06-3.4 .27-43.1 .07-3.3 .07 3.4 .27 43 .06 3.4 .07-3.3 .27-43 .07-3.5 .07 3.2 .26 43 .07 3.6 .07-3.1 .27-43 .07-3.7 .06 3.1 .28 43.6 .07 3.1 .07-3.7 .27-43 .06-3.1 .07 3.6 .27 43.1 .07 3.1 .06-3.5 .27-43.1 .07-3.2 .07 3.4 .27 43.1 .06 3.3 .07-3.4 .26-40.6 .07-3.3 .07 2.7 .27 36.3 .06 2.9 .07-2.3 .27-31.4 .07-2.5 .07 2 .27 26.5 .06 2.1 .07-1.7 .27-21.6 .07-1.6 .06 1.3 .27 16.8 .07 1.1 .07-1 .26-11.8 .07-.8 .06 .6 .26 7 .06 .4 .06-.2 .21-2.5 .05-.2 .01 0 .05 .2 .01 0 0 .1 .01 0M554.45 636l.01 0 .09-1.3 .33-14.2 .08-1.2 .12 2.3 .47 23.5 .12 1 .02-.1 .12-.4 .03 0 .08 .4 .33 7.8 .09 .9 .1-1.2 .39-19.5 .1-1.5 .06 .6 .24 7.6 .06 .7 .1-2.5 .41-44.5 .1-4.4 .1 4.2 .4 59.2 .1 4.2 .08-2.3 .3-29.6 .08-2.5 .09 4.2 .38 62.8 .1 5.4 .11-7.5 .43-99.7 .11-7.2 .09 5.8 .37 66.4 .09 5.1 .09-4 .36-52.7 .09-3.7 .11 6.3 .43 72.4 .11 4.9 .18-11.4 .72-64.5 .18-5.3 .13 4.6 .49 100.8 .13 11.1 .12-11.7 .47-169.4 .12-13.5 .12 14.4 .48 159.5 .13 9 .09-4.5 .36-38.8 .09-1.8 .03 .3 .15 2.9 .03 .2 .13-4.2 .48-79.8 .12-6.8 .11 5.9 .44 61.3 .11 3.3 .05-.4 .2-5.8 .05-.5 .1 2 .39 30.9 .1 2.4 .08-2 .33-24.2 .09-1.8 .06 1 .25 14 .07 1.3 .11-5.6 .46-101.6 .11-9.4 .12 10.6 .46 135.3 .11 9.6 .09-5.2 .35-60.5 .09-4.3 .08 4.6 .36 59.1 .09 4.9 .13-10.5 .53-127.4 .13-7.9 .19 11.1 .75 149.8 .19 20.1 .12-10.3 .49-146.8 .13-11.2 .1 7.6 .4 84.7 .1 5.7 .09-3.4 .32-39 .09-2.8 .08 2.7 .32 34.7 .08 2.6 .09-4 .37-55.6 .09-4.8 .11 6.8 .43 93 .11 6.8 .11-8.4 .46-87.5 .11-5.1 .2 9.5 .77 40.7 .19 7.7 .1-3.1 .42-58.2 .1-5.9 .11 6.7 .43 102.7 .11 9.2 .1-7.4 .42-102.9 .1-7.9 .09 5.5 .37 71.2 .09 5.1 .11-8 .42-95.5 .1-6.7 .19 20.5 .74 122.5 .19 4.8 .15-6 .61-149.2 .15-14.8 .25 33.6 .98 108.3 .25 21.5 .11-7.3 .45-106.6 .11-8.9 .09 6.4 .39 83.4 .09 6.5 .11-8 .41-102.7 .1-8.2 .14 12.5 .54 126.6 .14 5.8 .19-7.2 .75-103.6 .18-15.2 .11 5.3 .41 67.9 .1 4.9 .08-3.5 .33-44.3 .08-3.5 .1 6.8 .41 94.6 .1 8.3 .12-9.1 .44-122.1 .12-8.7 .1 7.4 .43 75.8 .1 4.1 .07-1.6 .28-15.6 .07-1 .06 .6 .23 9.2 .06 .7 .11-3.6 .43-59.6 .11-5.4 .13 7.9 .51 86.5 .13 4.3 .21-4.6 .84-101.6 .21-27.7 .11 9.8 .45 138.2 .11 10.7 .11-9.2 .4-109.2 .1-7.7 .11 9.8 .43 109.9 .11 7.4 .2-22 .81-101.9 .2-6.6 .13 5.4 .54 93.4 .14 7.6 .07-1.8 .29-20.9 .07-1.5 .08 1.7 .28 23.7 .07 2.4 .12-7.5 .5-134 .12-11.5 .12 10.6 .47 115 .12 6.3 .05-.8 .21-10 .05-.7 .09 2.7 .35 41.5 .09 3.9 .12-8.6 .49-122.7 .12-9 .12 9.2 .5 83 .12 3.5 .17-4.1 .69-43.3 .17-9.1 .11 6.1 .46 105.4 .11 9.6 .12-12.2 .46-160.6 .12-11.7 .11 11.8 .44 127.2 .11 8.1 .09-5.1 .38-51.3 .09-3 .07 1.5 .26 15.7 .07 1.2 .08-1.9 .33-25.2 .09-2.2 .1 3.3 .4 44.5 .1 3.3 .1-3 .38-30.4 .09-1.6 .05 .3 .16 3.2 .04 .3 .1-2.3 .42-48.8 .1-5.1 .12 7.2 .46 101.6 .11 7.3 .09-4.3 .35-46.2 .08-3.1 .07 2.4 .29 30.2 .07 2.5 .12-8.5 .46-132.6 .11-10.8 .13 15.1 .51 164 .13 9.7 .19-14.1 .73-80.8 .18-6.9 .1 2.6 .4 45.5 .1 4.4 .11-6.8 .44-103.4 .1-9 .13 12.8 .48 157.9 .12 10.2 .11-8.2 .44-70.5 .11-2.9 .02 0 .09 .9 .02 0 .12-3.2 .48-83.9 .12-8.4 .13 10.5 .49 123 .13 7.9 .22-15.5 .91-52.2 .22-13.1 .09 1.9 .34 27.2 .08 2.2 .08-2.2 .33-31.4 .08-2.9 .1 4.6 .4 75.1 .1 6.4 .11-8.2 .41-110.3 .11-9 .11 10.7 .44 135.5 .11 9.9 .12-11.7 .5-117.9 .12-5.8 .19 8.9 .76 69.2 .19 11.3 .1-4.4 .42-66 .1-6.1 .11 5.7 .42 80.7 .1 6.5 .11-5.7 .42-65.1 .1-3.8 .05 .7 .2 8.2 .05 .6 .1-3.2 .38-56.7 .1-5.6 .12 11 .49 164.7 .12 13.6 .14-13.6 .53-132.7 .13-5.1 .05 .5 .18 4.2 .05 .3 .06-.5 .26-8.2 .06-.8 .25 12.8 .99 82.3 .24 25.5 .13-8.9 .49-151.4 .12-12.7 .11 10.2 .42 121.7 .11 8.6 .09-6.5 .38-74.5 .09-5.3 .11 6.9 .44 74.5 .11 4.5 .23-10.9 .91-80.2 .23-23.8 .13 8.4 .52 95 .14 4.7 .05-.4 .21-4.6 .05-.2 .04 .2 .16 2.2 .03 .2 .13-3.8 .49-95.4 .13-10.2 .11 10.2 .45 137.8 .11 10.6 .11-11.4 .44-133.1 .11-9.2 .11 7.3 .42 76 .1 4.2 .07-1.6 .28-17.2 .07-1.2 .09 2 .38 23.5 .09 1.6 .07-.6 .28-7.1 .07-.3 .03 0 .11 .8 .03 0 .13-2.9 .52-88.4 .13-10.4 .11 9.7 .47 135.7 .12 10.5 .1-6.4 .38-76.2 .1-5.3 .08 3.5 .33 42.5 .08 3.3 .1-5.2 .41-64.6 .1-4.9 .08 2.3 .32 30.1 .08 2.3 .08-2.2 .31-32.1 .08-3 .13 8 .52 114 .13 7.6 .2-15.6 .79-161.3 .2-22 .13 12.7 .51 186.6 .13 14.4 .11-10.2 .41-115.1 .1-8 .09 4.9 .35 59.6 .08 4.8 .1-6 .42-78.8 .1-5.8 .12 5.7 .44 56 .11 2.5 .05-.3 .17-2.8 .04-.2 .08 .8 .29 11.2 .07 1 .09-1.9 .37-31.3 .1-2.7 .09 3.2 .36 44 .1 3.8 .1-5.3 .41-73.3 .11-5.6 .09 5.2 .39 60.7 .09 4.2 .08-3 .31-36 .08-3.1 .1 4.1 .37 61.8 .1 5 .1-7.1 .41-93.4 .1-7.9 .11 8.4 .45 107.4 .11 7.3 .17-15 .65-116.3 .17-6.7 .15 6.8 .59 162.1 .15 17.9 .12-11.8 .48-152.8 .12-10.3 .08 4.6 .33 50.7 .09 3.5 .08-3.6 .33-45.8 .08-4 .12 7.7 .46 105.1 .11 7.1 .1-4.9 .4-47.5 .09-2.4 .05 .4 .18 5.2 .05 .4 .11-3.3 .45-56.1 .12-4.7 .1 3.3 .42 34.6 .1 1.5 .03-.1 .1-.9 .02 0 .12 2.3 .47 59.7 .12 6.4 .1-4.7 .4-62.7 .1-4.5 .07 2.4 .29 29.7 .07 2.4 .11-6.9 .42-108.7 .11-9.7 .12 14.3 .49 188.2 .12 14.2 .16-17.6 .61-140.4 .16-4.2 .15 3.5 .63 84.4 .15 12 .11-5.8 .44-86.5 .11-7.1 .1 5.3 .39 67.1 .1 4.9 .08-2.8 .31-36.3 .08-2.9 .1 3.8 .36 55.1 .09 4.4 .11-6.9 .42-88.2 .1-6.3 .1 5.5 .38 63.9 .09 4.9 .09-3.7 .36-47 .09-3.3 .11 5.7 .44 59.5 .11 3.3 .22-7.9 .85-53.9 .22-15.7 .09 3.4 .37 49.3 .09 4.3 .09-4.7 .37-68.7 .09-6.4 .11 11.1 .47 170 .12 14.2 .14-18 .53-194.6 .14-10.4 .21 14.7 .85 128.1 .22 20.5 .11-5.8 .46-70.3 .11-4.3 .06 .7 .21 8.2 .06 .8 .09-2.2 .37-35.7 .09-3.1 .09 3.3 .37 45.3 .09 3.5 .08-2.6 .33-35 .09-2.7 .1 5.8 .43 76.9 .11 6.1 .12-6.7 .49-71.3 .13-3.3 .06 .8 .26 7.4 .07 .5 .08-.7 .33-9.2 .09-.7 .22 4.2 .89 40.6 .22 2.9 .24-3.3 .97-43.1 .24-3.4 .24 3.3 .96 43.2 .24 3.3 .24-3.4 .96-43 .24-3.4 .24 3.3 .97 43.2 .24 3.3 .24-3.4 .96-43 .24-3.4 .24 3.3 .96 43.2 .24 3.3 .24-3.4 .97-43.1 .24-3.3 .24 3.4 .96 43.1 .24 3.3 .24-3.3 .96-43.2 .24-3.3 .24 3.4 .96 43 .24 3.4 .24-3.3 .97-43.2 .24-3.3 .24 3.3 .96 43.1 .24 3.4 .24-3.2 .96-43.2 .24-3.4 .24 3.3 .97 43.2 .24 3.3 .23-3 .9-36.9 .23-2.3 .22 2.1 .9 21.4 .23 1.3 .17-.6 .68-6.7 .17-.4 .02 0 .08 .1 .02 .1 .01 0M732.64 636l.06-.9 .21-9.6 .05-.7 .07 1.7 .28 22.9 .07 1.9 .06-1.4 .24-17.3 .06-1.3 .06 1.2 .23 16 .05 1.2 .07-2.5 .28-35.1 .07-3 .07 2.6 .27 34.5 .07 2.6 .05-1.3 .2-17.5 .05-1.7 .06 2.6 .26 46 .06 4.8 .08-6.2 .3-104.1 .08-9.5 .07 8.8 .29 120.9 .07 8.7 .07-8.4 .27-99.7 .07-8.2 .06 6.5 .27 91.4 .07 7.5 .07-6.4 .27-86.3 .06-6 .07 6.6 .25 78.4 .06 5.7 .07-8.5 .27-108.4 .07-9.8 .08 11.2 .3 166.9 .08 14.2 .08-13.5 .32-172.4 .08-11.4 .08 9.1 .29 89.4 .08 5 .04-1 .16-12.5 .04-.9 .06 2.6 .25 38.4 .06 3.1 .08-5.8 .29-77 .08-6.2 .05 3.2 .24 42.3 .05 3.5 .06-3.4 .23-50.1 .06-4.7 .08 9.3 .31 150.5 .07 13.8 .08-16.3 .33-226 .08-18 .08 16.1 .31 197.1 .08 14.3 .06-9 .28-106.5 .07-7.5 .06 4.6 .23 56.9 .06 4.2 .07-5.4 .26-68.9 .07-5.1 .07 5.9 .27 71.5 .06 5.2 .07-4.6 .24-57.5 .07-4.9 .06 4.8 .27 69.6 .07 5.1 .07-6.7 .27-81.5 .07-6.6 .07 5.2 .26 70.2 .07 5.1 .06-5.5 .25-68.9 .07-5.9 .07 6.8 .28 96.6 .08 7.1 .06-8 .28-94.5 .07-7.3 .06 5.1 .24 68.5 .06 5.9 .07-6.6 .26-99.4 .07-9.5 .08 12 .31 186.2 .08 15.6 .08-17.5 .33-218.1 .08-14.5 .08 14.3 .32 140.9 .08 8.1 .05-2.6 .21-27.3 .05-1.7 .05 1.3 .18 16.3 .05 1.2 .07-4.6 .3-68.2 .07-5.9 .06 3.9 .26 51.8 .07 3.7 .05-3.1 .22-38 .05-3.4 .07 6.7 .29 108.8 .08 9.7 .08-13 .31-182.3 .08-15.8 .07 13.2 .31 179.5 .08 14.1 .07-9.6 .28-122 .07-9.5 .06 6.1 .26 81.8 .06 6.4 .07-5.3 .26-73 .06-6 .07 5.1 .26 70.2 .06 5.4 .07-6.2 .26-81.6 .07-7.1 .07 7.8 .3 111.2 .07 8.5 .08-8.9 .3-103 .07-6.4 .06 4.2 .24 42.4 .06 2.6 .05-2.2 .19-25.3 .05-2.4 .07 4.7 .29 83 .08 7.7 .07-7.6 .3-106.2 .07-8.2 .06 5.4 .25 69 .06 5.1 .06-6.1 .25-81.8 .06-7.7 .08 11.1 .31 177.2 .07 15.9 .09-17.4 .33-236.8 .08-16.9 .08 17.4 .32 182.4 .08 10.2 .07-7.2 .26-64.9 .07-3.4 .04 1.5 .17 15.8 .05 1.2 .06-3.7 .27-50.2 .07-3.8 .07 4.7 .26 56.8 .07 4.6 .06-3.3 .23-44.9 .06-3.4 .07 6 .27 80.8 .07 7 .07-9.1 .3-130.3 .07-11.5 .08 9.7 .29 136.3 .08 9.8 .06-9.8 .28-114 .07-8.7 .07 8.2 .27 105 .07 8.4 .07-6.7 .27-90.4 .06-7.4 .07 4.8 .24 67.9 .07 5.4 .06-6.5 .27-89.2 .06-7.6 .08 10.8 .31 148.3 .07 11.4 .08-13.3 .33-154.6 .08-10.3 .08 7.8 .31 70.3 .08 2.5 .01-.1 .07-1.1 .02-.1 .07 2.1 .29 50.4 .08 5.2 .08-7.5 .31-106.3 .08-7.9 .06 6.5 .26 76.1 .06 6 .06-5.1 .25-70.5 .06-6.1 .07 10.1 .3 151.2 .07 13.2 .08-16.1 .32-221.8 .08-18.7 .08 15.2 .32 197.6 .08 14.1 .07-9.2 .28-103.7 .07-6.2 .06 3.6 .22 38.9 .06 2.7 .05-3.3 .24-41.1 .06-3.3 .07 3.9 .25 53.2 .07 4.2 .06-4.4 .25-58.8 .07-5.3 .07 5.5 .28 83.9 .07 6.9 .07-7.4 .29-96.6 .07-6.9 .06 6.7 .26 79.3 .06 6.6 .07-5.8 .26-83.3 .07-6.5 .07 8.7 .29 114.8 .07 9.4 .07-8.8 .29-115.9 .08-7.9 .06 6.3 .24 73 .06 6.1 .06-5.7 .26-86 .07-6.6 .07 12.2 .3 162.3 .08 14.1 .08-15.4 .34-200.2 .08-13 .09 14.4 .33 125.2 .09 5.7 .03-.5 .14-6.3 .04-.5 .04 .5 .17 9.3 .04 .9 .08-4.7 .32-87.2 .08-8.3 .07 6.1 .29 83.1 .07 6.2 .06-5.3 .24-68.7 .06-6.4 .07 7.6 .29 123.5 .07 11.5 .08-12.9 .31-188.1 .08-14.6 .07 15.1 .31 181.5 .08 12.5 .07-11.3 .28-123.6 .07-7.7 .07 7.1 .26 75.5 .06 5.1 .06-4.8 .25-54.7 .06-3.9 .06 3.8 .24 46.7 .06 3.5 .06-5.1 .26-67.4 .07-6.1 .07 7.4 .3 108.6 .08 8 .07-9 .3-101.9 .07-7.1 .06 3.5 .23 43.5 .06 3.3 .06-2.5 .21-35.7 .06-3 .07 7.1 .3 104.4 .07 8.5 .08-10.6 .3-133.8 .07-10.1 .07 7.2 .26 89.7 .06 7.5 .06-5.5 .25-81.4 .06-6.9 .08 10.7 .29 157.7 .08 14.3 .08-15.6 .33-217.8 .08-15.7 .08 15.9 .33 167.2 .08 10.3 .07-5.6 .3-48.2 .07-1.5 .01 0 .05 .3 .01 .1 .08-1.7 .31-50.4 .07-5.9 .07 4.9 .29 76 .07 6.5 .07-5.5 .26-76.1 .07-6 .07 8.2 .28 108.5 .07 8.6 .07-11.1 .3-145.4 .07-11.1 .07 11.5 .29 141.6 .08 10 .07-10.1 .27-118 .07-9.2 .07 8.2 .28 108.9 .07 8.4 .07-6.9 .27-87.6 .07-6.3 .06 4.1 .23 50.9 .06 4.1 .06-4.7 .26-67 .06-5.6 .08 9.6 .3 130.3 .08 9.9 .08-12.3 .32-140 .08-9.3 .08 5.7 .28 54.5 .07 2.6 .02-.1 .08-1.3 .02-.1 .07 2.7 .32 72 .07 8.2 .08-9 .32-136.8 .08-11.1 .07 8.9 .28 109.6 .07 7.5 .06-7.3 .25-85.4 .06-6.4 .07 10.5 .29 142.9 .07 12.2 .08-15.2 .32-207.8 .08-15.8 .08 15.9 .32 183 .07 12.5 .08-8.5 .29-89.9 .07-5.4 .05 1.6 .19 18.4 .04 1.4 .06-1.6 .21-22.7 .05-1.9 .07 3.4 .26 52.8 .07 5 .06-5.2 .28-78.3 .07-7 .07 7.6 .29 110.6 .07 9.2 .08-9 .29-118.3 .07-8.7 .07 7.5 .26 92 .07 7.1 .06-6.9 .27-90.5 .06-6.5 .07 9.9 .29 123.5 .07 10.2 .07-9.6 .3-125.7 .07-9.1 .07 5.9 .24 71.7 .07 5.6 .06-4.8 .24-65.4 .06-4.9 .07 10.1 .3 135.6 .07 12.2 .09-13.1 .33-176 .09-12.3 .15 34.6 .64 103.4 .16 12.8 .08-6.8 .33-115.8 .08-10.8 .07 8.7 .3 117.7 .07 9.5 .06-7.4 .27-98.7 .06-7.7 .07 10 .28 132.4 .07 11 .08-13.5 .31-182.2 .08-13.5 .07 14.5 .3 169.9 .08 12.9 .07-9 .28-112.7 .08-8.3 .06 4.9 .26 61.8 .06 4.4 .06-2.7 .23-34.4 .05-2.8 .06 2.1 .22 31.1 .05 2.4 .07-4.8 .27-68.2 .07-5.7 .07 8.6 .31 119.3 .07 10.2 .08-8.8 .3-117.4 .07-8.9 .07 4.6 .24 57.9 .07 4 .05-3.7 .23-45.9 .05-3.5 .08 7.4 .29 104.5 .07 8.4 .08-9.8 .29-125 .08-9.9 .06 6.7 .27 86 .06 6.3 .06-6 .25-74.1 .06-5.5 .07 9.6 .29 122.9 .07 9.4 .08-12.8 .3-158.1 .07-12.7 .08 10.7 .3 135.4 .08 9.6 .06-5.6 .27-65.3 .06-4.5 .05 1.5 .18 20.5 .05 1.8 .06-3.4 .26-56.7 .07-5 .07 8 .3 115.7 .07 10.4 .07-9.2 .3-131.2 .07-11 .07 7.9 .28 108 .07 8.2 .07-7 .26-87.7 .07-6.5 .07 7.7 .27 94.8 .07 7 .07-8.4 .29-100.7 .07-7.5 .07 6.1 .27 73.1 .07 4.5 .06-3.2 .21-34.4 .05-2.8 .06 3.5 .24 53.4 .06 5 .08-7.5 .29-119.9 .08-10.7 .07 11.7 .31 161.8 .08 13.7 .07-11.3 .31-147 .08-10 .06 7.6 .27 83.9 .07 6.1 .06-2.8 .22-38.8 .05-3 .06 3.9 .25 53.5 .06 4.3 .07-6.5 .28-88.8 .07-7.7 .07 6.7 .28 94.5 .07 7.6 .07-6.4 .26-83.8 .07-6.3 .07 7.5 .27 95.9 .06 7.4 .08-9.9 .29-127.5 .07-9.9 .08 11 .3 134.6 .07 9.8 .08-8.1 .29-91 .07-5.3 .05 2.6 .2 27.5 .05 2.2 .05-2.1 .22-33.1 .05-3.3 .08 6 .29 103 .08 9.4 .07-10.8 .31-148.8 .08-11.6 .07 11.3 .3 138.1 .07 10.1 .07-7.8 .27-94.6 .07-7.4 .06 5.1 .25 68.9 .07 5.4 .06-6 .27-77 .07-5.4 .07 7 .27 81.7 .07 6 .06-4.9 .26-61.4 .06-4.8 .06 3.9 .24 52.9 .06 4.4 .07-6.4 .27-92.1 .07-7.5 .07 11 .31 145.4 .07 11 .08-13.2 .31-157.7 .07-11.3 .08 10.2 .29 112.3 .08 7 .05-3.8 .23-41.6 .06-3.2 .05 2 .2 28.6 .05 2.6 .07-4.9 .28-80 .07-7.4 .08 8.1 .29 118.2 .08 9.8 .07-8.6 .28-112.4 .08-8.4 .06 7.5 .27 92.5 .06 7.6 .07-7.2 .28-98 .06-7.2 .08 9.3 .28 113 .07 9.1 .08-8.1 .29-102.6 .08-6.4 .06 4.8 .24 50.6 .06 3.7 .05-1.9 .2-27.2 .05-2.4 .07 4.7 .27 75.6 .06 7.6 .08-8.9 .31-142.9 .07-12.4 .08 12 .31 160.7 .07 12.6 .08-10.1 .3-123 .07-7.8 .06 6.1 .25 64.2 .06 4.6 .06-3.7 .23-47.3 .06-4 .07 5 .27 72.4 .06 6 .07-6.5 .28-86.4 .07-6.4 .07 6.1 .26 75.1 .06 5.9 .07-5.7 .25-79.1 .07-6.7 .07 8.2 .29 115.6 .07 9.2 .07-11.6 .3-146.2 .08-10.9 .07 11 .31 129.6 .07 9.2 .07-5.7 .27-65.1 .07-3.8 .04 1.7 .18 19.1 .04 1.4 .07-3.6 .25-55.7 .06-5.5 .08 7.5 .3 121.6 .07 11.1 .08-10 .3-141.7 .08-11.4 .07 9.1 .28 115.6 .08 8.2 .06-7 .26-83.4 .06-6.6 .07 6.2 .27 83 .07 5.9 .07-7.9 .28-91.4 .07-6.5 .06 6.4 .27 73.5 .07 5.3 .06-3.3 .22-42.7 .06-3.5 .06 3.8 .24 56.7 .06 5.5 .08-7.3 .3-118.5 .07-9.7 .08 12.7 .3 160.9 .08 12.1 .08-12.8 .3-148 .08-9.4 .07 8.3 .27 84.2 .07 5.2 .06-2.8 .21-32.5 .05-2.2 .06 3.7 .23 47.6 .06 4.3 .08-6.3 .29-94.8 .07-7.4 .07 8.8 .29 106.5 .07 7.8 .07-7.8 .26-92.9 .07-6.6 .07 7.5 .26 92.8 .07 7.6 .07-8.4 .28-117 .08-9.7 .07 9.8 .3 126.7 .08 8.7 .07-8.3 .29-87.9 .07-5.5 .05 2.7 .2 29.6 .05 2.5 .06-2.3 .22-35 .06-2.9 .07 6.9 .29 103.4 .07 9.5 .08-10.7 .31-153.3 .07-12.9 .08 11 .3 145.9 .07 10.9 .07-7.9 .28-97 .07-7.1 .06 4.6 .24 59.8 .06 5 .07-4.5 .25-65.9 .07-5.3 .07 5.9 .27 80.8 .07 6.8 .07-5.2 .26-71.4 .07-5.7 .06 4.5 .25 62 .06 4.8 .07-6.7 .26-90.7 .07-7.4 .08 10.2 .29 138.6 .08 11.5 .07-11.8 .31-154 .08-11.7 .07 9.5 .3 111.4 .07 7.7 .06-3.3 .23-40.4 .06-2.7 .05 2.1 .19 25.1 .05 2.2 .07-5 .29-82.3 .07-6.8 .07 9.6 .3 126.1 .07 10.7 .08-9 .29-123.8 .07-9.7 .07 7.5 .27 96.6 .06 7.6 .07-6.5 .26-88.4 .07-7.6 .07 7.3 .29 102.2 .07 7.6 .07-8.1 .28-95.3 .08-6.9 .06 4.6 .25 55.1 .07 3.6 .05-2.9 .21-33 .05-2.8 .07 4.8 .27 74.2 .06 6.8 .08-8.8 .3-127.8 .08-10 .07 11.2 .3 136.2 .07 10.2 .07-8.9 .28-106.7 .07-7.8 .07 6.2 .26 75.3 .06 5.3 .06-5.7 .26-69.5 .06-5.7 .07 5.8 .27 81 .06 6.8 .07-6.4 .28-87 .07-6.6 .06 6.9 .27 86.1 .07 6.8 .07-6.5 .27-86.1 .06-7 .07 6.4 .27 86.1 .07 7.1 .07-6.2 .26-86.1 .07-7.3 .07 6.3 .28 87.1 .06 6.2 .07-7.4 .27-86.1 .07-6.1 .07 7.2 .26 86.1 .07 6.3 .07-7 .27-86.1 .07-6.5 .06 6.9 .27 86.1 .07 6.6 .07-6.7 .27-86.1 .06-6.8 .07 6.5 .27 86.1 .07 7 .07-6.3 .27-86.1 .06-7.2 .07 6.2 .27 86 .07 7.4 .07-6.2 .27-87.2 .07-6.2 .07 7.4 .27 86 .06 6.2 .07-7.2 .27-86.1 .07-6.3 .06 7 .27 86.1 .07 6.5 .07-6.8 .27-86.1 .06-6.7 .07 6.6 .27 86.1 .07 6.9 .07-6.5 .27-86.1 .06-7 .07 6.3 .27 86.1 .07 7.2 .06-6.1 .27-86.1 .07-7.4 .07 6.2 .27 87.1 .07 6.3 .07-7.3 .27-86.1 .07-6.2 .06 7.1 .27 86.1 .07 6.4 .07-7 .27-86.1 .07-6.5 .06 6.8 .27 86.1 .07 6.7 .07-6.6 .27-86.1 .06-6.9 .07 6.4 .27 86.1 .07 7.1 .06-6.3 .27-86 .07-7.3 .07 6.1 .27 86.1 .07 7.4 .06-6.2 .28-87.1 .07-6.3 .06 7.3 .27 86.1 .07 6.2 .07-7.1 .27-86.1 .07-6.4 .06 6.9 .27 86.1 .07 6.6 .03-1.6 .13-32.8 .03-12.3 0-.5 .01-2.1 0-.5 0-.5 .01-2.1 0-.5 .03-12.3 .13-32.8 .03-1.6 .07 6.6 .27 86.1 .07 6.9 .07-6.4 .26-86.1 .07-7.1 .07 6.2 .27 86.1 .07 7.3 .06-6.3 .28-87.1 .07-6.2 .07 7.4 .26 86.1 .07 6.1 .07-7.3 .27-86 .07-6.3 .06 7.1 .27 86.1 .07 6.4 .07-6.9 .27-86.1 .06-6.6 .07 6.7 .27 86.1 .07 6.8 .07-6.5 .26-86.1 .07-7 .07 6.4 .27 86.1 .07 7.1 .06-6.2 .27-86.1 .07-7.3 .07 6.3 .27 87.1 .07 6.2 .07-7.4 .27-86.1 .07-6.1 .06 7.2 .27 86.1 .07 6.3 .07-7 .27-86.1 .06-6.5 .07 6.9 .27 86.1 .07 6.6 .06-6.7 .27-81.3 .06-6.5 .07 5.3 .27 72.5 .07 5.9 .07-4.5 .27-62.8 .06-5.1 .07 3.9 .27 53 .07 4.2 .06-3.3 .27-43.2 .07-3.3 .07 2.8 .27 33.4 .06 2.3 .07-2.1 .26-23.5 .07-1.6 .07 1.3 .25 14 .07 .8 .05-.5 .21-5.1 .05-.3 .02 0 .04 .4 .02 .1 0 .1M910.82 636l.01 0 .05-.9 .2-8.9 .05-.7 .06 1.4 .27 19.4 .06 1.5 .05-.9 .21-11 .06-.9 .05 .9 .22 12.5 .05 1 .07-2.1 .29-29.1 .07-2.4 .06 1.5 .27 15.9 .06 .8 .02-.1 .08-.6 .02 0 .08 1.1 .29 23.7 .07 2.4 .08-2.4 .29-29.2 .08-1.6 .02 .1 .1 1.6 .02 .2 .06-.9 .24-20.4 .06-2.3 .07 3.8 .3 63.4 .07 5.4 .07-5.2 .28-62.4 .07-4.1 .07 4.1 .27 39.9 .07 2.1 .03-.6 .15-5.7 .04-.4 .03 .3 .13 3.7 .03 .4 .07-3.1 .3-78.1 .08-8.7 .08 11.1 .3 168.9 .07 15.8 .08-13.8 .3-190.7 .08-13 .06 10.9 .26 116.9 .06 7.9 .06-6 .23-71.2 .05-5.4 .07 8.2 .27 106.8 .07 8.9 .07-9.4 .31-114.5 .08-7.3 .06 3.1 .24 32.2 .06 1.8 .03-.3 .11-3.2 .03-.2 .09 3.7 .35 62.1 .09 4.8 .12-7.7 .49-107.9 .12-15.3 .09 8.6 .34 143.8 .09 11.9 .07-10.1 .31-111.5 .08-7 .06 4.1 .26 39.2 .06 2 .03-.5 .14-5.7 .04-.4 .05 1 .19 15.1 .05 1.5 .06-2.2 .24-41.1 .06-4.4 .07 5.2 .28 88 .07 7.6 .06-8.9 .28-120.2 .07-10.2 .06 8.4 .27 113.6 .06 8.8 .07-8.4 .26-105.7 .06-7.3 .07 10 .27 111.9 .07 7.5 .06-7.9 .26-85.6 .06-5.9 .06 3.9 .22 46.5 .05 3.2 .07-5.7 .26-71.5 .06-6.1 .09 10.1 .36 129.3 .09 8.2 .1-12.1 .41-152.9 .11-13.8 .08 10.3 .34 142.9 .09 11.1 .06-6.3 .27-72.8 .07-4.5 .05 2.9 .2 31.2 .05 2.5 .07-4.9 .27-68 .07-4.9 .07 6.3 .29 63.7 .07 3.7 .03-.4 .13-5.6 .03-.5 .05 2.1 .24 36 .05 3.4 .08-7.9 .3-121.9 .08-10.1 .07 10.3 .28 122.4 .07 8 .06-6 .23-65.3 .06-4.9 .06 3.9 .22 52.6 .05 4.3 .07-6.3 .26-87.1 .06-6.6 .07 8.9 .27 111.4 .07 8.5 .07-10.3 .28-127.4 .07-9.3 .08 12 .33 131.8 .08 7.9 .1-11.2 .38-107.5 .1-7.7 .08 4.6 .32 71.9 .09 6.2 .06-3.5 .24-46.7 .06-3.7 .07 5.7 .27 77.8 .06 6.1 .08-9.7 .3-118.2 .08-8.1 .06 6.8 .28 67.2 .07 3.8 .03-.4 .11-4.9 .03-.3 .06 3.7 .27 67 .07 6.8 .08-10.5 .32-150.5 .08-10.6 .07 10.8 .31 101.1 .07 5.1 .03-.5 .12-5.9 .03-.4 .05 2.2 .22 35.5 .06 3.7 .07-7.4 .31-123.3 .07-10 .07 10.2 .28 120.4 .06 8.9 .07-8 .26-96.3 .06-6.8 .07 9.2 .28 106.3 .07 7.4 .08-10.4 .33-109.9 .08-6.9 .09 7.7 .38 84.6 .09 6.6 .08-4.5 .31-71.2 .08-6.1 .07 5.9 .28 78 .07 6.4 .07-5.9 .27-74.6 .07-5.7 .05 3.1 .22 41.4 .05 3.7 .06-3.2 .22-52.3 .06-4.9 .07 8.3 .29 130.2 .07 10.5 .08-13.8 .31-161.5 .08-10.7 .07 9.2 .3 82.3 .07 3.2 .02-.3 .09-2.4 .02-.2 .06 2.1 .26 43.1 .06 4.6 .07-5.7 .29-87.8 .07-7.6 .05 3.6 .23 52.6 .06 4.6 .06-4.4 .24-67.8 .06-5.5 .08 10.8 .3 145.9 .07 11.4 .09-14.8 .34-162.4 .08-9.5 .11 14.3 .46 98.9 .11 4.9 .08-2.8 .32-36.4 .09-2.4 .03 .4 .13 4.7 .04 .5 .06-1.5 .25-32.8 .07-3.7 .07 4.4 .28 77.2 .07 6.9 .06-7.4 .27-102.1 .07-8 .07 10.4 .27 131.9 .07 10.2 .07-11.4 .28-142.9 .07-11.1 .07 8.3 .27 104.4 .07 7.1 .06-5.3 .23-57.9 .06-3.8 .06 4.4 .25 47 .06 3.1 .05-2.2 .2-24.4 .05-1.9 .05 1.1 .17 15.6 .04 1.2 .07-5.2 .28-85.8 .07-8.4 .08 10.9 .32 157.9 .08 12.5 .09-13 .35-126.8 .08-5.4 .16 7.1 .64 75.3 .16 16.6 .12-7.8 .49-90.6 .12-10.5 .08 5.4 .3 82.4 .08 7.9 .06-4.2 .24-63.8 .06-5.7 .06 6.5 .26 99.6 .07 9.4 .07-11.1 .29-171.2 .07-15.3 .08 13.2 .29 178.6 .08 12.8 .07-10.2 .27-111.8 .07-6.9 .06 4.2 .22 45.2 .06 3 .05-1.6 .19-21.1 .04-1.6 .06 2.4 .22 34.2 .05 3 .07-5 .27-70.8 .07-5.8 .07 7.4 .3 89.9 .07 5.8 .07-4.9 .28-43.7 .06-1.9 .03 .2 .08 1.7 .02 .2 .08-2.2 .28-44.9 .07-4.4 .08 6.6 .33 84.6 .09 5.9 .14-11.3 .56-52 .14-5.4 .05 .5 .18 8 .05 .6 .05-1.1 .19-16.7 .05-1.9 .08 5.6 .32 127.1 .08 13.5 .08-15.1 .31-220.5 .08-16.6 .08 17.1 .29 189.4 .08 12.8 .06-7.6 .24-84.2 .06-5.8 .05 4 .21 48.7 .06 3.8 .06-6.9 .27-89.9 .07-6.3 .07 7.8 .27 86.2 .06 6.1 .06-3.9 .24-46.7 .06-3.1 .06 3.4 .24 37.9 .06 2.7 .06-3.3 .27-35.4 .07-1.9 .04 .6 .14 5.6 .04 .4 .05-.8 .19-12.7 .05-1.2 .07 2.9 .29 50.3 .07 4.2 .06-4.7 .27-56.3 .07-4.4 .07 4.5 .29 54.9 .07 3.6 .11-8.3 .45-71.6 .11-7.1 .09 6.3 .35 139.2 .09 14.4 .08-13.4 .31-179.4 .08-13.4 .07 10.4 .27 118.4 .07 7.9 .05-4.9 .21-57.9 .05-4.8 .07 7.1 .25 102.8 .07 8.8 .07-11.3 .29-150.7 .08-11.8 .06 8.1 .27 99.1 .07 6.3 .05-3.8 .21-43 .05-3 .07 6 .27 75.7 .07 5.8 .09-11.3 .38-109.2 .09-5.1 .12 6.2 .45 112.4 .11 13.9 .08-8.4 .32-111.5 .08-9 .07 6.3 .3 73.2 .07 4.4 .13-9.3 .49-34.2 .13-4.2 .07 2.9 .31 63.2 .08 6.5 .07-6.4 .28-90.1 .07-8 .06 5.1 .25 73.9 .06 6.6 .06-4.9 .24-74.8 .06-6.2 .07 8.5 .27 115.6 .07 9.5 .07-9.5 .27-122.4 .07-8.3 .06 7 .23 79.8 .06 6.7 .06-6.6 .25-95.9 .07-7.5 .07 12.7 .3 161 .08 12.9 .09-16.2 .38-170.4 .1-8.6 .11 10.4 .44 128.3 .11 12.3 .08-6.2 .32-77 .07-4.8 .05 1.6 .19 17.5 .05 1.1 .06-2.4 .23-31.1 .06-2.6 .07 4.7 .3 60.2 .07 4.2 .05-1.6 .2-17.7 .05-1.3 .04 .6 .15 9.7 .04 1 .08-3.5 .29-70.2 .07-7 .07 6.2 .28 88.9 .07 7.3 .06-4.2 .24-55.5 .06-4.1 .05 3.5 .21 46.6 .06 4.3 .06-4.9 .25-79.7 .07-6.7 .06 8.5 .27 114.9 .06 9 .07-12.2 .28-155.9 .07-11.4 .08 15.3 .29 180.2 .08 13.9 .08-12.9 .33-142.1 .08-7.5 .15 15.5 .59 54.5 .15 3.1 .02 0 .06-.3 .02 0 .06 .4 .23 12.5 .06 1.6 .09-4.3 .33-82.1 .08-7.4 .08 7.2 .31 78.6 .08 4.3 .04-.7 .13-7.7 .03-.7 .06 1.6 .22 31 .06 3.4 .08-7.1 .31-127.6 .08-11.7 .08 10.5 .33 124.2 .08 7.2 .05-1.8 .19-17.6 .05-.9 .02 .3 .1 2.9 .02 .3 .08-3.9 .31-95.6 .08-9.9 .07 9.2 .28 130.2 .07 11.3 .07-9.2 .27-127.2 .07-9.5 .06 10.9 .27 132.7 .07 10.9 .07-9.8 .29-129 .07-9.8 .07 7.4 .29 85.3 .07 4.8 .07-4.6 .26-40 .07-2.3 .11 3.9 .43 32.2 .11 3.4 .08-2.6 .32-43.7 .07-4 .06 1.4 .21 18.8 .05 1.4 .05-1.5 .19-20.6 .05-1.8 .08 6.3 .3 108.3 .07 9.7 .08-13.9 .32-176.6 .08-12.1 .08 13.7 .32 128 .08 6.1 .04-1.2 .15-11.3 .04-.7 .04 .9 .16 10.9 .04 .9 .07-4.9 .3-83.9 .07-7.9 .06 4.9 .25 68 .06 5.7 .06-4.2 .22-59.4 .06-5 .07 9 .28 127.8 .07 10.5 .08-13.4 .3-168 .07-13 .08 9.7 .3 109.5 .08 5.7 .05-2.3 .19-21.9 .05-1.5 .05 1.4 .2 18.4 .05 1.6 .08-3.8 .32-52.4 .08-3.3 .1 5 .4 53.3 .1 5 .08-4.3 .31-74.8 .08-7.5 .07 8.4 .3 124.2 .07 11.4 .08-10.7 .29-151 .08-12.1 .07 8.8 .27 111 .07 7.8 .06-4.8 .22-56.4 .06-4.4 .06 4.5 .25 59.5 .06 4.1 .06-5.3 .26-58 .07-3.8 .04 1.3 .17 15.9 .04 1.1 .06-3.3 .23-47.8 .06-4.1 .07 9.7 .3 142.4 .08 12.7 .08-12.2 .32-151.5 .08-8.8 .05 4.9 .24 44.4 .06 2.3 .03-.7 .13-7.3 .03-.7 .07 4.7 .32 92 .08 8 .08-11.2 .34-127.6 .08-7.6 .1 9.6 .38 81 .09 4.5 .07-3.1 .29-44.1 .08-4.6 .07 4.1 .28 71.7 .07 6.7 .07-9.2 .3-132.9 .07-10.8 .07 12.3 .29 152.7 .08 10.9 .06-10.3 .27-116.4 .07-8.1 .06 6.4 .25 74.8 .06 5.3 .06-3.9 .23-47.3 .05-3.4 .06 2.9 .21 37.6 .05 3 .06-5.1 .25-71.1 .07-6 .07 8.4 .28 106.9 .08 8.2 .06-6.2 .28-72.4 .07-4.3 .04 1.3 .16 14.7 .04 1.2 .06-2.5 .23-39.9 .06-4 .07 6 .3 94.5 .07 7.8 .08-7.2 .29-85.1 .07-5.6 .07 4.9 .28 48.8 .07 2.7 .09-4.4 .37-33.6 .09-2 .08 2.2 .34 48.6 .08 5.5 .07-5.2 .28-75.1 .07-6.1 .07 7.5 .27 97.3 .06 8 .07-8.5 .27-113.1 .07-8.7 .06 9.5 .27 117.4 .06 9.4 .07-8.6 .26-112.9 .07-8.7 .06 7.6 .26 97.9 .07 7.8 .06-5.9 .26-77.8 .07-5.1 .06 5 .24 53.8 .06 3.4 .05-3.3 .23-35.7 .05-2.7 .06 2.4 .22 31.1 .05 2.4 .06-2.9 .23-38.4 .06-3.4 .06 3.4 .26 50.5 .06 4 .06-4.3 .26-56.9 .07-4.6 .06 4.4 .27 55.4 .07 3.9 .07-4.2 .28-44 .07-2.6 .11 5 .42 29.9 .11 2.2 .08-1.9 .3-42.1 .08-4.9 .07 4.5 .27 70.8 .07 6.6 .07-6.6 .27-96.5 .07-8.5 .06 8.1 .27 115.6 .07 9.3 .07-9.4 .26-123.4 .07-10.5 .06 8.9 .27 123.4 .07 8.9 .07-9.6 .26-110.1 .07-7.4 .06 8 .26 89 .06 6.3 .07-5.5 .25-63.6 .06-4.4 .06 3.3 .24 37.8 .06 2.5 .05-1.9 .21-20.3 .05-1.4 .05 1.5 .21 20 .05 1.4 .06-2.5 .24-31.3 .06-2.5 .06 3.2 .25 42.3 .07 3.4 .06-3.5 .27-45.7 .06-3.1 .07 3.6 .26 38.1 .07 2.4 .07-2.5 .27-21.3 .07-.8 .02 .1 .08 .4 .01 .1 .05-.2 .16-4 .04-.5 .07 1.5 .28 33.5 .07 3.3 .06-4.4 .27-63.3 .06-5.9 .07 6.1 .27 92.1 .07 7.5 .06-8.6 .27-112.3 .06-9.6 .07 9.1 .27 126.3 .07 9.4 .06-10.4 .27-126.5 .06-9.9 .07 9 .26 117.7 .07 9.6 .07-7.6 .27-100.5 .06-6.7 .07 6.8 .26 73 .06 5.2 .07-3.8 .25-44.6 .07-2.6 .05 1.7 .22 16.4 .05 1 .04-.4 .14-4.7 .04-.4 .06 1 .22 15.5 .05 1.3 .06-2.3 .26-32.3 .06-2.7 .07 3.1 .25 41.2 .07 3.3 .06-3.1 .26-40 .07-2.9 .06 2.5 .24 28.7 .06 2.2 .05-1.1 .21-13.8 .05-.9 .04 .8 .18 10.1 .04 .7 .06-1.8 .23-27.2 .06-2.3 .06 3.9 .26 54.6 .06 4.9 .07-5.8 .26-81.8 .07-6.1 .06 8 .27 97.8 .06 7.5 .07-8.4 .26-103.6 .07-7.6 .06 8.1 .26 98.2 .07 7.7 .06-6.6 .26-86 .07-6.2 .06 5.7 .24 67.2 .07 5 .06-3.9 .23-49.4 .06-3.9 .06 2.9 .23 38.1 .06 2.6 .06-3.1 .22-35.3 .06-2.4 .06 3.2 .23 39.2 .06 3.4 .06-3.2 .23-42.7 .06-3.7 .06 3 .25 43.3 .06 3.5 .06-3.3 .24-43.3 .06-3.2 .06 3.5 .24 42.7 .06 3.6 .06-3.1 .24-43.3 .06-3.4 .06 3.4 .24 43.3 .06 3.1 .06-3.5 .24-42.7 .06-3.6 .06 3.1 .24 43.3 .06 3.4 .06-3.4 .24-43.3 .07-3.1 .05 3.6 .24 42.7 .06 3.5 .06-3.2 .24-43.3 .06-3.3 .07 3.5 .24 43.3 .06 3 .06-3.6 .23-42.7 .06-3.5 .06 3.2 .25 43.3 .06 3.3 .06-3.5 .24-43.3 .06-3 .06 3.7 .24 42.7 .06 3.4 .06-3.3 .24-43.3 .06-3.2 .06 3.4 .24 42.7 .06 3.7 .06-3 .24-43.3 .06-3.5 .06 3.3 .24 43.3 .06 3.2 .06-3.5 .24-42.7 .06-3.6 .06 3.1 .24 43.3 .06 3.4 .06-3.4 .25-43.3 .06-3.1 .05 3.5 .24 42.7 .06 3.6 .06-3.1 .24-43.3 .06-3.4 .07 3.4 .24 43.3 .06 3.1 .06-3.6 .23-42.7 .06-3.5 .06 3.2 .25 43.3 .06 3.3 .06-3.5 .24-43.3 .06-3 .06 3.6 .24 42.8 .06 3.4 .06-3.2 .24-43.3 .06-3.3 .06 3.5 .24 43.3 .06 3 .06-3.7 .24-42.7 .06-3.4 .06 3.3 .24 43.3 .06 3.2 .06-3.4 .24-42.7 .06-3.7 .06 3 .24 43.3 .06 3.5 .06-3.3 .25-43.3 .06-3.2 .06 3.5 .23 42.7 .06 3.6 .06-3.1 .24-43.3 .07-3.4 .06 3.4 .24 43.3 .06 3.1 .06-3.5 .24-42.8 .05-3.5 .07 3.1 .24 43.3 .06 3.4 .06-3.4 .24-43.3 .06-3.1 .06 3.6 .24 42.7 .06 3.5 .06-3.2 .24-43.3 .06-3.3 .06 3.5 .24 43.3 .06 3 .06-3.6 .24-42.8 .06-3.4 .06 3.2 .24 43.3 .06 3.3 .06-3.4 .24-42.7 .06-3.7 .06 3 .24 43.3 .06 3.5 .06-3.3 .25-43.3 .06-3.2 .06 3.4 .23 42.8 .06 3.6 .06-3 .25-43.3 .06-3.5 .06 3.3 .24 43.3 .06 3.2 .06-3.5 .24-42.7 .06-3.6 .06 3.1 .24 43.3 .06 3.4 .06-3.4 .24-43.3 .06-3.1 .06 3.5 .24 42.8 .06 3.5 .06-3.1 .24-43.3 .06-3.4 .06 3.3 .24 41.7 .06 3.2 .06-3.1 .24-38.3 .06-2.7 .06 2.9 .24 33.5 .06 2.6 .06-2.2 .24-29.6 .06-2.1 .06 2.1 .24 24.9 .06 1.9 .06-1.6 .24-20.9 .06-1.4 .06 1.5 .24 16.2 .05 1.2 .06-1.1 .24-11.9 .06-.9 .06 .7 .23 7.6 .06 .6 .05-.3 .21-3.5 .05-.2 .03 0 .09 .6 .03 .2 .01 0M1089 636l.01 0 .05-.9 .22-9.7 .05-.8 .09 2 .34 22 .09 1 .13-1 .51-26.9 .13-6.3 .06 1.6 .27 23.7 .06 1.8 .05-.9 .19-11.1 .04-.9 .06 1.6 .24 25.8 .06 2.5 .06-2.6 .26-41.9 .06-3.4 .06 3.9 .24 52.4 .06 4.4 .07-6.1 .26-83.3 .07-6.7 .07 7.6 .28 96.5 .07 7.1 .06-5.5 .26-64.9 .07-4.9 .06 3.2 .25 39.2 .06 2.4 .13-9.8 .52-37.1 .13-6 .08 4.6 .32 94.7 .08 9.1 .07-9.8 .3-126.8 .07-10.1 .07 7.1 .26 90.9 .07 7 .06-4.9 .24-64.1 .06-5.1 .08 6.3 .28 79.2 .07 5.5 .15-16.7 .59-81.6 .15-17.3 .09 8.7 .35 122.3 .09 8.1 .14-18.3 .58-129.4 .14-26.1 .08 12.3 .34 197.6 .08 16.6 .08-16 .32-185.9 .08-12.1 .08 11.1 .32 98.9 .08 4.7 .12-5.5 .5-44.3 .12-9.2 .07 4.5 .29 63.1 .07 4.9 .06-4.9 .26-58.9 .07-4.5 .05 2.7 .21 37.2 .06 3.2 .06-4 .25-59.7 .06-5.1 .07 7.9 .29 105.5 .08 7.7 .07-8 .28-85.2 .08-5.1 .04 2.1 .19 21.6 .05 1.4 .05-2.5 .22-31.5 .06-2.5 .08 6.5 .32 79.8 .08 5.3 .14-9.7 .56-94.8 .14-19.8 .07 8.6 .31 126.6 .08 11.2 .06-7.2 .27-99.4 .07-7.5 .06 6.6 .26 81.9 .06 5.7 .07-9.4 .29-108.8 .08-8.1 .12 18 .51 109.4 .13 6.6 .09-5.8 .36-125.5 .1-12.9 .08 9.1 .33 107.3 .08 5.9 .04-1.1 .17-12.3 .05-.7 .03 .4 .13 5.5 .03 .4 .08-4.5 .31-91.7 .07-9.1 .08 10 .29 137.7 .08 11 .07-11.6 .3-139.9 .08-10.1 .1 13.8 .39 110.2 .1 3.6 .11-3.4 .44-101.1 .11-13.9 .08 6.8 .29 88.6 .08 6.3 .05-2.5 .2-31.6 .05-2.7 .05 3.4 .24 54.9 .06 5.1 .08-9.1 .3-134.8 .08-11 .08 11.7 .33 124.3 .08 6.6 .05-1.6 .2-14.9 .05-.7 .02 0 .08 .9 .02 .1 .08-3.3 .35-80 .08-8.2 .16 20.3 .61 67.8 .15 11.4 .08-4.7 .3-79.3 .07-6.9 .06 6.2 .26 81.4 .07 6.8 .06-6.9 .27-97 .06-8.1 .08 10.2 .3 134.7 .08 9.1 .08-13.8 .36-121.3 .09-5.6 .12 5.6 .46 95.8 .12 14.2 .08-7.3 .3-101.1 .07-7.6 .07 7.5 .28 84.8 .07 5.8 .06-4.6 .25-51.5 .06-3.7 .04 1.2 .17 17.1 .05 1.6 .06-2.8 .23-46.7 .06-4.4 .08 8.7 .31 130 .07 10.3 .09-14.9 .34-157 .09-8.7 .13 15.2 .51 126.8 .13 14.8 .08-7.4 .32-103.7 .08-7.7 .06 3 .21 34.9 .05 2.7 .05-3 .22-41.4 .05-3.6 .08 8.9 .3 134.3 .07 11.9 .08-12.5 .33-155.7 .08-10.1 .14 22.1 .57 79.3 .14 9 .07-3.4 .29-56.1 .07-4.9 .07 3.5 .24 45.9 .07 3.9 .06-3 .24-41.3 .06-3.5 .05 2.1 .22 30 .05 2.6 .06-2.3 .21-35.6 .06-3.5 .07 5.6 .28 93.6 .07 7.9 .07-11.2 .3-141.6 .08-10.4 .08 11.3 .31 118.6 .08 6.7 .11-11.3 .45-56.4 .11-3.1 .08 2.8 .31 61.5 .08 7 .07-7.8 .3-120.7 .08-10.9 .08 11.2 .31 145.3 .08 10.7 .07-7.5 .31-68.7 .08-2.2 .01 0 .03 .1 .01 0 .07-2.2 .32-70.4 .08-8 .08 10.9 .33 147.3 .09 11.3 .13-21.1 .55-116.6 .13-8.9 .09 5.7 .33 93.4 .08 7.8 .06-4 .24-47 .06-3.6 .05 2.4 .2 33.8 .06 2.9 .07-6.5 .28-98.2 .07-8.4 .07 10.6 .3 136.3 .07 10.7 .08-9.3 .3-110 .07-7.3 .12 12 .47 68.5 .12 4.9 .08-4.2 .34-94.9 .09-10.7 .07 8.6 .32 122.4 .08 8.2 .07-6.4 .27-60.7 .07-3.4 .03 .4 .11 5.4 .03 .4 .07-3.3 .27-60.1 .07-5.6 .07 9 .31 124.3 .07 10.4 .07-8.1 .29-99.4 .08-6 .06 4.7 .25 47.3 .06 3.2 .11-7.5 .45-40.6 .11-2.7 .09 3.8 .36 112.3 .09 14.1 .08-12.5 .33-183.6 .08-13.3 .08 13.9 .31 137.2 .08 7.6 .05-2.3 .19-23.1 .05-1.7 .04 1.1 .17 15.7 .04 1.3 .08-5.7 .31-88 .08-6.7 .09 8.9 .35 72.7 .09 2.1 .01 0 .04-.2 .01 0 .05 .4 .19 8 .05 1 .07-3.1 .31-62.7 .08-5.5 .06 5 .26 61 .06 4.7 .06-4 .24-52.3 .06-4.6 .06 3.8 .24 58.2 .06 5.3 .07-4.8 .25-73.7 .06-6.6 .07 7.5 .29 108.1 .07 8 .08-12.4 .34-132.5 .08-8.3 .12 12.3 .47 146.2 .12 17.6 .09-10.7 .34-176 .09-15.5 .08 10.5 .3 125.9 .08 8.1 .05-2.1 .19-26.6 .05-1.8 .05 2.1 .2 27.7 .05 2.4 .07-5.6 .29-84.5 .08-6.5 .06 5.9 .27 66.2 .06 4.2 .06-3.7 .23-39.1 .05-2.6 .07 5.3 .29 58.1 .07 3.9 .14-9.9 .53-89.1 .14-17.2 .08 9.1 .32 150.3 .08 14.4 .08-10.7 .3-147.3 .08-11.1 .06 7 .27 82.1 .06 5.2 .06-3.9 .22-42.7 .06-3.2 .06 3.3 .25 40.6 .06 3 .06-2 .23-24.8 .06-1.6 .04 .8 .18 10.1 .04 .9 .05-1.2 .22-18.4 .05-1.6 .06 2.2 .23 32.4 .06 2.8 .07-4.3 .26-65.2 .07-5.6 .07 7.5 .29 101.6 .07 7.8 .07-6.4 .28-72.6 .06-4.6 .04 1.2 .16 14.1 .04 1 .06-3.8 .26-59.7 .06-5.2 .08 11.4 .33 157.6 .08 12.3 .11-19.7 .44-174.2 .11-9.4 .1 8.6 .4 175.1 .1 18.7 .08-12 .31-156.8 .08-11.1 .07 7.8 .25 85.5 .07 5.9 .06-4.6 .23-53.8 .06-3.5 .07 5 .25 54.9 .06 3.9 .06-2.6 .22-31.6 .06-2.3 .05 2 .21 26.6 .05 2.3 .07-4.2 .28-57.8 .07-4.6 .15 15.4 .59 53.7 .15 11.6 .07-5.2 .3-84.8 .07-7.4 .07 7.7 .28 99.3 .07 7.4 .06-8.6 .27-102.1 .07-7.5 .07 8.9 .29 105.3 .07 7.6 .08-6.9 .3-68.3 .08-3.2 .03 .3 .12 3.2 .03 .3 .05-.5 .16-6.7 .05-.7 .06 1.9 .28 33 .07 2.8 .04-1.1 .18-14.9 .04-1.5 .07 2.9 .26 55.9 .06 5.6 .08-9.2 .31-142.3 .08-12.2 .08 12.8 .34 142.5 .08 7.6 .05-2.2 .21-19.1 .06-.8 .01 .1 .05 .5 .02 .1 .09-3.8 .37-124 .09-12.9 .09 14.4 .35 160.9 .09 9.7 .12-13 .48-129.1 .12-15.5 .08 7.7 .32 134.4 .08 11.1 .08-11.1 .28-132.9 .07-10.1 .07 10.2 .29 119.9 .07 8.2 .07-7.4 .28-76.2 .07-4.4 .05 1.5 .18 15.8 .05 1 .04-1.3 .19-15.7 .05-1.3 .07 3.3 .28 46.8 .07 3.7 .05-1.9 .23-23.2 .05-1.8 .04 .9 .18 12.1 .04 1 .07-3.3 .27-52.6 .06-5.2 .07 4.3 .27 63.1 .07 4.6 .05-3.5 .22-40.8 .05-3.2 .07 5.4 .25 75.6 .07 6 .07-10.5 .31-130.2 .07-9.4 .08 10.5 .32 103.4 .08 5.3 .05-1.4 .2-13.4 .05-.7 .02 .1 .1 1.7 .03 .1 .08-2.1 .3-34.1 .08-2.3 .03 .4 .13 4.4 .03 .3 .06-2 .25-38.6 .06-4.1 .08 8.7 .32 148.5 .08 13.8 .08-14.7 .33-184.8 .08-11.5 .15 33.1 .6 102.7 .14 13.3 .09-6.5 .32-101.9 .08-7.9 .08 8.9 .32 86.2 .08 4.3 .13-7.3 .51-72.3 .12-16.1 .08 8.1 .31 140.5 .08 13.9 .08-12.3 .31-175.7 .08-13.8 .08 10.8 .31 119.1 .07 6.6 .05-2.3 .2-22.5 .05-1.3 .05 1.2 .17 13.4 .05 1.1 .08-3.8 .31-46.1 .08-2.5 .03 .3 .11 3 .03 .2 .05-.6 .18-10.3 .04-1.1 .08 4.9 .33 94.4 .08 8.3 .07-8.8 .3-102.7 .07-7 .05 3.3 .22 38.4 .05 2.6 .06-2.8 .21-36.5 .05-3 .07 7 .29 100.3 .08 8.4 .07-8.2 .3-96.4 .08-5.8 .05 2.7 .22 27.4 .05 1.9 .05-1 .19-14 .04-1.1 .08 3.5 .32 35.2 .08 1.1 .01 0 .03 0 .01 0 .06 .6 .24 20.1 .06 2.6 .08-6.4 .32-121.3 .08-11.8 .08 12.5 .3 170.7 .08 14.3 .08-11.4 .3-140.4 .08-8.8 .13 20.5 .53 63 .13 4.4 .08-3.3 .33-78 .09-8 .08 8.8 .33 104.2 .09 6.2 .14-11.6 .57-114.2 .14-29.9 .09 11.4 .32 186.3 .09 16.2 .07-12.2 .32-146.7 .07-9.3 .06 3.7 .23 39.7 .05 2.5 .05-1.5 .19-18.5 .05-1.4 .08 5.3 .33 56.4 .09 2.5 .14-2.8 .54-86.1 .14-23.5 .08 8.9 .3 123.2 .07 10.2 .07-6.3 .26-82.1 .07-5.7 .06 4.4 .23 52.4 .06 3.8 .06-5.1 .26-63.4 .07-4.9 .06 4 .25 49.3 .07 3.5 .05-1.7 .19-22.4 .05-1.8 .07 2.8 .24 39 .07 3.4 .07-4.1 .3-49.3 .08-2.7 .03 .2 .12 3.3 .03 .2 .05-.4 .16-7.7 .04-.8 .07 3.5 .3 76.9 .08 7.9 .07-8 .29-116.5 .07-9.6 .07 10.5 .28 134.5 .08 10 .07-12.8 .32-143.4 .07-8.8 .13 19.6 .49 128.5 .12 9.4 .09-8.5 .37-149.3 .1-12.6 .15 33.2 .62 111.7 .15 13.5 .08-7.3 .34-145 .09-12.8 .07 12.5 .31 140.9 .08 9.1 .06-5.8 .25-58.7 .06-3.7 .05 2.4 .21 26.4 .05 1.8 .07-4.2 .28-47.8 .07-3.3 .14 8.2 .56 54.4 .15 15.2 .07-5.9 .28-88.7 .07-7.8 .07 7.7 .28 105.5 .07 8.7 .07-9.2 .28-118.8 .07-8.8 .08 9.3 .3 100.1 .08 5.7 .06-3.1 .25-25.1 .06-.8 .01 0 .04 .1 .01 0 .08-1.8 .32-52.8 .08-5.9 .07 4.5 .29 59.7 .08 4.1 .04-1.3 .19-16.2 .05-1.2 .05 1.5 .2 19.5 .05 1.7 .06-3.2 .26-49.7 .07-4.4 .06 3.6 .23 51.4 .06 4.1 .07-6.4 .26-88.5 .06-8.2 .08 11.3 .31 166.2 .08 13 .09-18 .37-179.9 .1-9.5 .11 10.9 .48 157.5 .12 18.9 .08-10.3 .34-136.2 .08-8.8 .06 4.8 .23 46.8 .06 3 .04-1.2 .17-15.5 .04-1.3 .07 4.5 .28 77.3 .07 6.8 .07-7.9 .28-103.2 .07-8.4 .07 5.7 .26 72.6 .07 5.6 .06-3.5 .25-43.6 .06-2.7 .06 2.4 .22 24.8 .05 1.7 .05-1.1 .2-14.1 .04-1 .06 1.9 .23 22.9 .05 1.9 .06-1.5 .21-21.6 .06-1.8 .04 1.1 .19 17.5 .05 1.7 .07-3.6 .27-65.8 .07-6.4 .08 8.7 .31 124.6 .08 10 .09-11.1 .34-122.1 .08-7.2 .11 9.6 .43 80.7 .11 5.7 .09-4.2 .36-69.9 .1-6.4 .09 6 .36 79.4 .1 6.7 .09-6.3 .38-86.1 .1-6.7 .09 6.7 .38 84.8 .1 6.9 .09-6.2 .38-82 .1-6.2 .09 6.1 .38 75.3 .09 5.9 .1-5.3 .38-67.3 .1-4.8 .09 4.9 .38 56.2 .09 3.9 .1-3.8 .38-43.8 .09-2.9 .09 2.8 .37 29.9 .1 1.7 .08-1.5 .35-15.3 .08-.8 .06 .3 .24 4.1 .06 .2 .06-.3 .26-5 .06-.5 .09 1 .35 17.5 .09 1.6 .1-2.2 .37-31.9 .09-2.7 .09 3.3 .38 45.6 .1 3.7 .09-4.3 .38-57.8 .09-4.8 .1 5.1 .37 68.1 .1 5.8 .09-5.5 .39-77 .09-6 .1 6.4 .37 82 .1 6.7 .09-6.3 .39-85.8 .09-6.5 .09 6.8 .38 85.3 .1 6.8 .09-6.3 .38-83.5 .1-6.2 .09 6.4 .38 77.6 .1 6 .09-5.6 .38-70.4 .1-5 .09 5.3 .38 59.8 .1 4.2 .09-4.1 .38-48 .09-3.3 .09 3.1 .38 34.4 .09 2.3 .09-1.8 .36-20.1 .09-1.2 .07 .6 .28 6.7 .07 .5 .06-.3 .22-3.2 .05-.2 .08 .8 .34 12.7 .08 1.2 .09-1.9 .37-27 .09-2.5 .1 2.9 .37 41.3 .1 3.4 .09-4 .38-54 .09-4.4 .1 4.8 .37 65 .1 5.5 .09-5.4 .39-74.6 .09-5.7 .1 6.4 .37 80.4 .1 6.5 .09-6.4 .39-85.1 .09-6.3 .1 6.9 .37 85.5 .1 6.7 .09-6.5 .39-84.6 .09-6.2 .09 6.4 .38 75.7 .09 5.2 .09-5.2 .38-59.1 .09-4.1 .1 3.7 .38 41.6 .09 2.7 .09-2.4 .37-25.9 .1-1.7 .09 1.3 .37 13.6 .1 .7 .08-.6 .35-4.9 .08-.2 .07 .1 .26 .8 .06 .1 .01 0M1267.18 636l.01 0 .06-.9 .24-9.8 .06-.7 .07 .9 .27 11.9 .07 .9 .05-.5 .23-7.4 .06-.6 .06 .9 .26 11 .07 .8 .05-.5 .2-7.2 .05-.6 .08 1.8 .31 28.8 .08 2.7 .16-10 .66-36.4 .16-5.4 .08 2.7 .32 51.8 .08 4.8 .07-5.7 .31-76.6 .08-6.5 .06 4.2 .27 59.2 .06 4.8 .07-6.2 .29-89 .07-8 .09 12.3 .35 170.9 .09 12.3 .09-10.3 .33-103.1 .08-5.2 .05 1.7 .2 16.3 .05 1.1 .06-2.3 .27-27.5 .06-2.1 .05 1 .19 12.7 .05 1.1 .08-3.8 .33-59.7 .08-5.2 .14 17 .58 122.2 .15 6.4 .1-5.4 .41-123.4 .1-13 .08 9.4 .33 124.2 .08 10.1 .08-8.4 .3-107.2 .08-7.7 .07 6 .27 71.3 .06 5.8 .08-5.6 .29-76.3 .08-5.1 .07 5.2 .27 56.2 .07 3.8 .06-3.1 .25-37.9 .06-2.9 .09 5.9 .34 68.6 .08 4.2 .05-1.1 .2-13 .05-1 .06 1 .22 15 .05 1.3 .17-14.5 .67-104.4 .16-12.3 .1 7.8 .38 143.6 .1 14.3 .08-9.1 .31-126.2 .08-9.2 .08 10.7 .32 123 .08 8.2 .08-8.5 .31-84.6 .08-4.8 .04 1.4 .19 15.5 .04 1.1 .07-2.7 .25-37.4 .06-3.1 .08 6.4 .33 91 .08 7.5 .09-10.2 .38-113.2 .09-6.2 .16 12.1 .6 84.6 .15 10.7 .06-1.7 .24-24 .06-1.9 .07 3.5 .28 50.6 .07 5.1 .08-7.7 .35-123.1 .08-10.2 .07 5.9 .28 76.8 .06 6.4 .08-6.4 .29-88.2 .08-6.3 .08 10 .34 105.7 .09 6.5 .04-1.3 .19-15.1 .04-1 .06 2.5 .25 34.4 .06 3.3 .09-7.5 .35-115.4 .09-8.9 .09 10.4 .38 105.9 .1 6 .12-8.2 .52-99.8 .13-12.5 .09 6.1 .34 97.4 .08 8.8 .08-7.1 .3-97.4 .08-8.3 .08 8.3 .34 105.2 .08 6.3 .05-2.5 .21-26 .05-2 .06 3.4 .26 47.5 .06 4.2 .09-9.6 .35-137.7 .09-10.8 .07 5.2 .28 63.4 .07 4 .06-3.4 .24-37.2 .06-2.8 .09 7.3 .35 89 .09 5.7 .13-9 .5-42.8 .12-1.7 .09 1.7 .35 45.3 .09 5.2 .08-7 .34-108.4 .09-10.1 .08 8.7 .33 121.4 .08 9.7 .08-7.4 .32-87.5 .08-5.1 .05 1 .16 12.1 .05 .9 .06-2.5 .24-40.3 .07-4.1 .09 9.6 .36 157.9 .1 12.3 .08-11 .33-119.8 .08-7.4 .07 5.6 .29 57.4 .07 3.5 .14-13.4 .58-85.6 .14-7.9 .1 5.2 .38 83.8 .1 6.9 .05-1.6 .21-21.1 .05-1.7 .07 3.6 .29 56.7 .07 5 .08-7.5 .33-103 .08-7.7 .07 5.7 .28 66.7 .07 4.8 .06-3.4 .25-42 .06-3.2 .06 4.3 .27 59.7 .06 5.4 .08-8.1 .33-121.2 .09-9.9 .08 10.1 .34 119.7 .08 7.8 .09-7 .33-66.4 .09-3.7 .13 7 .54 106.3 .13 14.5 .1-11.1 .41-148.4 .1-10.2 .06 2.9 .25 32.1 .06 2.2 .04-.7 .16-9.4 .04-.8 .09 4.5 .33 81.7 .08 6.9 .07-5.9 .28-72.9 .07-6.3 .07 7.4 .31 106.2 .08 8.8 .08-8.9 .31-114.7 .08-8.9 .08 5.4 .28 68.2 .07 4.8 .07-4.7 .3-52.4 .07-3.3 .08 4.1 .32 36.6 .08 1.9 .14-3.1 .58-64.5 .14-16.2 .1 8.6 .38 128.9 .1 9.4 .07-3.6 .27-38.5 .07-2.3 .03 .4 .13 5.8 .04 .6 .08-3.9 .34-82.7 .08-8.5 .07 5.7 .29 86.1 .07 7.9 .08-9.5 .32-141 .08-12.1 .1 14.8 .37 176.3 .1 10.4 .17-21.7 .67-69.3 .17-11.3 .07 2.4 .29 31.6 .07 2.2 .06-1.6 .23-17.2 .06-1.2 .06 1.4 .22 16.7 .05 1.3 .08-3.4 .3-49.2 .08-4 .06 3.4 .27 44.3 .06 3.7 .07-3.6 .26-51.4 .07-4.2 .08 7.2 .31 100.4 .08 8.5 .06-5.6 .28-80 .07-7 .07 7.7 .31 111.6 .08 8.8 .1-15.7 .39-171.7 .1-9.5 .16 15.7 .63 105.4 .15 15.4 .08-3.5 .3-49.3 .08-4.1 .07 3.5 .32 42.7 .08 2.7 .04-.7 .2-8.4 .05-.6 .03 .3 .13 3.6 .04 .3 .09-3.7 .35-88.5 .09-9.9 .09 9.1 .33 134.8 .08 10.3 .08-11.5 .33-133.2 .08-9 .07 6.5 .27 72.9 .07 5.4 .06-3.8 .26-49.1 .06-3.5 .09 8.6 .35 98 .08 6.4 .19-15.8 .72-72.4 .19-16.2 .05 1.7 .23 18.8 .05 1.5 .07-1.8 .26-25.5 .07-2 .07 2.7 .29 29.9 .08 1.6 .02-.2 .11-2.4 .02-.3 .09 3.9 .37 107.2 .09 12.6 .09-12.2 .35-183.5 .09-14.3 .09 12.5 .32 142.8 .09 9.4 .07-7.3 .3-73.4 .08-4.2 .04 1.2 .19 14.1 .04 1.1 .07-2.4 .26-34.5 .07-3 .08 3.9 .3 52.6 .07 3.9 .07-3.6 .29-41.9 .07-2.8 .16 13.1 .62 76.1 .16 11.4 .09-6 .38-100.7 .09-7.8 .06 2.9 .22 33.9 .05 3.1 .08-4.9 .29-81.3 .07-7.9 .09 11 .35 162 .09 12.6 .07-8.7 .31-101.9 .08-6.4 .07 5.6 .28 58.2 .07 3.8 .06-2.4 .24-27.2 .06-1.9 .05 1 .19 13 .04 1.1 .09-4.2 .32-66.8 .09-5.3 .09 7.9 .36 83.9 .1 4.7 .13-9 .55-103.2 .13-15.9 .1 9 .38 159 .1 14.4 .07-7.4 .3-98.5 .08-7 .06 5.6 .27 68.2 .06 5.5 .09-7.8 .32-100.6 .08-6.7 .06 3.7 .24 40.4 .06 2.9 .06-4.3 .27-54.9 .07-4.4 .09 7.8 .35 95.9 .08 6.2 .06-1.6 .21-19.6 .06-1.2 .06 2 .24 24.9 .06 2.2 .13-8.4 .5-67.8 .12-1.1 .12 1.2 .46 82 .11 13.4 .09-9.4 .35-144 .08-12 .09 10.4 .32 129 .08 9.3 .07-6.4 .28-75.2 .07-5.7 .07 4.5 .29 55.2 .07 3.4 .04-1.3 .18-15.3 .04-1.2 .08 4.6 .3 74.9 .08 7.5 .1-12 .39-164.8 .1-10.7 .16 20.9 .64 71.5 .16 4.6 .04-.5 .19-6.5 .04-.7 .09 2.9 .32 55.5 .09 5.6 .07-5.8 .32-82.9 .08-7.2 .07 5.1 .28 73.1 .07 6.4 .07-6.8 .31-96.4 .08-7.5 .07 7.1 .3 85.2 .08 5.5 .06-4.8 .27-51.8 .06-3.9 .06 1.9 .21 27.4 .06 2.6 .07-4.5 .3-73.6 .07-6.8 .1 11.9 .39 156.5 .09 10.6 .14-15.7 .53-111.2 .13-7.2 .08 2.9 .32 51.7 .08 5.1 .09-7.3 .34-108.5 .08-9.6 .09 9.9 .35 120.3 .09 7 .05-1.8 .19-19 .05-1.3 .06 3.3 .25 44.8 .07 4.3 .08-7.2 .33-111 .08-9.5 .07 6.6 .3 87.7 .07 6.6 .07-5.4 .28-68 .07-5.3 .07 4.4 .28 58.9 .07 4.9 .09-6.2 .35-72.6 .09-4 .14 8.6 .56 69.6 .14 9.6 .07-3.4 .3-54 .07-5 .09 7.2 .32 106.7 .09 9.3 .09-11.9 .38-135.8 .1-6.6 .04 .8 .14 8.1 .04 .6 .06-1.8 .22-27.9 .06-2.9 .09 8 .36 143.8 .09 12.4 .08-9.7 .31-118 .08-8.1 .08 9.9 .32 106.3 .08 6.5 .14-18.4 .56-79.6 .14-1.7 .09 1.8 .37 45.3 .09 4.8 .08-3.2 .29-42 .07-3.1 .06 2.2 .23 26.9 .06 2.1 .07-4.1 .28-59.7 .08-5.6 .08 7.8 .35 108 .08 7.2 .06-3.3 .23-35.7 .05-2.7 .06 3.1 .24 45.4 .07 4.5 .08-8.4 .35-138.1 .08-11.8 .08 8 .31 103.2 .07 7 .08-8.6 .32-92.2 .08-6.1 .14 17 .57 129.9 .14 11.2 .1-6.9 .4-117.4 .1-9.3 .08 5.4 .31 55.7 .07 3 .05-1 .17-10.4 .04-.8 .06 1.6 .24 26 .06 2.6 .08-5.5 .32-90.8 .08-7.8 .08 8.2 .31 104.8 .07 7.7 .08-8.2 .29-98.7 .07-7.8 .08 9.4 .33 116.8 .08 8.1 .07-4.5 .27-51.7 .07-3.5 .06 2.8 .25 33.4 .07 2.3 .16-15.7 .63-100.2 .15-10.8 .1 7.4 .41 116.1 .1 9 .07-3.5 .27-37.6 .06-2.1 .05 1.2 .19 13.6 .05 1 .06-2.5 .26-37.5 .06-3.6 .08 4.7 .29 76.4 .07 7.1 .08-10.1 .34-149.1 .08-12 .08 12.7 .34 154.5 .08 11.2 .09-10.6 .36-107.3 .09-5.3 .05 1.2 .21 10.8 .05 .5 .02-.1 .09-1 .02-.1 .11 3.4 .42 79 .1 6.5 .06-1.8 .26-18.6 .06-1 .03 .2 .13 2.7 .03 .2 .09-2.8 .36-52.7 .09-4 .04 1.3 .19 13.7 .05 1 .07-3.7 .3-57.7 .07-5 .08 7.2 .32 98 .08 8.2 .06-4.2 .26-60 .06-5.2 .08 8.1 .31 120 .08 10.7 .09-12 .35-159.1 .09-11.1 .1 11.1 .41 81.8 .1 1.4 .02 0 .05 .1 .2 5.3 .05 .7 .1-3.5 .38-75.2 .1-6.8 .09 6.2 .36 61.8 .09 2.9 .04-.3 .15-3.4 .03-.2 .04 .2 .14 2.7 .03 .3 .07-1.4 .28-30.4 .07-3.5 .09 6.8 .35 120.9 .08 12.1 .09-12.6 .36-175.2 .09-12.4 .07 6.1 .26 68.5 .07 4.8 .06-4.3 .26-55 .06-4.5 .08 8.4 .35 106.8 .09 6.9 .06-3.7 .26-37.8 .06-2.6 .06 1.2 .21 17.1 .06 1.3 .07-2.2 .28-30.1 .07-2.1 .06 1.6 .23 19.3 .05 1.7 .08-2.8 .32-36.1 .07-2.4 .06 .9 .21 10.2 .05 .7 .03-.2 .14-3.7 .04-.4 .08 2.3 .32 56.1 .08 6.2 .08-8.9 .34-140 .08-12.2 .09 15.4 .37 194 .09 13.2 .07-8.9 .31-90.6 .08-5.4 .04 1.5 .19 17.9 .05 1.4 .07-4 .3-53.2 .07-4 .06 2.7 .25 33.4 .06 2.5 .07-5 .31-65.1 .08-5.2 .15 18 .59 105.7 .15 4 .1-3.1 .39-60.2 .1-5.2 .06 1.9 .23 22.2 .06 1.6 .07-3 .29-38.8 .07-2.9 .08 4.3 .31 52.8 .08 3.8 .09-4.7 .35-48.7 .08-2.6 .07 .9 .24 8.1 .06 .4 .03 0 .11-.9 .03-.1 .18 4.2 .73 55.3 .18 4.4 .21-5.8 .83-81.2 .2-6.5 .21 6 .82 74.6 .21 5.2 .19-3.9 .75-42.1 .19-2.6 .13 1 .5 11.4 .12 .8 .16-1.4 .61-20.9 .15-2 .2 3.6 .81 58.5 .2 5.1 .21-6 .82-81.1 .21-6.3 .21 6.3 .82 74.9 .21 5 .19-4.1 .75-42.6 .19-2.5 .13 1 .5 11.5 .12 .9 .15-1.4 .62-20.5 .15-1.9 .2 3.6 .8 57.8 .2 5.2 .21-5.7 .83-81 .2-6.5 .21 6.1 .82 75.1 .21 5.3 .19-4 .76-43.3 .19-2.6 .13 1.1 .5 11.7 .13 .9 .15-1.4 .61-20.2 .15-1.8 .2 3.7 .8 57.4 .2 5 .2-5.5 .79-78.7 .2-7.9 .21 5.9 .81 62.7 .2 3.6 .19-2.7 .75-24 .19-1.1 .13 .4 .55 3.6 .14 .2 .04 0 .17-.2 .04 0 .02 0 .05 .1 .01 0 .01 0M1445.36 636l.01 0 .04-.6 .13-5.7 .03-.5 .04 .5 .15 8.1 .04 .8 .04-.6 .14-9.8 .04-.8 .05 2.3 .19 36.3 .05 3.4 .05-4.1 .2-55.3 .05-4.1 .04 3.6 .17 41.5 .04 3.2 .04-3.9 .17-51.7 .05-4.4 .04 5.4 .19 75.9 .05 6 .04-5.3 .18-69.1 .04-5.2 .04 6.9 .18 89.2 .05 7.5 .05-9.7 .19-131.9 .05-9.6 .05 8.2 .17 96.6 .04 8.3 .04-4.6 .16-72.8 .04-6.4 .04 10 .19 149.8 .05 13.5 .05-13.8 .21-189.1 .05-13.3 .04 10.2 .17 113.3 .05 8.3 .04-6.3 .15-83.4 .04-7.6 .05 9 .19 139.9 .04 11.2 .05-13.2 .2-167.4 .04-12.2 .05 11.8 .18 139.9 .05 10.8 .04-8.2 .17-104.1 .05-6.7 .04 9.1 .17 103.5 .04 7.9 .05-11.4 .18-151.8 .05-12.3 .05 12.8 .19 166.1 .05 12.8 .04-8.8 .18-113.5 .04-9.3 .04 6.8 .17 98.4 .04 8.1 .05-10.4 .19-142.4 .04-10.6 .05 12 .18 145.4 .05 12.5 .04-9.3 .19-130.9 .04-8.7 .05 12.2 .18 133.8 .05 8.9 .04-10 .17-112.1 .05-8.5 .04 7.8 .17 104 .04 8.6 .05-12.1 .19-168.7 .05-14.3 .05 13.9 .2 178.7 .05 11.2 .04-7.2 .15-75.4 .04-5.8 .04 6.4 .16 89.4 .04 7.5 .06-14.9 .21-206.5 .05-15.8 .05 15.3 .2 172.3 .05 10.8 .03-6.1 .15-66.7 .04-4.6 .04 8.7 .17 112.4 .04 10.6 .06-12.4 .2-185.6 .05-14.8 .05 10.3 .17 128 .05 9.8 .04-8 .17-106.8 .04-9.6 .05 10 .19 150.3 .05 11.4 .04-9.2 .18-115 .04-9.8 .04 6.7 .17 104.1 .04 9.5 .05-12 .2-178.2 .05-15.2 .05 12.7 .2 161.9 .05 10.1 .03-6.2 .15-66.6 .03-4.6 .05 8.6 .17 113.6 .04 10.4 .06-14.3 .21-208.6 .05-16.6 .05 12.1 .18 145.8 .05 10.2 .04-5.9 .15-71.5 .04-4.9 .04 9.8 .18 123.3 .04 10.9 .05-12.2 .2-173.7 .05-12.7 .05 12.1 .18 139.1 .05 9.3 .04-10.1 .17-113.5 .05-8.5 .04 8.9 .17 113.6 .05 10.3 .04-7.9 .18-123.4 .04-11.4 .05 9.9 .19 150.5 .04 12.8 .05-10.9 .19-150.2 .05-12.4 .04 7.9 .17 109.6 .05 8.9 .04-7.7 .17-106.2 .04-7.8 .05 11.5 .18 141.4 .05 11.9 .05-10.9 .19-153.4 .04-12.7 .05 10 .18 135.4 .05 10.9 .04-8.2 .17-108.7 .05-9 .04 7.2 .16 102.3 .05 9.3 .04-9.9 .19-151.9 .05-13.6 .05 13.4 .2 184.2 .06 12.1 .04-10.5 .17-107.5 .04-6.6 .04 6.2 .15 71 .03 6.6 .05-10.2 .2-166.6 .05-13.5 .05 16.1 .21 193.6 .05 13.3 .04-8.4 .16-97.1 .04-8.3 .04 5.5 .16 89.2 .04 8.3 .05-10.9 .2-164.9 .05-12.7 .05 11.9 .18 142.8 .05 11.5 .04-8.2 .17-111.9 .05-8.1 .04 12.2 .19 147.4 .05 11 .04-10.8 .19-128 .04-8.5 .04 7.5 .16 86.4 .04 6.6 .05-11.9 .19-161 .05-11.4 .05 17.3 .2 194.7 .06 13.9 .04-7.1 .16-85.7 .04-5.5 .04 6.2 .15 73.9 .03 5.7 .06-14.2 .2-196.3 .05-17.5 .05 13.8 .21 186.9 .05 13.1 .04-6.3 .15-75.8 .04-6.2 .04 6.7 .16 99.6 .05 9.8 .05-11.4 .2-176.6 .05-12.3 .05 13.2 .18 141.3 .05 9.1 .04-10.4 .17-114.3 .05-7.6 .04 11.6 .19 132.3 .04 9.2 .04-9.8 .18-115.3 .04-9.5 .04 8.1 .17 117.4 .05 11.1 .05-11 .2-167.8 .05-11.4 .04 13.8 .19 146.3 .05 9.1 .04-7.9 .16-86 .03-7 .05 8.2 .18 115.5 .04 8.2 .05-14.3 .19-171.1 .05-13.3 .05 12.1 .19 152.4 .04 11.7 .05-7.7 .16-102.2 .05-8.9 .04 6.7 .17 102.2 .04 7.4 .05-11.6 .18-141.5 .05-11.5 .05 12.9 .19 170.7 .05 14.1 .05-9.7 .18-133.5 .04-11 .04 5.4 .16 82.1 .04 7.7 .04-7.8 .19-125.5 .04-9.7 .05 14.8 .2 182 .05 13.5 .05-11.6 .18-137.4 .05-9.9 .04 7.2 .16 91.3 .04 6.8 .05-10.1 .18-130.6 .04-9.9 .05 12.1 .19 147 .05 10.2 .04-10.4 .17-121.7 .05-9.9 .04 10.7 .19 145.3 .05 10.6 .05-12.2 .18-138.8 .05-8.5 .04 7.9 .16 83.7 .04 5.6 .04-10.4 .18-129.7 .04-11.1 .05 15.4 .21 208.3 .06 15.4 .04-11.1 .19-125.4 .04-7.9 .04 4.8 .13 53.8 .03 4.3 .05-10.5 .2-158.5 .04-14.8 .06 14.8 .21 211.5 .05 17.2 .04-7.9 .18-104.7 .04-6.5 .04 6.9 .15 78.4 .03 7 .05-10.7 .2-163.8 .05-12.9 .05 12.5 .19 150.1 .05 10.4 .04-9.3 .17-109.8 .04-9 .04 10.3 .19 143.7 .05 11.2 .05-10.6 .18-130.6 .04-9.6 .05 7.3 .16 92 .04 6.7 .04-11.8 .19-150.4 .05-11.1 .05 16.2 .21 187.9 .05 11.7 .04-10 .17-99.8 .04-6.2 .04 6.6 .15 76.8 .03 6.5 .05-11.5 .2-170.3 .05-13.5 .05 15.2 .2 181.1 .05 12.8 .04-8.9 .17-104.7 .04-8.4 .04 6.6 .17 93.8 .04 6.6 .05-11.3 .18-138.7 .05-11.7 .04 11.3 .19 157.4 .05 14 .05-9.9 .19-142.7 .04-10.2 .05 9.4 .17 108.6 .04 7.4 .04-8.8 .17-104 .04-8.5 .05 10.6 .19 147.8 .05 11.6 .04-13 .2-161.2 .05-10.5 .04 10.8 .17 118.2 .04 9.2 .05-8 .17-107.6 .04-8.2 .05 10.5 .18 130 .05 8.9 .04-11.6 .18-134.4 .04-11.5 .05 10.4 .19 148.3 .05 11.2 .04-12 .19-142.2 .05-9.5 .04 8 .16 91.3 .04 6.7 .04-8.1 .17-106.8 .04-10 .05 12.4 .21 193.5 .05 16.5 .05-13.1 .2-164.8 .05-10.8 .03 5.4 .14 61.9 .04 5.5 .04-7.2 .18-113.6 .05-9.3 .05 16.2 .21 207.8 .05 14.7 .05-12.7 .18-139.9 .05-10.2 .03 5.8 .15 76.6 .04 6.9 .05-9 .19-139 .05-11.9 .04 11.8 .2 156.7 .05 10.9 .04-9.6 .16-110.1 .05-8.9 .04 10.7 .19 143.3 .05 9.6 .05-13.6 .19-150.7 .04-11.9 .04 6.1 .16 85.6 .04 5.7 .05-9.7 .17-115.9 .04-9.1 .06 16.3 .21 207.3 .05 14 .05-13.7 .18-140.5 .05-8.3 .03 5.3 .14 55.7 .03 4.8 .05-9 .19-139.7 .05-12.3 .05 15.7 .21 206.6 .05 14.1 .05-11.6 .17-123.7 .05-7.8 .04 7.3 .15 82.1 .04 5.6 .05-10.7 .18-135.5 .05-11.7 .04 10.7 .19 152.4 .05 12.9 .05-9.7 .18-134.5 .04-9.6 .05 11.6 .18 132 .05 8.4 .04-10.3 .17-113.5 .05-8.5 .04 8.7 .17 111 .05 8.3 .04-12.2 .19-152.1 .05-11.5 .05 13.3 .19 159.8 .05 10.1 .04-10 .17-108.5 .04-9.2 .04 6.3 .17 99.9 .04 9.5 .05-8.9 .19-140.2 .04-10.7 .05 13 .19 158.5 .05 12.7 .04-11.1 .19-143.6 .05-9.9 .04 8.8 .17 99.7 .04 7.2 .04-7.8 .17-99.6 .04-7.4 .05 13.1 .19 166 .05 12.2 .05-15.4 .2-179.2 .05-12.6 .04 7.8 .16 93.3 .04 7.8 .04-5.6 .17-85.4 .04-6.5 .05 13.5 .19 174 .05 12.8 .05-14.5 .2-168 .05-12.1 .04 7.6 .16 96.2 .04 8.1 .04-8 .18-116.3 .04-9.2 .05 11.7 .19 148.2 .05 12.2 .04-8.4 .17-116.5 .05-10.1 .04 9.3 .18 136 .05 10.8 .05-13.7 .2-168.7 .05-11.2 .04 9 .17 97.3 .04 6 .04-7.4 .16-84.6 .03-6.2 .06 15 .2 194.1 .05 14.5 .05-16.7 .21-186.2 .05-12 .03 5.9 .15 63.9 .04 4 .04-7.7 .16-94.7 .04-9.1 .05 12.8 .21 207 .05 18.5 .05-11.3 .2-156.3 .05-10.6 .03 6.7 .15 78.5 .04 6.8 .05-8.4 .18-126.6 .05-10.7 .04 11.9 .2 155.5 .05 10.4 .04-10.9 .17-120.8 .05-9.2 .04 10.8 .18 137.9 .05 10.8 .05-11.3 .19-142.8 .04-10.6 .04 7.5 .17 93.9 .04 8 .04-8.2 .18-120.3 .04-9.6 .05 14.4 .2 183 .05 14.4 .05-11.5 .19-143.3 .04-9.8 .04 6.5 .15 77.7 .04 7.2 .05-7.6 .18-122.4 .05-8.9 .04 14.5 .2 173.2 .05 13.8 .04-11.5 .19-149.7 .05-11 .04 8.1 .17 102.4 .04 8.7 .04-7.1 .18-103 .04-7.2 .04 11.8 .19 142 .04 11.5 .05-12.7 .2-169.8 .04-14 .05 9.6 .18 129.8 .05 9.5 .04-6.8 .15-85.8 .04-8 .05 8 .18 130.4 .05 11.8 .05-12.3 .2-170.8 .05-11.7 .04 11.9 .18 129.3 .04 9.3 .05-9.1 .17-110.4 .04-7.7 .05 11 .18 130.3 .05 8.9 .04-10.2 .17-119.4 .05-10.3 .04 9.2 .18 133.8 .05 9.7 .05-14.2 .19-168.8 .05-13.2 .05 9.2 .17 119.6 .05 9.9 .04-4.6 .15-71.3 .03-5.9 .05 11.2 .2 159.9 .04 12.8 .06-17.4 .21-210.9 .05-15 .04 8.4 .17 97.5 .04 6.8 .04-5.2 .14-65.8 .04-5.4 .05 12.6 .2 181.3 .06 13.8 .05-15.9 .19-181.5 .05-12.6 .04 7.9 .17 92.4 .04 6.2 .04-9.2 .17-110.7 .05-8.5 .04 12.4 .2 155.7 .05 11.1 .04-10.1 .17-116.7 .05-8.6 .04 10.3 .18 128.4 .04 10.1 .05-13.6 .2-169.6 .05-11.5 .04 9.4 .17 104.7 .04 8.9 .04-5.2 .16-82.7 .04-7.8 .05 11 .19 177.6 .05 16.5 .06-13.3 .2-187.7 .05-14.3 .04 6.2 .16 82.2 .04 6.9 .04-5.8 .16-88.3 .04-8 .05 12.4 .2 181.1 .06 12.8 .04-14.8 .19-163.1 .05-13.1 .04 7.5 .17 105.3 .05 7.1 .04-9 .17-103.8 .04-8.9 .04 9.2 .19 134.5 .04 11.9 .05-10.5 .19-149.1 .04-11.4 .05 12.2 .19 146.6 .05 9.5 .04-10.4 .17-114.2 .05-8.5 .04 7.7 .17 102.3 .04 8.9 .04-10 .19-142 .05-10.2 .05 13.4 .19 156.6 .04 11.8 .05-10.1 .17-128.2 .05-10.9 .04 8 .18 112.9 .05 7.6 .04-10.1 .17-113.9 .04-8.7 .05 10.6 .18 135.9 .05 9.6 .05-14.4 .19-166.3 .05-10.9 .05 12.6 .18 136.5 .04 10.3 .04-5.8 .16-77.2 .04-5.2 .04 10.2 .18 122.8 .05 8.9 .05-16.7 .2-202.9 .05-15.9 .05 11.6 .19 141.6 .05 9.6 .03-5.4 .15-64.1 .03-4.2 .05 10.7 .18 135 .05 11.6 .05-14.1 .2-190 .06-13.8 .04 10 .17 117.4 .04 9 .05-7.7 .16-102.6 .04-8.6 .05 10.9 .2 150 .05 10.5 .04-10.2 .17-118.1 .04-9.8 .05 8 .17 114.9 .04 9.5 .05-13.2 .2-177.4 .05-14 .05 11.4 .19 138.6 .04 9.5 .04-5.1 .14-62.6 .03-6 .05 8.5 .19 143.8 .05 13.8 .05-15.5 .22-219.5 .05-15.4 .04 10.3 .18 112.7 .04 8.5 .04-4.4 .14-62.5 .04-4.6 .05 11.8 .19 160.2 .05 14.2 .05-14.1 .2-187.5 .06-12.3 .04 10.2 .16 108.7 .05 8.2 .04-8 .17-104.9 .04-7.1 .05 11.8 .18 136.6 .05 10.7 .04-9.7 .18-128.7 .05-11 .04 9.8 .19 138.7 .04 11.5 .05-11 .19-149.1 .04-12.5 .05 7.5 .17 107.5 .04 8.6 .04-7.5 .17-101.1 .04-8.4 .05 11.7 .2 160.6 .04 11.9 .05-14.1 .2-164.6 .04-11.1 .05 9.8 .17 109 .04 6.9 .04-8.4 .17-95.2 .04-8.1 .04 9.1 .18 136.8 .05 12.8 .05-10.9 .19-165.8 .05-13.9 .05 11 .19 144.9 .04 10.8 .04-7.3 .17-92.1 .04-7.9 .04 6.9 .17 104.3 .05 7.5 .04-13.9 .2-172.6 .05-14.4 .05 13 .2 170 .05 11.1 .03-7.9 .16-87.7 .04-7.6 .04 6.7 .17 102.7 .05 7.6 .05-13.5 .19-166.6 .05-13.7 .05 11.2 .18 145.6 .05 9.6 .04-9.8 .17-109.2 .04-8.7 .05 10.3 .19 137.7 .05 9.2 .04-11.2 .18-122 .04-8.3 .04 9 .17 105.5 .04 7.6 .05-13.4 .19-168.1 .05-12.8 .05 14.3 .2 169.3 .05 11.7 .04-6.1 .15-70.4 .04-4.5 .04 8.4 .17 100.8 .04 7.5 .05-16.8 .21-215.7 .05-17 .05 13.2 .2 159.6 .04 11.7 .04-4.1 .14-57.7 .04-4.7 .04 8.8 .18 125.8 .05 10.2 .05-15.3 .21-194.6 .05-14.6 .04 10.5 .18 126 .04 8.9 .05-8.3 .16-100.1 .04-6.8 .05 12.2 .19 142.7 .05 9.8 .04-11 .18-123.9 .04-8.4 .05 10 .17 117 .04 8.4 .05-13.7 .19-166.8 .05-12.8 .05 11.6 .19 139.6 .05 9.1 .03-6.7 .15-75.4 .04-5.8 .05 9.8 .18 132.5 .05 10.3 .05-15.9 .2-195.5 .05-13.7 .05 12 .18 131.3 .05 7.9 .04-7.1 .15-76.5 .04-6 .04 9.3 .18 129.6 .05 10.3 .05-13.2 .19-170 .05-13.6 .05 11.4 .19 145.5 .04 9.5 .05-9.5 .16-105.5 .04-8.8 .05 7.3 .17 104.7 .04 7.8 .05-11.2 .18-140 .05-11.4 .05 12.7 .19 166.3 .05 12.8 .04-10.5 .19-129.2 .04-8.1 .04 8.7 .17 94.3 .04 7 .04-10 .18-130.2 .05-9.4 .05 13 .19 152.3 .04 11 .05-11 .18-132.2 .04-11 .05 9.6 .18 130.3 .04 9.6 .05-10 .18-118.9 .04-8.5 .04 8.5 .17 103.6 .04 7.9 .05-11.6 .19-152.9 .04-11.9 .05 14.6 .2 182 .05 14.7 .05-6.8 .16-96.7 .04-8 .04 4.8 .15 73.1 .04 6.8 .05-12 .21-186.1 .05-15.4 .05 15.9 .2 194.3 .05 14.3 .04-6.2 .16-80.3 .04-5.9 .04 6.9 .16 90.4 .04 7.7 .05-13.1 .21-183.4 .05-13.7 .04 12.4 .19 144.6 .04 11.2 .04-7.1 .17-94.8 .04-6.8 .05 9.4 .18 115.8 .05 9.4 .04-7.7 .19-100.5 .04-6.8 .04 6.7 .17 75.2 .04 4.9 .05-9.6 .2-110.7 .04-8.2 .06 8.6 .2 99 .05 6.5 .04-1.9 .13-25.1 .03-2.2 .04 2.1 .17 35.6 .04 3 .05-6.7 .22-89.8 .06-7 .06 7.5 .25 66.9 .07 2.3 .02-.2 .08-1.4 .03-.1 .01 0 .07 .6 .01 .1 .07-1.7 .26-38.4 .06-3.5 .08 3.5 .33 43.3 .08 3.4 .08-3.4 .32-43.3 .08-3.1 .08 3.6 .32 42.8 .08 3.4 .08-3.3 .32-43.3 .08-3.2 .08 3.4 .32 42.9 .08 3.5 .08-3.1 .32-43.3 .08-3.4 .08 3.4 .33 43.3 .08 3.1 .08-3.6 .32-42.8 .08-3.4 .08 3.3 .32 43.3 .08 3.2 .08-3.4 .32-42.9 .08-3.5 .08 3.2 .32 43.3 .08 3.3 .08-3.4 .33-43.3 .08-3.1 .08 3.6 .31 42.8 .08 3.4 .08-3.3 .33-43.3 .08-3.2 .08 3.5 .32 42.8 .08 3.5 .08-3.2 .32-43.3 .08-3.3 .08 3.4 .32 43.3 .09 3.1 .07-3.6 .32-42.8 .08-3.4 .08 3.3 .33 43.3 .08 3.2 .08-3.5 .31-42.8 .08-3.5 .08 3.2 .33 43.3 .08 3.3 .08-3.4 .32-43.3 .08-3.1 .08 3.6 .32 42.9 .08 3.3 .08-3.3 .32-43.3 .08-3.2 .08 3.5 .32 42.8 .08 3.5 .08-3.2 .33-43.3 .08-3.3 .08 3.3 .31 42.9 .08 3.6 .08-3.1 .33-43.3 .08-3.4 .08 3.3 .32 43.3 .08 3.2 .08-3.5 .32-42.8 .08-3.5 .08 3.2 .32 43.3 .08 3.3 .08-3.4 .32-42.8 .08-3.6 .08 3.1 .33 43.3 .08 3.4 .08-3.3 .32-43.3 .08-3.2 .08 3.5 .32 42.9 .08 3.4 .08-3.2 .32-43.3 .08-3.3 .08 3.4 .32 42.8 .08 3.6 .08-3.1 .32-43.3 .08-3.4 .08 3.4 .33 43.3 .08 3.1 .08-3.5 .32-42.9 .08-3.4 .08 3.2 .32 43.3 .08 3.3 .08-3.4 .32-42.8 .08-3.6 .08 3.1 .32 43.3 .08 3.4 .08-3.4 .33-43.3 .08-3.1 .08 3.5 .31 42.9 .08 3.4 .08-3.2 .33-43.3 .08-3.3 .08 3.4 .32 42.9 .08 3.5 .08-3.1 .32-43.3 .08-3.4 .08 3.4 .32 43.3 .09 3.1 .07-3.5 .32-42.9 .08-3.4 .08 3.3 .33 43.3 .08 3.2 .08-3.4 .31-42.9 .08-3.5 .08 3.1 .33 43.3 .08 3.4 .08-3.4 .32-43.3 .08-3.1 .08 3.6 .32 42.8 .08 3.4 .08-3.3 .32-43.3 .08-3.2 .08 3.4 .32 42.9 .08 3.5 .08-3.1 .33-43.3 .08-3.4 .08 3.4 .32 43.3 .08 3.1 .08-3.6 .32-42.8 .08-3.4 .08 3.3 .32 43.3 .08 3.2 .08-3.4 .32-42.9 .08-3.5 .08 3.2 .32 43.3 .08 3.3 .09-3.4 .32-43.3 .08-3.1 .08 3.6 .32 42.8 .08 3.4 .08-3.3 .32-43.3 .08-3.2 .08 3.4 .32 42.9 .08 3.5 .08-3.2 .32-43.3 .08-3.3 .08 3.4 .33 43.3 .08 3.1 .08-3.6 .31-42.8 .08-3.4 .09 3.3 .32 43.3 .08 3.2 .08-3.5 .32-42.8 .08-3.5 .08 3.2 .32 43.3 .08 3.3 .08-3.4 .32-43.3 .09-3.1 .08 3.6 .31 42.9 .08 3.3 .08-3.3 .33-43.3 .08-3.2 .08 3.5 .31 42.8 .08 3.5 .08-3.2 .33-43.3 .08-3.3 .08 3.3 .32 42.9 .08 3.6 .08-3.1 .32-43.3 .08-3.4 .08 3.3 .32 43.3 .09 3.2 .07-3.5 .32-42.8 .08-3.5 .08 3.2 .33 43.3 .08 3.3 .08-3.4 .31-42.8 .08-3.6 .08 3.1 .33 43.3 .08 3.4 .08-3.3 .32-43.3 .08-3.2 .08 3.5 .32 42.9 .08 3.4 .08-3.2 .32-43.3 .08-3.3 .08 3.4 .32 42.8 .08 3.6 .08-3.1 .33-43.3 .08-3.4 .08 3.4 .32 43.3 .08 3.1 .08-3.5 .32-42.9 .08-3.4 .08 3.2 .32 43.3 .08 3.3 .08-3.4 .32-42.8 .08-3.6 .08 3.1 .32 43.3 .08 3.4 .09-3.4 .32-43.3 .08-3.1 .08 3.5 .32 42.9 .08 3.4 .08-3.2 .32-43.3 .08-3.3 .08 3.4 .32 42.9 .08 3.5 .08-3.1 .32-43.3 .08-3.4 .08 3.4 .33 43.3 .08 3.1 .08-3.5 .31-42.9 .08-3.4 .09 3.3 .32 43.3 .08 3.2 .08-3.4 .32-42.9 .08-3.5 .08 3.1 .32 43.3 .08 3.4 .08-3.4 .32-43.3 .09-3.1 .08 3.6 .31 42.8 .08 3.4 .08-3.3 .33-43.3 .08-3.2 .08 3.4 .31 42.9 .08 3.5 .08-3.1 .33-43.3 .08-3.4 .08 3.4 .32 43.3 .08 3.1 .08-3.6 .32-42.8 .08-3.4 .08 3.3 .32 43.3 .09 3.2 .07-3.4 .32-42.9 .08-3.5 .08 3.2 .33 43.3 .08 3.3 .08-3.4 .32-43.3 .08-3.1 .08 3.6 .32 42.8 .08 3.4 .08-3.3 .32-43.3 .08-3.2 .08 3.4 .32 42.9 .08 3.5 .08-3.2 .32-43.3 .09-3.3 .08 3.4 .32 43.3 .08 3.1 .08-3.6 .32-42.8 .08-3.4 .08 3.3 .32 43.3 .08 3.2 .08-3.5 .32-42.8 .08-3.5 .08 3.2 .32 43.3 .08 3.3 .08-3.4 .33-43.3 .08-3.1 .08 3.6 .32 42.9 .07 3.3 .09-3.3 .32-43.3 .08-3.2 .08 3.5 .32 42.8 .08 3.5 .08-3.2 .32-43.3 .08-3.3 .08 3.3 .32 42.9 .08 3.6 .08-3.1 .32-43.3 .08-3.4 .08 3.3 .33 43.3 .08 3.2 .08-3.5 .32-42.8 .07-3.5 .09 3.2 .32 43.3 .08 3.3 .08-3.4 .32-42.8 .08-3.6 .08 3.1 .32 43.3 .08 3.4 .08-3.3 .32-43.3 .09-3.2 .08 3.5 .31 42.9 .08 3.4 .08-3.2 .33-43.3 .08-3.3 .08 3.4 .31 42.8 .08 3.6 .08-3.1 .33-43.3 .08-3.4 .08 3.3 .32 43.4 .08 3.1 .08-3.5 .32-42.9 .08-3.4 .08 3.2 .32 43.3 .09 3.3 .07-3.4 .32-42.8 .08-3.6 .08 3.1 .33 43.3 .08 3.4 .08-3.4 .32-43.3 .08-3.1 .08 3.6 .31 40.1 .08 3.1 .08-2.8 .32-35.2 .09-2.4 .07 2.5 .32 29 .08 2.1 .08-1.9 .32-23.2 .08-1.8 .08 1.5 .32 17.5 .08 1.2 .07-1 .32-11.7 .07-.8 .08 .6 .29 6 .08 .4 .05-.2 .19-1.5 .05-.2 .01 0 .01 0 .09-1.4 .35-15.7 .08-1.3 .12 2.9 .49 39.3 .13 2.8 .25-9.3 1-32.5 .25-6.8 .11 1.8 .44 22.7 .11 1.5 .05-.2 .2-3.2 .05-.3 .11 1.9 .44 34.4 .11 3.6 .12-5.2 .5-78.4 .13-6.2 .11 5 .45 58 .11 3.8 .07-1.6 .31-19 .07-1.6 .1 2.9 .39 43.5 .1 3.9 .12-6.4 .47-96.2 .12-8.5 .12 7.4 .47 99.3 .11 7.4 .11-5.2 .41-62.7 .11-4.3 .09 3.7 .38 43.9 .09 3.3 .11-4.4 .42-56.3 .1-4.3 .11 5.3 .45 64.9 .11 4.9 .12-5.3 .48-61.3 .12-4.1 .18 7.1 .69 64.8 .18 5.5 .14-5.2 .59-118.8 .15-13.7 .13 12.2 .53 188.7 .13 16.3 .13-15.1 .51-193.4 .13-14 .11 10.8 .48 120.6 .12 7.5 .09-4 .36-43.3 .1-3.1 .09 3 .38 38.2 .1 3.1 .12-4.4 .5-52.8 .12-3 .07 .7 .27 7 .07 .5 .05-.2 .22-3.9 .05-.4 .14 3.5 .55 76.8 .13 7.5 .15-9.2 .58-104.3 .14-6 .23 9.3 .92 104.9 .23 22.4 .14-10.3 .53-148.8 .14-11.5 .12 9.8 .49 108 .12 6.6 .08-2.6 .31-29.4 .08-2.2 .09 2.9 .37 42.3 .09 3.5 .13-8.2 .49-118.8 .12-9.9 .13 11.1 .51 137.6 .13 9.9 .13-9.1 .53-93.3 .14-5.2 .16 5.8 .65 51.5 .16 4.2 .13-3.7 .52-67.9 .13-6.8 .12 7.7 .49 116.7 .12 10.9 .13-10.4 .49-148 .13-11.2 .12 10.9 .47 128.7 .12 9.1 .11-7.3 .45-82 .11-5.2 .1 3.9 .39 40.2 .1 2.7 .08-1.3 .3-15.9 .08-1.2 .09 1.4 .33 21.9 .09 2 .11-4.2 .46-65.3 .11-6.1 .13 7.7 .51 108.3 .13 8.1 .17-12.9 .68-104 .17-3.8 .18 3.6 .73 105.7 .18 14.8 .13-7.8 .52-107.4 .13-8.2 .09 3.5 .39 44.2 .09 3.1 .08-2.2 .32-29 .08-2.5 .12 6.7 .47 109.1 .12 10.2 .13-11.9 .51-166.5 .13-12.8 .12 11.3 .5 129.3 .12 8.6 .11-4.5 .41-50.7 .1-3.2 .1 2.3 .37 25.6 .09 2 .18-6.2 .73-57.4 .18-5 .16 5 .61 125.7 .15 14.4 .14-12.6 .54-181.4 .13-14.9 .13 13.1 .53 152 .13 9.2 .12-6.5 .49-51.5 .12-1.4 .01 0 .04 .1 .02 0 .12-1.4 .49-48.2 .12-5.6 .12 6.3 .48 95.1 .12 8.1 .11-7.4 .46-97.1 .12-7.7 .11 7 .47 88.8 .11 6.3 .13-6.9 .49-72.6 .13-4.2 .2 8.6 .83 46.6 .21 5.6 .12-2.9 .47-46.1 .12-4.3 .1 3.5 .41 48.9 .11 4.3 .1-5 .43-73.9 .11-6.5 .12 8 .47 115 .11 9.4 .12-9.4 .47-120.9 .12-8.8 .1 7.2 .43 85.5 .11 6.1 .1-5.6 .41-70 .1-5.6 .12 7.5 .5 96.2 .12 6.5 .18-13.2 .71-114.6 .17-7.1 .17 7.3 .65 151.4 .16 15.6 .14-13.5 .55-169.3 .14-12.4 .25 30 1 98.9 .25 10.8 .13-5.8 .53-102.6 .13-8.9 .11 7.6 .45 94.6 .12 7.6 .1-5 .4-67.1 .1-5.4 .11 6.8 .44 92.7 .11 7.4 .13-10.8 .51-133.6 .13-9.5 .15 13.4 .63 119.9 .16 5.6 .18-5.5 .7-93.2 .18-10.9 .12 5.2 .49 75.1 .13 5.7 .09-3.6 .38-43.6 .09-3.7 .1 3.7 .4 55.3 .1 4.7 .11-6.9 .45-99.8 .12-8.8 .12 8.8 .46 124.3 .12 10 .12-9.3 .47-119.2 .11-9 .13 8.8 .49 99.7 .13 5.9 .21-14.3 .84-69.9 .21-6.3 .14 4.8 .56 92.7 .14 9.3 .13-7.8 .54-100 .13-6.2 .25 16.7 .99 53.9 .25 13.9 .11-3.8 .46-60.6 .11-5 .1 4.2 .39 56.2 .1 4.8 .11-6.4 .44-94.6 .11-8.3 .12 12.1 .5 169.6 .13 13.3 .13-16.8 .54-193.5 .14-12.5 .18 20.3 .73 135.2 .18 4.1 .18-3.8 .71-89 .18-9 .27 14.3 1.06 76.4 .26 28.1 .13-8.9 .53-144.6 .13-12.1 .12 11.2 .49 136.8 .12 9.5 .11-7 .43-77.7 .1-5.2 .1 4.1 .38 47.4 .1 3.3 .1-4.6 .43-55.1 .11-3.9 .11 3.5 .42 38.6 .1 2.4 .07-.9 .26-10.2 .07-.9 .1 2.2 .4 35.7 .1 3.5 .13-5.3 .5-81.7 .13-6.7 .13 7.4 .56 79.4 .14 4 .2-5.8 .79-64.2 .2-11.3 .13 6.1 .49 103.3 .13 10.2 .12-10.1 .49-153.5 .12-12.9 .13 14.1 .5 182.7 .12 13.1 .13-14.4 .51-154.8 .12-9.8 .13 7.9 .49 69.4 .13 2.8 .04-.2 .16-2.3 .04-.2 .1 1.4 .42 25 .1 2.5 .23-10.8 .9-54.2 .22-2.6 .15 3.1 .6 90.4 .15 10.1 .12-8.6 .51-112.6 .13-8.6 .1 5.1 .42 62.9 .11 4.3 .08-2.6 .34-33 .08-2.7 .11 5.7 .45 81.7 .12 6.7 .12-9 .5-113 .12-8.1 .11 5.1 .42 56.1 .11 3.6 .07-1 .26-13.1 .07-1.1 .11 3.5 .44 56.3 .11 5.3 .13-6.6 .5-92.1 .13-6.9 .13 6.3 .53 63.9 .13 3.1 .2-3.5 .78-42.4 .19-9.2 .12 4.4 .49 76.6 .12 6.9 .11-7.7 .47-106.4 .11-9.2 .12 9 .46 124 .12 9.9 .11-9.7 .47-124.3 .11-8.9 .12 9.3 .46 106.8 .11 7.5 .12-7 .45-76.9 .12-5 .11 4.2 .46 39.5 .11 1.8 .07-.4 .24-4.2 .07-.2 .05 .2 .21 2.5 .05 .3 .11-1.5 .46-29.6 .11-2.9 .11 3.4 .45 48.6 .11 3.9 .11-4.2 .44-53.4 .11-3.9 .1 3.9 .41 46.3 .1 3.5 .1-2.8 .38-37.3 .1-2.7 .1 3 .37 37.7 .1 3 .1-3.9 .4-53.3 .1-4.7 .11 5.2 .44 76.7 .11 6.2 .11-7.2 .45-94.8 .11-7.5 .11 8.1 .46 101.6 .12 7.5 .11-8.1 .47-93 .12-6.1 .12 7 .5 70.1 .12 4 .18-6.5 .71-49.8 .18-4.3 .13 3.4 .52 65.7 .13 6.7 .12-6.5 .47-95.2 .12-8.1 .12 8.5 .46 113.1 .12 8.9 .11-9.1 .46-114.9 .12-8.5 .11 8.4 .45 101 .11 6.9 .11-6.8 .44-74.4 .11-5.1 .1 3.9 .41 44.3 .1 2.9 .09-1.9 .34-21.6 .09-1.7 .09 1.5 .35 19.7 .08 1.5 .1-2.5 .4-29 .09-2 .11 2.7 .43 30.9 .1 2.1 .11-2.2 .42-22.1 .1-1.4 .1 1.1 .37 10.3 .1 .6 .08-.4 .3-3.6 .08-.3 .07 .2 .3 2.5 .07 .1 .05 0 .18-1 .04-.3 .01 0M1801.73 636l.01 0 .1-1.6 .4-18.4 .1-1.5 .14 3.4 .57 45.8 .14 3.3 .14-2.9 .53-26.7 .14-1 .03 0 .11 .4 .03 0 .14-1.3 .55-33.4 .13-3.9 .14 4.2 .55 63 .14 4.7 .12-3.8 .5-44.8 .12-3.1 .12 3.1 .47 35.6 .12 2.7 .14-3.5 .56-41.7 .14-2.7 .27 7.3 1.09 31 .27 5.9 .13-1.8 .52-30.2 .13-2.7 .11 1.7 .43 26.2 .11 2.3 .12-3.7 .51-58.6 .13-5.5 .14 7.7 .57 116.7 .14 9.9 .14-10.1 .57-132.4 .14-9.9 .13 7.7 .5 93.2 .13 6.8 .12-5.5 .46-69.9 .12-5.7 .13 7.3 .54 99.5 .13 7.6 .15-9.8 .61-108.3 .15-6.4 .3 16.1 1.2 93.7 .3 31.1 .16-11.6 .65-174.5 .16-14.5 .17 15 .68 175.3 .17 10.9 .19-13 .77-123.8 .19-7.9 .17 6.3 .66 90.7 .17 7.9 .14-6.1 .56-82 .14-6.6 .13 6.3 .55 80.6 .13 5.8 .13-5.5 .51-62.5 .12-4.5 .11 2.8 .41 34.9 .11 2.9 .11-3.3 .47-50.9 .11-4.7 .14 6.7 .56 100.6 .13 8.6 .15-8.3 .56-106.1 .14-7.2 .11 4.3 .45 49.2 .11 3.6 .1-2.3 .39-32.4 .09-2.7 .14 6.5 .54 98.5 .14 8.6 .15-11 .59-148 .15-11.6 .15 9.8 .58 115.9 .15 7.2 .12-4.4 .47-45.1 .12-3 .11 2.2 .46 27.2 .11 1.9 .19-5.7 .77-57.3 .2-3.6 .19 4.6 .79 104.7 .2 12.2 .16-10.1 .65-141.7 .16-11.2 .17 10.6 .64 112.4 .16 6.3 .28-10.3 1.08-68.5 .28-17.6 .14 6.9 .57 108.7 .14 9.5 .14-10.7 .56-145 .14-11.7 .15 12.9 .57 166 .14 12.9 .14-11.8 .58-140.1 .14-9.4 .13 5.5 .48 59.1 .12 3.7 .08-1.4 .33-17.8 .08-1.5 .14 4.2 .54 69.2 .13 6.4 .16-8.8 .65-113.3 .16-7.4 .26 15.5 1.03 93.1 .26 8.3 .18-5.7 .71-95.9 .17-8.1 .27 15.9 1.05 66.8 .27 1 .16-1.7 .67-50.5 .17-5.6 .12 3.5 .48 47.1 .13 4.1 .11-4.1 .48-61.4 .12-5.8 .14 7.8 .56 122 .14 10.7 .14-12.4 .58-168.9 .15-12.8 .14 13 .57 152.4 .15 10.3 .13-8.8 .53-93.9 .14-5.9 .11 3.9 .47 42.1 .12 2.5 .09-1.3 .35-15 .08-1.1 .1 1.6 .4 22.3 .09 2.1 .14-4.2 .54-72 .13-6.9 .15 9.1 .61 131.1 .16 10.4 .16-12.9 .68-144.8 .17-9.2 .22 12.5 .89 117.5 .23 9.2 .18-6.3 .73-92.4 .18-6.6 .12 2.5 .5 23.3 .13 1 .02 0 .09-.2 .03-.1 .16 2.4 .66 83.4 .17 10.5 .15-10 .62-153.1 .15-12.5 .15 11.6 .57 140.5 .15 9.8 .12-7.3 .51-81.2 .13-5.4 .11 4 .44 45.8 .11 3.3 .11-3.6 .46-45.4 .12-3.5 .11 3.4 .45 45.3 .11 3.5 .12-4.4 .48-60.6 .12-5 .13 7.5 .55 106.4 .13 8.9 .15-10.3 .58-135.8 .14-10.4 .15 9.7 .6 112.4 .14 7 .15-6.4 .58-61.9 .15-3.4 .17 4.2 .69 41 .18 3.2 .17-3.9 .67-76.4 .17-8.6 .16 8.2 .64 128.3 .16 11.1 .17-10.9 .67-124.3 .16-6.8 .29 12 1.14 103.4 .29 27.4 .15-10.8 .62-156.7 .15-12.9 .15 10 .56 122.8 .14 8.6 .11-4 .43-49.2 .11-3.5 .11 3.7 .42 48.6 .11 4.3 .14-7.1 .54-110.4 .14-9.7 .14 10 .58 134.7 .14 10.5 .14-9.2 .57-111.7 .14-7.7 .15 7.7 .59 80 .15 4.8 .22-7.8 .88-67.9 .22-6.7 .17 5.1 .69 95.5 .18 8.8 .16-8.7 .66-101.3 .17-6.1 .27 12.2 1.06 68.9 .27 10.4 .15-4.1 .58-68.6 .14-6.2 .12 4.3 .48 59.1 .12 4.9 .13-6 .5-86.6 .12-7.8 .15 10.9 .57 159.5 .15 13.1 .15-15.3 .6-190 .15-13.4 .15 12.7 .61 126.4 .15 6.5 .08-1.8 .35-17.6 .08-1.2 .08 1 .32 13 .08 1.3 .15-5 .61-91.1 .15-8 .15 8.5 .59 102.9 .15 7 .14-5 .54-51.7 .14-2.8 .08 .8 .32 8.8 .08 .7 .11-1 .42-15.3 .11-1.3 .13 2.2 .52 30.3 .13 2.4 .13-2.3 .52-29.2 .12-2.5 .14 2.6 .55 31.2 .14 2 .26-5.6 1.03-40.2 .26-8 .16 5.1 .66 86.9 .16 7.3 .15-8.1 .62-116.4 .15-9.1 .15 7.5 .58 83.7 .15 5 .09-1.5 .38-16.7 .1-1 .08 .9 .33 11.5 .09 1.1 .13-3.1 .55-49.5 .13-4.2 .13 4 .49 50.5 .13 4.1 .12-3.5 .47-48.4 .12-4.1 .13 5.4 .55 73.3 .13 5.5 .15-7 .59-76.9 .15-4.7 .11 2 .45 18.7 .11 .9 .03-.1 .12-.5 .03 0 .16 2.2 .64 69.9 .16 8.3 .16-7.9 .61-116.1 .15-9.3 .15 7.4 .59 84.1 .14 5.1 .1-1.6 .38-17.4 .09-1.2 .09 .8 .33 11.8 .09 1.1 .13-2.9 .54-48.5 .14-4.3 .12 3.7 .5 49.5 .12 4.2 .12-3.4 .47-48.2 .12-4.1 .14 5.3 .54 73.9 .14 5.8 .15-6.9 .6-78.3 .15-4.7 .11 2.3 .46 19.4 .11 .8 .03 0 .09-.3 .03 0 .16 2.1 .65 69.6 .17 7.9 .15-8.6 .61-115.8 .16-8.6 .14 8 .58 83.9 .15 5 .09-1.6 .39-18.2 .09-1.3 .09 .8 .34 12.1 .09 1 .13-3.1 .54-47.5 .13-4 .12 3.5 .48 44.4 .12 3.4 .11-2.4 .44-31.1 .11-2.4 .13 3.4 .53 45.4 .13 3.5 .18-5.4 .7-53.2 .17-2.4 .26 3.5 1.01 44.5 .25 3.8 .24-3.3 .97-43.1 .24-3.4 .24 3.3 .97 43.2 .24 3.3 .24-3.4 .96-43 .24-3.4 .24 3.3 .96 43.2 .24 3.3 .24-3.4 .96-43 .24-3.4 .24 3.3 .97 43.2 .24 3.3 .24-3.4 .96-43.1 .24-3.3 .24 3.4 .96 43.1 .24 3.3 .24-3.3 .97-43.2 .24-3.3 .24 3.4 .96 43 .24 3.4 .24-3.3 .96-43.2 .24-3.3 .24 3.3 .96 43.1 .24 3.4 .24-3.2 .97-43.2 .24-3.4 .24 3.3 .96 43.2 .24 3.3 .23-3 .91-36.9 .22-2.3 .23 2.1 .9 21.4 .22 1.3 .17-.6 .69-6.7 .17-.4 .02 0 .08 .1 .02 .1 .01 0M1979.9 636"/><use href="#w470"/></g>
<path d="M198 802.0v6.9M554 802.0v6.9M911 802.0v6.9M1267 802.0v6.9M1624 802.0v6.9M1980 802.0v6.9M109.0 802h-6.9M109.0 719h-6.9M109.0 636h-6.9M109.0 553h-6.9M109.0 470h-6.9" stroke="#000" stroke-width="1.67" fill="none"/>
<rect x="109.0" y="470.0" width="1960.0" height="332.0" fill="none" stroke="#000" stroke-width="1.67"/>
<text x="198" y="833.9" font-size="20.83" text-anchor="middle">0</text>
<text x="554" y="833.9" font-size="20.83" text-anchor="middle">1</text>
<text x="911" y="833.9" font-size="20.83" text-anchor="middle">2</text>
<text x="1267" y="833.9" font-size="20.83" text-anchor="middle">3</text>
<text x="1624" y="833.9" font-size="20.83" text-anchor="middle">4</text>
<text x="1980" y="833.9" font-size="20.83" text-anchor="middle">5</text>
<text x="93.5" y="811.0" font-size="20.83" text-anchor="end">−1.0</text>
<text x="93.5" y="728.0" font-size="20.83" text-anchor="end">−0.5</text>
<text x="93.5" y="645.0" font-size="20.83" text-anchor="end">0.0</text>
<text x="93.5" y="562.0" font-size="20.83" text-anchor="end">0.5</text>
<text x="93.5" y="479.0" font-size="20.83" text-anchor="end">1.0</text>
<text x="1089.0" y="458.7" font-size="25" text-anchor="middle">Rule 30 - Chaos (Dorian Mode)</text>
<text transform="translate(30.3 637.8) rotate(-90)" font-size="20.83" text-anchor="middle">Amplitude</text>
<text x="1089.0" y="861.5" font-size="20.83" text-anchor="middle">Time (seconds)</text>
</svg>
</body></html>
